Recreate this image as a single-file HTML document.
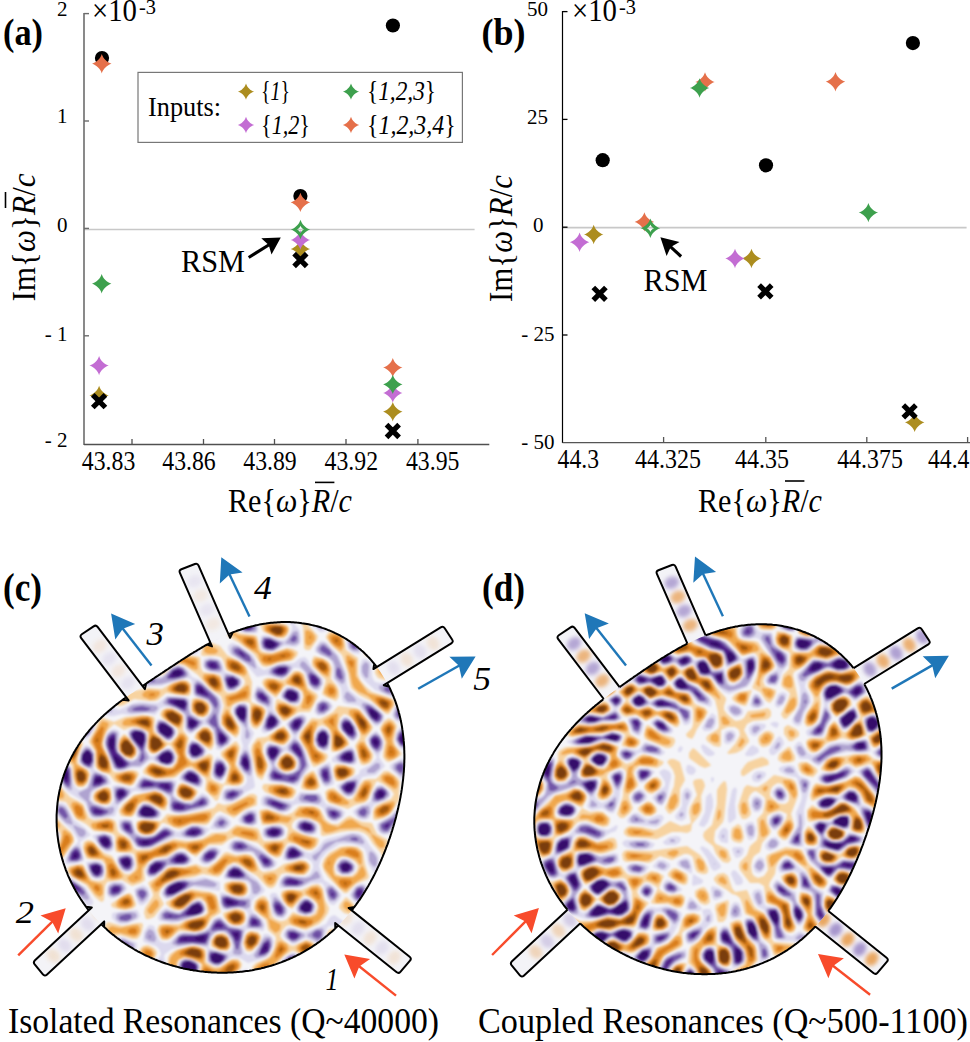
<!DOCTYPE html>
<html><head><meta charset="utf-8"><style>
html,body{margin:0;padding:0;background:#fff;overflow:hidden;width:970px;height:1042px;}
svg{display:block;}
text{font-family:"Liberation Serif",serif;fill:#000;}
</style></head><body>
<svg width="970" height="1042" viewBox="0 0 970 1042">
<rect width="970" height="1042" fill="#fff"/>
<line x1="84" y1="229.5" x2="474.6" y2="229.5" stroke="#c8c8c8" stroke-width="1.6"/>
<line x1="84" y1="13" x2="84" y2="445" stroke="#6c6c6c" stroke-width="1.6"/>
<line x1="84" y1="444.5" x2="489.3" y2="444.5" stroke="#505050" stroke-width="1.4"/>
<line x1="84" y1="13.6" x2="89" y2="13.6" stroke="#6c6c6c" stroke-width="1.4"/>
<line x1="84" y1="121.0" x2="89" y2="121.0" stroke="#6c6c6c" stroke-width="1.4"/>
<line x1="84" y1="228.4" x2="89" y2="228.4" stroke="#6c6c6c" stroke-width="1.4"/>
<line x1="84" y1="335.8" x2="89" y2="335.8" stroke="#6c6c6c" stroke-width="1.4"/>
<line x1="132" y1="444.5" x2="132" y2="439" stroke="#505050" stroke-width="1.3"/>
<line x1="203.5" y1="444.5" x2="203.5" y2="439" stroke="#505050" stroke-width="1.3"/>
<line x1="274.5" y1="444.5" x2="274.5" y2="439" stroke="#505050" stroke-width="1.3"/>
<line x1="346" y1="444.5" x2="346" y2="439" stroke="#505050" stroke-width="1.3"/>
<line x1="417.9" y1="444.5" x2="417.9" y2="439" stroke="#505050" stroke-width="1.3"/>
<text x="67.5" y="16" font-size="21" text-anchor="end"  >2</text>
<text x="67.5" y="123" font-size="21" text-anchor="end"  >1</text>
<text x="67.5" y="231.5" font-size="21" text-anchor="end"  >0</text>
<text x="67.5" y="340.5" font-size="21" text-anchor="end"  >- 1</text>
<text x="67.5" y="447" font-size="21" text-anchor="end"  >- 2</text>
<text x="92" y="20.6" font-size="31" textLength="45" lengthAdjust="spacingAndGlyphs">×10</text><text x="139" y="14" font-size="21" textLength="17" lengthAdjust="spacingAndGlyphs">-3</text>
<text x="3" y="45" font-size="38.5" text-anchor="start" textLength="40" lengthAdjust="spacingAndGlyphs" font-weight="bold" >(a)</text>
<text x="108.6" y="470" font-size="27.5" text-anchor="middle" textLength="53.5" lengthAdjust="spacingAndGlyphs"  >43.83</text>
<text x="189" y="470" font-size="27.5" text-anchor="middle" textLength="53.5" lengthAdjust="spacingAndGlyphs"  >43.86</text>
<text x="270" y="470" font-size="27.5" text-anchor="middle" textLength="53.5" lengthAdjust="spacingAndGlyphs"  >43.89</text>
<text x="351.3" y="470" font-size="27.5" text-anchor="middle" textLength="53.5" lengthAdjust="spacingAndGlyphs"  >43.92</text>
<text x="432.7" y="470" font-size="27.5" text-anchor="middle" textLength="53.5" lengthAdjust="spacingAndGlyphs"  >43.95</text>
<text x="228" y="512.4" font-size="34" textLength="124" lengthAdjust="spacingAndGlyphs">Re{<tspan font-style="italic">ω</tspan>}<tspan font-style="italic">R</tspan>/<tspan font-style="italic">c</tspan></text>
<line x1="315" y1="482.4" x2="334.4" y2="482.4" stroke="#000" stroke-width="1.6"/>
<g transform="translate(34.5,301.5) rotate(-90)"><text x="0" y="0" font-size="34" textLength="128" lengthAdjust="spacingAndGlyphs">Im{<tspan font-style="italic">ω</tspan>}<tspan font-style="italic">R</tspan>/<tspan font-style="italic">c</tspan></text></g>
<line x1="5.5" y1="192" x2="5.5" y2="208" stroke="#000" stroke-width="1.6"/>
<rect x="138" y="72.4" width="324.4" height="70" fill="#fff" stroke="#777" stroke-width="1.2"/>
<text x="148" y="116" font-size="28" text-anchor="start" textLength="73" lengthAdjust="spacingAndGlyphs"  >Inputs:</text>
<path d="M246.00,83.40C246.98,87.01 250.59,90.62 254.20,91.60C250.59,92.58 246.98,96.19 246.00,99.80C245.02,96.19 241.41,92.58 237.80,91.60C241.41,90.62 245.02,87.01 246.00,83.40Z" fill="#AC8D1F"/>
<path d="M246.00,116.80C246.98,120.41 250.59,124.02 254.20,125.00C250.59,125.98 246.98,129.59 246.00,133.20C245.02,129.59 241.41,125.98 237.80,125.00C241.41,124.02 245.02,120.41 246.00,116.80Z" fill="#C36DD3"/>
<path d="M351.00,83.40C351.98,87.01 355.59,90.62 359.20,91.60C355.59,92.58 351.98,96.19 351.00,99.80C350.02,96.19 346.41,92.58 342.80,91.60C346.41,90.62 350.02,87.01 351.00,83.40Z" fill="#3DA04D"/>
<path d="M351.00,116.80C351.98,120.41 355.59,124.02 359.20,125.00C355.59,125.98 351.98,129.59 351.00,133.20C350.02,129.59 346.41,125.98 342.80,125.00C346.41,124.02 350.02,120.41 351.00,116.80Z" fill="#E5704A"/>
<text x="261" y="100" font-size="27" textLength="29" lengthAdjust="spacingAndGlyphs">{<tspan font-style="italic">1</tspan>}</text>
<text x="261" y="134" font-size="27" textLength="49" lengthAdjust="spacingAndGlyphs">{<tspan font-style="italic">1,2</tspan>}</text>
<text x="367" y="100" font-size="27" textLength="69" lengthAdjust="spacingAndGlyphs">{<tspan font-style="italic">1,2,3</tspan>}</text>
<text x="367" y="134" font-size="27" textLength="88.6" lengthAdjust="spacingAndGlyphs">{<tspan font-style="italic">1,2,3,4</tspan>}</text>
<circle cx="102" cy="58" r="7.1" fill="#000"/>
<circle cx="300.4" cy="196" r="7.1" fill="#000"/>
<circle cx="392.9" cy="25.5" r="7.1" fill="#000"/>
<path d="M99.10,385.80C100.26,390.07 104.53,394.34 108.80,395.50C104.53,396.66 100.26,400.93 99.10,405.20C97.94,400.93 93.67,396.66 89.40,395.50C93.67,394.34 97.94,390.07 99.10,385.80Z" fill="#AC8D1F"/>
<path d="M300.40,239.30C301.56,243.57 305.83,247.84 310.10,249.00C305.83,250.16 301.56,254.43 300.40,258.70C299.24,254.43 294.97,250.16 290.70,249.00C294.97,247.84 299.24,243.57 300.40,239.30Z" fill="#AC8D1F"/>
<path d="M392.80,402.00C393.96,406.27 398.23,410.54 402.50,411.70C398.23,412.86 393.96,417.13 392.80,421.40C391.64,417.13 387.37,412.86 383.10,411.70C387.37,410.54 391.64,406.27 392.80,402.00Z" fill="#AC8D1F"/>
<path d="M99.10,355.90C100.26,360.17 104.53,364.44 108.80,365.60C104.53,366.76 100.26,371.03 99.10,375.30C97.94,371.03 93.67,366.76 89.40,365.60C93.67,364.44 97.94,360.17 99.10,355.90Z" fill="#C36DD3"/>
<path d="M300.40,230.30C301.56,234.57 305.83,238.84 310.10,240.00C305.83,241.16 301.56,245.43 300.40,249.70C299.24,245.43 294.97,241.16 290.70,240.00C294.97,238.84 299.24,234.57 300.40,230.30Z" fill="#C36DD3"/>
<path d="M392.80,383.30C393.96,387.57 398.23,391.84 402.50,393.00C398.23,394.16 393.96,398.43 392.80,402.70C391.64,398.43 387.37,394.16 383.10,393.00C387.37,391.84 391.64,387.57 392.80,383.30Z" fill="#C36DD3"/>
<path d="M101.80,54.10C102.96,58.37 107.23,62.64 111.50,63.80C107.23,64.96 102.96,69.23 101.80,73.50C100.64,69.23 96.37,64.96 92.10,63.80C96.37,62.64 100.64,58.37 101.80,54.10Z" fill="#E5704A"/>
<path d="M300.40,192.70C301.56,196.97 305.83,201.24 310.10,202.40C305.83,203.56 301.56,207.83 300.40,212.10C299.24,207.83 294.97,203.56 290.70,202.40C294.97,201.24 299.24,196.97 300.40,192.70Z" fill="#E5704A"/>
<path d="M392.80,357.90C393.96,362.17 398.23,366.44 402.50,367.60C398.23,368.76 393.96,373.03 392.80,377.30C391.64,373.03 387.37,368.76 383.10,367.60C387.37,366.44 391.64,362.17 392.80,357.90Z" fill="#E5704A"/>
<path d="M101.70,274.10C102.86,278.37 107.13,282.64 111.40,283.80C107.13,284.96 102.86,289.23 101.70,293.50C100.54,289.23 96.27,284.96 92.00,283.80C96.27,282.64 100.54,278.37 101.70,274.10Z" fill="#3DA04D"/>
<path d="M392.80,374.70C393.96,378.97 398.23,383.24 402.50,384.40C398.23,385.56 393.96,389.83 392.80,394.10C391.64,389.83 387.37,385.56 383.10,384.40C387.37,383.24 391.64,378.97 392.80,374.70Z" fill="#3DA04D"/>
<path d="M300.50,219.70C301.68,224.01 305.99,228.32 310.30,229.50C305.99,230.68 301.68,234.99 300.50,239.30C299.32,234.99 295.01,230.68 290.70,229.50C295.01,228.32 299.32,224.01 300.50,219.70ZM300.50,225.78C300.95,227.41 302.59,229.05 304.22,229.50C302.59,229.95 300.95,231.59 300.50,233.22C300.05,231.59 298.41,229.95 296.78,229.50C298.41,229.05 300.05,227.41 300.50,225.78Z" fill="#3DA04D" fill-rule="evenodd"/>
<path d="M92.80,394.90L105.40,407.50M105.40,394.90L92.80,407.50" stroke="#000" stroke-width="5.2" fill="none"/>
<path d="M294.10,253.70L306.70,266.30M306.70,253.70L294.10,266.30" stroke="#000" stroke-width="5.2" fill="none"/>
<path d="M386.50,424.70L399.10,437.30M399.10,424.70L386.50,437.30" stroke="#000" stroke-width="5.2" fill="none"/>
<text x="181" y="272.4" font-size="31" text-anchor="start" textLength="64" lengthAdjust="spacingAndGlyphs"  >RSM</text>
<line x1="248.7" y1="257.5" x2="269.5" y2="244.5" stroke="#000" stroke-width="3.1"/><polygon points="280.8,237.4 271.5,254.6 268.7,245.0 261.3,238.3" fill="#000"/>
<line x1="562.5" y1="227.6" x2="966.6" y2="227.6" stroke="#c8c8c8" stroke-width="1.6"/>
<line x1="562.5" y1="11" x2="562.5" y2="443" stroke="#000" stroke-width="1.2"/>
<line x1="562.5" y1="442.6" x2="970" y2="442.6" stroke="#555" stroke-width="1.4"/>
<line x1="562.5" y1="11.6" x2="567.5" y2="11.6" stroke="#000" stroke-width="1.3"/>
<line x1="562.5" y1="119.4" x2="567.5" y2="119.4" stroke="#000" stroke-width="1.3"/>
<line x1="562.5" y1="227.2" x2="567.5" y2="227.2" stroke="#000" stroke-width="1.3"/>
<line x1="562.5" y1="335.0" x2="567.5" y2="335.0" stroke="#000" stroke-width="1.3"/>
<line x1="663.6" y1="442.6" x2="663.6" y2="437" stroke="#555" stroke-width="1.3"/>
<line x1="765.8" y1="442.6" x2="765.8" y2="437" stroke="#555" stroke-width="1.3"/>
<line x1="866.8" y1="442.6" x2="866.8" y2="437" stroke="#555" stroke-width="1.3"/>
<line x1="967.6" y1="442.6" x2="967.6" y2="437" stroke="#555" stroke-width="1.3"/>
<text x="548" y="16" font-size="21" text-anchor="end"  >50</text>
<text x="548" y="124.2" font-size="21" text-anchor="end"  >25</text>
<text x="543.5" y="232.2" font-size="21" text-anchor="end"  >0</text>
<text x="554.5" y="340.6" font-size="21" text-anchor="end"  >- 25</text>
<text x="554.5" y="448.8" font-size="21" text-anchor="end"  >- 50</text>
<text x="572" y="20.6" font-size="31" textLength="45" lengthAdjust="spacingAndGlyphs">×10</text><text x="619" y="14" font-size="21" textLength="17" lengthAdjust="spacingAndGlyphs">-3</text>
<text x="481.5" y="45" font-size="38.5" text-anchor="start" textLength="44" lengthAdjust="spacingAndGlyphs" font-weight="bold" >(b)</text>
<text x="578.3" y="468" font-size="27.5" text-anchor="middle" textLength="41.4" lengthAdjust="spacingAndGlyphs"  >44.3</text>
<text x="668" y="468" font-size="27.5" text-anchor="middle" textLength="66" lengthAdjust="spacingAndGlyphs"  >44.325</text>
<text x="762" y="468" font-size="27.5" text-anchor="middle" textLength="54" lengthAdjust="spacingAndGlyphs"  >44.35</text>
<text x="870" y="468" font-size="27.5" text-anchor="middle" textLength="65.7" lengthAdjust="spacingAndGlyphs"  >44.375</text>
<text x="948.7" y="468" font-size="27.5" text-anchor="middle" textLength="41.4" lengthAdjust="spacingAndGlyphs"  >44.4</text>
<text x="698" y="512" font-size="34" textLength="124" lengthAdjust="spacingAndGlyphs">Re{<tspan font-style="italic">ω</tspan>}<tspan font-style="italic">R</tspan>/<tspan font-style="italic">c</tspan></text>
<line x1="785" y1="481" x2="804.4" y2="481" stroke="#000" stroke-width="1.6"/>
<g transform="translate(512.4,302) rotate(-90)"><text x="0" y="0" font-size="34" textLength="127" lengthAdjust="spacingAndGlyphs">Im{<tspan font-style="italic">ω</tspan>}<tspan font-style="italic">R</tspan>/<tspan font-style="italic">c</tspan></text></g>
<circle cx="602.7" cy="160.2" r="7.1" fill="#000"/>
<circle cx="766" cy="165.3" r="7.1" fill="#000"/>
<circle cx="912.9" cy="43.1" r="7.1" fill="#000"/>
<path d="M593.70,224.80C594.86,229.07 599.13,233.34 603.40,234.50C599.13,235.66 594.86,239.93 593.70,244.20C592.54,239.93 588.27,235.66 584.00,234.50C588.27,233.34 592.54,229.07 593.70,224.80Z" fill="#AC8D1F"/>
<path d="M751.50,248.80C752.66,253.07 756.93,257.34 761.20,258.50C756.93,259.66 752.66,263.93 751.50,268.20C750.34,263.93 746.07,259.66 741.80,258.50C746.07,257.34 750.34,253.07 751.50,248.80Z" fill="#AC8D1F"/>
<path d="M914.70,412.70C915.86,416.97 920.13,421.24 924.40,422.40C920.13,423.56 915.86,427.83 914.70,432.10C913.54,427.83 909.27,423.56 905.00,422.40C909.27,421.24 913.54,416.97 914.70,412.70Z" fill="#AC8D1F"/>
<path d="M579.60,232.50C580.76,236.77 585.03,241.04 589.30,242.20C585.03,243.36 580.76,247.63 579.60,251.90C578.44,247.63 574.17,243.36 569.90,242.20C574.17,241.04 578.44,236.77 579.60,232.50Z" fill="#C36DD3"/>
<path d="M735.00,248.80C736.16,253.07 740.43,257.34 744.70,258.50C740.43,259.66 736.16,263.93 735.00,268.20C733.84,263.93 729.57,259.66 725.30,258.50C729.57,257.34 733.84,253.07 735.00,248.80Z" fill="#C36DD3"/>
<path d="M644.40,212.20C645.56,216.47 649.83,220.74 654.10,221.90C649.83,223.06 645.56,227.33 644.40,231.60C643.24,227.33 638.97,223.06 634.70,221.90C638.97,220.74 643.24,216.47 644.40,212.20Z" fill="#E5704A"/>
<path d="M705.00,72.30C706.16,76.57 710.43,80.84 714.70,82.00C710.43,83.16 706.16,87.43 705.00,91.70C703.84,87.43 699.57,83.16 695.30,82.00C699.57,80.84 703.84,76.57 705.00,72.30Z" fill="#E5704A"/>
<path d="M835.50,72.10C836.66,76.37 840.93,80.64 845.20,81.80C840.93,82.96 836.66,87.23 835.50,91.50C834.34,87.23 830.07,82.96 825.80,81.80C830.07,80.64 834.34,76.37 835.50,72.10Z" fill="#E5704A"/>
<path d="M699.60,78.30C700.76,82.57 705.03,86.84 709.30,88.00C705.03,89.16 700.76,93.43 699.60,97.70C698.44,93.43 694.17,89.16 689.90,88.00C694.17,86.84 698.44,82.57 699.60,78.30Z" fill="#3DA04D"/>
<path d="M868.40,202.90C869.56,207.17 873.83,211.44 878.10,212.60C873.83,213.76 869.56,218.03 868.40,222.30C867.24,218.03 862.97,213.76 858.70,212.60C862.97,211.44 867.24,207.17 868.40,202.90Z" fill="#3DA04D"/>
<path d="M650.40,218.50C651.58,222.81 655.89,227.12 660.20,228.30C655.89,229.48 651.58,233.79 650.40,238.10C649.22,233.79 644.91,229.48 640.60,228.30C644.91,227.12 649.22,222.81 650.40,218.50ZM650.40,224.58C650.85,226.21 652.49,227.85 654.12,228.30C652.49,228.75 650.85,230.39 650.40,232.02C649.95,230.39 648.31,228.75 646.68,228.30C648.31,227.85 649.95,226.21 650.40,224.58Z" fill="#3DA04D" fill-rule="evenodd"/>
<path d="M593.30,287.50L605.90,300.10M605.90,287.50L593.30,300.10" stroke="#000" stroke-width="5.2" fill="none"/>
<path d="M759.10,285.10L771.70,297.70M771.70,285.10L759.10,297.70" stroke="#000" stroke-width="5.2" fill="none"/>
<path d="M903.30,405.10L915.90,417.70M915.90,405.10L903.30,417.70" stroke="#000" stroke-width="5.2" fill="none"/>
<text x="643.5" y="291.4" font-size="31" text-anchor="start" textLength="64" lengthAdjust="spacingAndGlyphs"  >RSM</text>
<line x1="681.1" y1="256.5" x2="670.1" y2="246.3" stroke="#000" stroke-width="3.1"/><polygon points="660.4,237.3 679.5,242.0 670.8,247.0 666.6,256.0" fill="#000"/>
<defs><filter id="blur" x="-5%" y="-5%" width="110%" height="110%"><feGaussianBlur stdDeviation="1.1"/></filter><filter id="blur2" x="-50%" y="-50%" width="200%" height="200%"><feGaussianBlur stdDeviation="2.2"/></filter></defs>
<clipPath id="clipc"><path d="M399.9,800.1 L399.3,803.1 L398.6,806.1 L398.0,809.1 L397.3,812.1 L396.5,815.0 L395.8,817.9 L395.0,820.8 L394.2,823.7 L393.4,826.5 L392.5,829.4 L391.6,832.2 L390.7,835.0 L389.8,837.8 L388.8,840.5 L387.9,843.3 L386.9,846.0 L385.8,848.8 L384.8,851.5 L383.7,854.2 L382.6,856.9 L381.5,859.5 L380.3,862.2 L379.1,864.8 L377.9,867.4 L376.7,870.0 L375.4,872.6 L374.1,875.2 L372.8,877.8 L371.4,880.3 L370.0,882.9 L368.6,885.4 L367.1,887.9 L365.7,890.3 L364.1,892.8 L362.6,895.2 L361.0,897.7 L359.4,900.1 L357.7,902.4 L356.0,904.8 L354.2,907.1 L352.5,909.4 L350.7,911.7 L348.8,914.0 L346.9,916.2 L345.0,918.4 L343.0,920.5 L341.0,922.7 L339.0,924.8 L336.9,926.8 L334.8,928.9 L332.6,930.9 L330.4,932.8 L328.2,934.8 L325.9,936.6 L323.6,938.5 L321.3,940.3 L318.9,942.1 L316.5,943.8 L314.1,945.4 L311.6,947.1 L309.1,948.7 L306.5,950.2 L304.0,951.7 L301.4,953.1 L298.7,954.5 L296.1,955.9 L293.4,957.2 L290.7,958.4 L288.0,959.6 L285.2,960.8 L282.4,961.8 L279.6,962.9 L276.8,963.9 L274.0,964.8 L271.1,965.7 L268.2,966.5 L265.3,967.3 L262.4,968.0 L259.5,968.7 L256.6,969.3 L253.6,969.9 L250.7,970.4 L247.7,970.9 L244.7,971.3 L241.8,971.7 L238.8,972.0 L235.8,972.2 L232.8,972.4 L229.8,972.6 L226.8,972.7 L223.7,972.7 L220.7,972.7 L217.7,972.7 L214.7,972.6 L211.7,972.4 L208.7,972.2 L205.7,971.9 L202.7,971.6 L199.7,971.3 L196.7,970.8 L193.7,970.4 L190.7,969.9 L187.7,969.3 L184.7,968.7 L181.8,968.0 L178.8,967.3 L175.9,966.5 L173.0,965.7 L170.0,964.9 L167.1,963.9 L164.2,963.0 L161.4,962.0 L158.5,960.9 L155.7,959.8 L152.9,958.6 L150.1,957.4 L147.3,956.1 L144.5,954.8 L141.8,953.4 L139.1,952.0 L136.4,950.5 L133.7,949.0 L131.1,947.4 L128.5,945.8 L125.9,944.2 L123.4,942.5 L120.8,940.7 L118.4,938.9 L115.9,937.0 L113.5,935.1 L111.1,933.2 L108.8,931.2 L106.5,929.1 L104.2,927.0 L102.0,924.9 L99.8,922.7 L97.7,920.5 L95.6,918.3 L93.5,916.0 L91.5,913.6 L89.6,911.2 L87.6,908.8 L85.8,906.4 L84.0,903.9 L82.2,901.3 L80.5,898.8 L78.9,896.2 L77.3,893.6 L75.7,890.9 L74.2,888.2 L72.8,885.5 L71.4,882.7 L70.1,880.0 L68.8,877.2 L67.6,874.3 L66.5,871.5 L65.4,868.6 L64.4,865.7 L63.4,862.8 L62.5,859.9 L61.7,857.0 L60.9,854.0 L60.2,851.1 L59.5,848.1 L59.0,845.1 L58.4,842.1 L58.0,839.1 L57.6,836.1 L57.3,833.1 L57.0,830.1 L56.8,827.1 L56.7,824.0 L56.6,821.0 L56.6,818.0 L56.6,815.0 L56.8,812.0 L57.0,809.0 L57.2,806.1 L57.5,803.1 L57.9,800.1 L58.3,797.2 L58.9,794.3 L59.4,791.4 L60.1,788.5 L60.7,785.6 L61.5,782.8 L62.3,779.9 L63.2,777.1 L64.1,774.4 L65.1,771.6 L66.2,768.9 L67.3,766.2 L68.4,763.6 L69.6,761.0 L70.9,758.4 L72.2,755.8 L73.5,753.3 L75.0,750.8 L76.4,748.4 L77.9,746.0 L79.5,743.6 L81.0,741.3 L82.7,739.0 L84.3,736.7 L86.0,734.5 L87.8,732.3 L89.5,730.2 L91.3,728.1 L93.1,726.1 L95.0,724.1 L96.9,722.1 L98.8,720.2 L100.7,718.3 L102.6,716.4 L104.6,714.6 L106.6,712.8 L108.6,711.1 L110.6,709.4 L112.6,707.7 L114.6,706.0 L116.6,704.4 L118.7,702.8 L120.7,701.3 L122.8,699.7 L124.8,698.2 L126.9,696.7 L128.9,695.2 L131.0,693.8 L133.1,692.4 L135.1,690.9 L137.2,689.5 L139.2,688.1 L141.3,686.7 L143.4,685.4 L145.4,684.0 L147.5,682.6 L149.5,681.2 L151.6,679.9 L153.7,678.5 L155.7,677.1 L157.8,675.8 L159.9,674.4 L162.0,673.0 L164.1,671.6 L166.2,670.2 L168.3,668.8 L170.4,667.4 L172.6,666.0 L174.7,664.6 L176.9,663.1 L179.1,661.7 L181.3,660.2 L183.5,658.8 L185.8,657.3 L188.1,655.9 L190.4,654.4 L192.8,653.0 L195.2,651.5 L197.6,650.0 L200.0,648.6 L202.5,647.1 L205.0,645.7 L207.6,644.3 L210.2,642.9 L212.9,641.5 L215.6,640.1 L218.3,638.8 L221.1,637.4 L223.9,636.1 L226.8,634.9 L229.7,633.7 L232.6,632.5 L235.6,631.4 L238.6,630.3 L241.7,629.2 L244.8,628.3 L248.0,627.3 L251.2,626.5 L254.4,625.7 L257.6,625.0 L260.9,624.3 L264.2,623.7 L267.6,623.2 L271.0,622.8 L274.4,622.5 L277.8,622.3 L281.2,622.1 L284.6,622.0 L288.1,622.1 L291.5,622.2 L295.0,622.4 L298.4,622.7 L301.9,623.2 L305.3,623.7 L308.7,624.3 L312.1,625.1 L315.5,625.9 L318.9,626.8 L322.2,627.9 L325.6,629.0 L328.8,630.3 L332.1,631.6 L335.2,633.1 L338.4,634.6 L341.5,636.3 L344.5,638.0 L347.5,639.9 L350.4,641.8 L353.3,643.9 L356.1,646.0 L358.8,648.2 L361.5,650.5 L364.1,652.8 L366.6,655.3 L369.1,657.8 L371.4,660.4 L373.7,663.1 L375.9,665.8 L378.0,668.6 L380.1,671.5 L382.0,674.4 L383.9,677.4 L385.7,680.4 L387.4,683.4 L389.0,686.5 L390.5,689.7 L391.9,692.9 L393.3,696.1 L394.6,699.3 L395.8,702.6 L396.9,705.8 L397.9,709.2 L398.8,712.5 L399.7,715.8 L400.5,719.1 L401.2,722.5 L401.8,725.8 L402.3,729.2 L402.8,732.5 L403.2,735.9 L403.6,739.2 L403.9,742.6 L404.1,745.9 L404.2,749.2 L404.3,752.6 L404.4,755.9 L404.4,759.1 L404.3,762.4 L404.2,765.7 L404.0,768.9 L403.8,772.1 L403.5,775.3 L403.2,778.5 L402.8,781.6 L402.4,784.8 L402.0,787.9 L401.5,791.0 L401.0,794.1 L400.5,797.1Z"/></clipPath>
<clipPath id="wgc0"><path d="M347.0,906.6 L411.8,958.6 L398.6,973.9 L333.6,921.7Z"/></clipPath>
<path d="M347.0,906.6 L411.8,958.6 L398.6,973.9 L333.6,921.7Z" fill="#F3F3F7"/>
<g clip-path="url(#wgc0)"><g filter="url(#blur2)"><ellipse cx="394.3" cy="957.5" rx="6" ry="7.5" transform="rotate(-141.3 394.3 957.5)" fill="#E89A48" opacity="0.18"/><ellipse cx="382.2" cy="947.8" rx="6" ry="7.5" transform="rotate(-141.3 382.2 947.8)" fill="#9A86C6" opacity="0.18"/><ellipse cx="370.1" cy="938.1" rx="6" ry="7.5" transform="rotate(-141.3 370.1 938.1)" fill="#E89A48" opacity="0.18"/><ellipse cx="358.0" cy="928.4" rx="6" ry="7.5" transform="rotate(-141.3 358.0 928.4)" fill="#9A86C6" opacity="0.18"/><ellipse cx="345.9" cy="918.7" rx="6" ry="7.5" transform="rotate(-141.3 345.9 918.7)" fill="#E89A48" opacity="0.18"/></g></g>
<clipPath id="wgc1"><path d="M93.2,906.2 L32.9,962.2 L44.7,976.6 L105.6,920.1Z"/></clipPath>
<path d="M93.2,906.2 L32.9,962.2 L44.7,976.6 L105.6,920.1Z" fill="#F3F3F7"/>
<g clip-path="url(#wgc1)"><g filter="url(#blur2)"><ellipse cx="53.5" cy="955.8" rx="6" ry="7.5" transform="rotate(-42.9 53.5 955.8)" fill="#E89A48" opacity="0.2"/><ellipse cx="64.8" cy="945.3" rx="6" ry="7.5" transform="rotate(-42.9 64.8 945.3)" fill="#9A86C6" opacity="0.2"/><ellipse cx="76.2" cy="934.7" rx="6" ry="7.5" transform="rotate(-42.9 76.2 934.7)" fill="#E89A48" opacity="0.2"/><ellipse cx="87.6" cy="924.2" rx="6" ry="7.5" transform="rotate(-42.9 87.6 924.2)" fill="#9A86C6" opacity="0.2"/><ellipse cx="98.9" cy="913.6" rx="6" ry="7.5" transform="rotate(-42.9 98.9 913.6)" fill="#E89A48" opacity="0.2"/></g></g>
<clipPath id="wgc2"><path d="M129.8,702.0 L79.5,635.9 L95.9,624.7 L146.1,690.7Z"/></clipPath>
<path d="M129.8,702.0 L79.5,635.9 L95.9,624.7 L146.1,690.7Z" fill="#F3F3F7"/>
<g clip-path="url(#wgc2)"><g filter="url(#blur2)"><ellipse cx="99.8" cy="646.2" rx="6" ry="7.5" transform="rotate(52.8 99.8 646.2)" fill="#E89A48" opacity="0.15"/><ellipse cx="109.2" cy="658.6" rx="6" ry="7.5" transform="rotate(52.8 109.2 658.6)" fill="#9A86C6" opacity="0.15"/><ellipse cx="118.6" cy="670.9" rx="6" ry="7.5" transform="rotate(52.8 118.6 670.9)" fill="#E89A48" opacity="0.15"/><ellipse cx="127.9" cy="683.2" rx="6" ry="7.5" transform="rotate(52.8 127.9 683.2)" fill="#9A86C6" opacity="0.15"/></g></g>
<clipPath id="wgc3"><path d="M212.8,648.2 L178.8,570.2 L197.5,563.0 L230.9,639.6Z"/></clipPath>
<path d="M212.8,648.2 L178.8,570.2 L197.5,563.0 L230.9,639.6Z" fill="#F3F3F7"/>
<g clip-path="url(#wgc3)"><g filter="url(#blur2)"><ellipse cx="194.5" cy="581.3" rx="6" ry="7.5" transform="rotate(66.4 194.5 581.3)" fill="#9A86C6" opacity="0.12"/><ellipse cx="200.7" cy="595.5" rx="6" ry="7.5" transform="rotate(66.4 200.7 595.5)" fill="#E89A48" opacity="0.12"/><ellipse cx="206.9" cy="609.7" rx="6" ry="7.5" transform="rotate(66.4 206.9 609.7)" fill="#9A86C6" opacity="0.12"/><ellipse cx="213.1" cy="623.9" rx="6" ry="7.5" transform="rotate(66.4 213.1 623.9)" fill="#E89A48" opacity="0.12"/></g></g>
<clipPath id="wgc4"><path d="M371.7,670.2 L443.1,625.9 L453.7,641.8 L382.1,686.2Z"/></clipPath>
<path d="M371.7,670.2 L443.1,625.9 L453.7,641.8 L382.1,686.2Z" fill="#F3F3F7"/>
<g clip-path="url(#wgc4)"><g filter="url(#blur2)"><ellipse cx="433.1" cy="643.3" rx="6" ry="7.5" transform="rotate(148.2 433.1 643.3)" fill="#E89A48" opacity="0.18"/><ellipse cx="419.9" cy="651.5" rx="6" ry="7.5" transform="rotate(148.2 419.9 651.5)" fill="#9A86C6" opacity="0.18"/><ellipse cx="406.8" cy="659.7" rx="6" ry="7.5" transform="rotate(148.2 406.8 659.7)" fill="#E89A48" opacity="0.18"/><ellipse cx="393.6" cy="667.8" rx="6" ry="7.5" transform="rotate(148.2 393.6 667.8)" fill="#9A86C6" opacity="0.18"/></g></g>
<g clip-path="url(#clipc)"><rect x="53.0" y="619.0" width="355.0" height="357.0" fill="#F4F4F8"/><g filter="url(#blur)"><path fill="#F7D3A0" fill-rule="evenodd" d="M96,633 92,634 88,633 69,619 83,619 88,622 92,621 96,619 110,619 101,630 96,633ZM130,627 126,627 124,626 118,619 142,619 130,627ZM161,621 156,622 147,619 163,619 161,621ZM270,666 266,667 262,666 254,654 238,642 229,637 218,624 214,622 207,620 206,619 231,619 236,629 239,633 244,634 254,635 257,636 260,649 263,652 272,653 287,648 293,649 298,652 297,656 293,660 278,663 270,666ZM284,638 278,638 264,632 262,630 260,623 251,619 262,619 263,621 264,622 281,623 287,625 289,628 289,631 287,635 284,638ZM310,650 306,650 304,648 303,626 298,619 307,619 307,622 308,625 318,636 317,640 310,650ZM332,621 329,621 326,619 336,619 332,621ZM365,637 356,634 352,631 351,625 352,619 365,619 367,626 365,637ZM392,628 389,629 384,628 380,624 378,619 396,619 397,622 392,628ZM407,626 402,622 403,619 407,619 407,626ZM236,738 226,730 221,724 221,716 224,706 221,696 210,689 198,675 185,666 180,664 174,665 172,666 164,674 160,675 144,671 131,677 125,676 119,673 117,672 117,668 119,665 122,663 130,662 143,665 154,661 164,659 170,656 175,648 167,643 161,642 156,643 149,650 143,651 138,650 132,644 130,642 131,640 136,637 154,634 164,630 180,631 191,623 198,622 203,623 203,631 202,639 188,637 184,637 180,640 177,646 176,648 177,649 188,655 200,657 201,668 203,672 216,674 220,675 222,679 225,691 228,693 234,692 239,690 244,685 245,682 244,679 240,676 226,670 223,660 221,657 216,656 203,656 201,655 203,641 212,643 220,646 227,655 239,661 246,667 252,682 251,702 262,706 266,710 265,715 262,724 258,728 256,729 252,727 250,722 250,703 246,702 240,702 233,705 231,709 231,712 240,728 239,734 236,738ZM106,690 101,688 97,682 93,667 82,660 75,648 72,647 60,647 53,644 53,629 66,635 76,644 84,645 92,650 94,655 95,664 97,666 107,670 110,673 110,676 107,688 106,690ZM389,714 386,714 371,701 359,695 351,688 350,684 348,673 342,655 332,646 326,638 326,636 329,632 332,631 336,632 341,634 344,637 346,650 358,658 358,661 358,674 360,680 366,687 372,692 388,697 394,700 395,703 394,706 389,714ZM118,654 112,654 105,650 104,648 104,644 107,640 112,638 118,638 122,639 126,642 124,646 118,654ZM407,662 386,647 383,647 374,657 371,657 366,656 364,654 364,650 366,638 366,638 383,642 389,639 394,639 405,643 407,644 407,662ZM336,701 326,697 322,694 326,680 324,678 316,670 312,666 312,660 314,656 318,657 324,659 328,661 330,664 332,668 331,679 337,686 339,691 339,697 336,701ZM56,708 53,708 53,691 65,691 68,688 69,682 68,678 65,675 60,674 53,674 53,660 54,660 64,662 73,670 80,680 83,691 83,694 82,695 71,695 68,695 61,704 56,708ZM394,679 384,680 378,678 375,673 376,665 377,664 382,664 393,670 399,678 394,679ZM287,720 284,721 282,720 275,710 275,706 276,700 278,699 292,705 298,706 300,704 302,701 303,696 302,692 297,688 287,685 284,687 276,698 266,690 263,685 262,682 264,679 268,678 284,680 294,671 299,671 304,674 308,688 317,694 318,697 310,712 299,712 287,720ZM407,702 402,700 400,697 401,685 400,679 402,678 407,678 407,702ZM124,705 119,706 113,703 109,698 108,696 108,693 130,692 148,688 162,689 172,683 182,680 188,681 191,684 191,692 190,695 188,696 166,693 158,700 155,701 149,701 134,699 124,705ZM74,732 71,732 62,727 60,724 61,721 66,716 77,713 80,711 82,708 84,698 88,698 92,699 95,701 96,704 96,712 95,714 86,716 83,717 74,732ZM204,717 198,717 192,712 191,706 192,699 196,698 202,699 206,701 209,704 210,708 209,712 208,715 204,717ZM317,766 314,767 312,765 306,750 299,738 300,733 310,720 312,718 320,719 324,717 333,712 338,706 346,707 356,708 360,710 368,720 373,727 372,730 365,739 366,744 373,754 373,757 372,760 370,763 365,765 362,765 360,763 355,746 356,744 360,738 360,733 356,724 352,718 347,715 344,714 340,718 338,726 339,730 348,740 349,744 349,745 340,751 332,752 331,750 331,736 330,732 328,728 324,726 322,725 318,727 314,734 314,744 318,750 327,754 328,757 325,762 317,766ZM216,801 209,794 205,790 206,781 205,778 192,768 186,768 176,777 173,778 156,779 144,774 143,772 144,769 150,763 154,763 166,767 172,767 176,762 177,756 173,749 170,745 168,745 156,753 154,754 150,753 147,748 148,733 145,730 138,728 132,727 124,730 114,724 112,726 107,731 105,736 103,742 104,748 109,758 112,769 114,772 119,772 132,770 137,771 139,774 134,784 130,786 118,783 114,781 110,775 98,770 95,766 95,751 89,742 90,739 95,730 99,720 101,718 104,718 114,722 125,717 143,715 150,716 154,717 155,720 154,728 155,732 167,742 170,743 177,736 178,732 177,728 162,718 160,714 162,710 167,708 172,708 178,711 183,715 184,720 183,730 189,738 186,750 186,754 187,757 191,760 194,761 209,754 212,755 213,758 211,774 211,778 215,781 222,784 224,784 226,780 229,768 228,763 221,756 221,752 226,748 236,741 239,745 240,748 236,764 244,776 244,781 242,784 238,786 224,785 218,800 216,801ZM389,762 386,761 383,757 383,754 385,742 380,728 384,721 389,718 394,721 397,726 394,740 395,745 402,754 397,758 389,762ZM407,729 404,724 407,718 407,729ZM53,743 53,725 55,728 53,743ZM210,750 194,738 196,733 203,727 206,727 209,728 213,733 214,744 212,749 210,750ZM262,780 257,777 255,772 251,750 252,745 257,738 266,737 280,728 284,726 288,731 291,736 290,739 287,743 284,745 281,745 268,741 264,744 263,748 263,752 268,766 264,776 262,780ZM132,759 130,759 125,757 119,751 118,746 119,742 120,738 124,734 126,735 130,739 137,750 136,756 132,759ZM83,787 78,787 75,784 73,778 72,766 65,758 64,756 65,751 67,746 72,739 76,737 81,740 83,744 78,757 78,763 81,766 88,770 90,774 88,782 86,785 83,787ZM407,757 406,754 407,752 407,757ZM288,772 284,772 281,770 278,768 277,764 280,757 286,753 288,753 293,756 295,758 297,763 295,769 288,772ZM102,902 100,901 95,897 86,885 72,877 67,871 68,868 70,866 76,865 82,864 84,866 89,876 92,880 98,881 104,880 106,871 105,864 101,860 89,859 86,858 83,848 83,846 84,842 88,840 92,841 104,853 112,856 119,868 125,874 130,874 135,870 136,865 135,858 134,854 131,853 116,852 115,848 115,836 113,834 107,832 94,831 86,824 76,819 66,802 53,800 53,761 56,766 59,781 61,787 70,797 78,801 83,804 89,818 94,820 108,818 114,820 116,822 118,832 130,839 134,848 137,850 150,849 164,843 174,839 188,841 202,839 212,833 227,832 236,825 257,828 259,830 262,838 264,841 282,840 286,838 287,835 288,830 288,828 284,825 280,824 262,825 260,818 259,812 260,810 266,809 286,815 292,813 299,806 311,806 317,807 320,809 326,820 332,824 338,824 347,817 350,816 362,822 372,823 375,830 377,834 388,840 388,852 389,854 396,860 396,862 393,872 394,876 397,878 407,882 407,896 404,898 401,898 396,892 390,880 382,871 382,866 382,856 381,853 373,844 368,836 364,833 358,831 348,831 341,832 329,835 323,836 321,835 320,826 317,822 310,819 300,818 295,820 292,824 292,828 295,830 302,834 318,838 319,840 318,844 316,847 312,850 306,850 296,844 288,843 286,846 281,856 280,857 276,858 268,853 258,843 236,837 230,839 222,845 214,845 209,845 198,855 196,857 184,849 179,849 167,857 155,858 149,862 144,870 145,880 141,883 132,886 122,880 107,882 105,886 104,900 102,902ZM341,781 336,781 334,776 333,769 335,765 338,764 344,765 352,767 355,769 355,772 354,775 349,778 341,781ZM316,790 306,790 302,789 301,787 302,782 304,776 308,773 312,771 314,771 317,776 320,786 319,788 316,790ZM377,820 374,820 373,818 373,812 374,808 377,805 391,799 394,794 391,790 383,784 377,781 376,782 368,800 364,803 355,805 348,809 329,803 326,799 325,792 328,789 334,788 336,790 346,798 348,799 352,799 355,794 360,784 364,780 368,779 376,779 384,771 388,771 390,772 398,778 400,782 399,794 399,800 390,814 384,818 377,820ZM191,801 188,801 184,801 177,796 176,790 179,784 182,783 186,784 193,787 197,790 198,792 197,794 194,799 191,801ZM288,799 279,798 265,792 262,788 263,785 264,784 282,784 292,787 296,790 296,793 293,798 288,799ZM106,805 100,804 95,802 93,799 93,796 94,793 97,790 102,788 107,787 110,788 111,790 112,799 110,804 106,805ZM131,817 121,816 119,812 119,810 123,804 134,795 155,791 162,793 167,798 168,802 166,810 162,810 149,803 143,802 139,805 134,815 131,817ZM149,835 143,835 138,832 136,826 137,821 144,820 161,821 167,814 178,815 188,814 210,809 214,808 218,803 224,805 233,803 250,794 254,794 257,796 257,805 245,810 234,818 232,817 222,812 220,811 216,813 209,823 206,825 192,824 180,829 178,829 164,823 162,823 155,833 149,835ZM60,862 58,862 53,860 53,850 59,844 61,836 59,831 53,829 53,814 64,826 71,832 74,838 74,842 60,862ZM398,840 391,838 393,830 398,824 402,822 407,821 407,837 402,839 398,840ZM347,893 344,893 328,877 324,871 322,865 324,859 329,853 340,847 348,846 358,847 363,852 365,864 369,876 368,879 356,884 347,893ZM149,919 146,919 144,913 145,908 153,896 153,894 148,883 149,882 158,876 166,869 170,867 185,867 196,864 203,867 208,867 216,862 224,853 227,852 236,855 246,854 251,855 255,859 260,870 263,872 275,870 284,864 300,860 306,861 310,865 310,868 309,871 306,874 304,875 298,875 286,873 281,874 275,886 272,888 269,888 266,886 257,876 250,872 239,865 234,863 228,866 221,875 218,877 203,874 194,877 176,880 167,884 161,889 159,895 164,904 154,917 149,919ZM407,864 403,862 401,859 407,852 407,864ZM352,876 357,871 358,866 357,864 353,860 347,857 342,857 338,859 336,862 334,866 335,871 336,874 342,876 352,876ZM53,889 53,873 58,875 59,880 57,888 53,889ZM242,897 234,896 226,892 224,889 224,884 227,882 233,881 240,881 246,883 248,888 248,892 246,895 242,897ZM260,976 254,976 252,967 256,963 266,959 270,956 274,949 276,938 275,936 268,930 266,920 254,910 254,906 255,901 260,897 263,896 266,897 269,902 272,916 275,919 280,921 282,921 286,920 292,913 293,912 302,916 310,916 315,913 317,908 317,904 312,899 306,896 304,896 292,909 287,906 283,901 281,896 281,894 282,891 286,890 302,890 312,885 317,884 320,885 323,889 325,900 329,908 328,913 324,919 319,924 306,930 302,929 290,925 286,926 282,931 280,936 283,940 290,945 293,946 304,941 306,940 311,941 317,946 317,949 316,952 311,956 305,957 294,951 292,951 284,956 274,967 260,976ZM377,909 374,910 370,909 367,907 365,904 368,893 370,889 372,886 377,888 379,890 381,895 381,904 380,907 377,909ZM167,940 162,940 159,936 157,930 159,925 164,924 179,924 186,920 203,916 207,913 207,910 205,902 200,899 194,900 184,909 179,910 174,910 169,907 166,904 166,902 180,894 191,889 210,892 215,894 217,896 221,912 220,913 212,918 206,928 202,931 196,932 180,931 178,932 170,939 167,940ZM80,909 72,909 61,906 59,900 59,895 60,892 64,891 70,892 77,896 81,902 81,906 80,909ZM131,909 125,910 118,909 112,907 111,904 124,895 130,893 133,896 136,904 135,907 131,909ZM352,915 344,913 339,908 340,904 346,897 350,900 356,907 356,912 354,913 352,915ZM407,922 391,920 389,918 390,912 392,908 398,905 402,906 407,911 407,922ZM242,925 236,926 230,924 224,918 223,914 223,913 234,909 239,909 244,911 245,913 246,918 245,922 242,925ZM76,939 71,939 60,933 53,933 53,911 60,923 65,927 70,926 74,924 83,916 86,916 88,918 89,922 87,926 82,934 76,939ZM137,939 132,939 120,935 106,938 104,931 105,925 106,924 108,922 122,926 137,923 142,923 143,925 142,931 140,936 137,939ZM407,976 394,976 390,974 383,974 380,972 372,962 370,961 356,965 347,964 338,971 329,975 324,975 323,974 322,973 324,964 328,958 330,957 334,957 346,962 348,959 356,946 359,944 371,956 376,956 384,952 385,949 384,943 382,938 378,936 371,935 359,940 355,936 356,931 359,926 364,925 371,924 383,926 390,934 396,938 401,940 407,939 407,953 402,950 396,949 389,952 387,955 390,964 394,969 398,969 407,967 407,976ZM334,946 329,947 326,944 326,940 327,934 329,930 332,929 340,929 345,932 346,936 342,940 334,946ZM252,951 250,952 246,951 243,944 244,938 246,934 248,932 251,931 258,932 261,936 261,940 259,944 252,951ZM227,951 218,950 214,948 211,946 211,940 215,935 222,933 226,934 228,937 231,944 230,948 227,951ZM104,976 81,976 87,966 85,955 86,949 92,943 102,940 104,940 105,942 104,949 95,961 93,966 97,972 105,976 104,976ZM152,976 138,976 145,967 145,964 139,954 140,949 143,946 148,945 152,947 155,949 157,952 156,956 149,967 153,976 152,976ZM230,976 196,976 198,974 200,970 201,964 194,960 185,958 179,960 177,966 180,972 185,976 167,976 168,958 170,954 176,950 190,946 198,946 205,949 206,952 206,962 214,967 220,967 230,960 233,959 238,959 240,961 242,964 241,968 236,973 230,976ZM65,966 60,966 56,963 53,960 53,956 55,954 59,950 68,947 72,950 73,956 70,962 65,966ZM118,974 116,974 114,970 112,961 113,955 114,953 118,951 125,952 130,955 130,960 125,968 118,974ZM316,976 282,976 285,973 288,971 302,967 308,970 316,976Z"/>
<path fill="#F0A84E" fill-rule="evenodd" d="M83,624 76,622 70,619 81,619 83,624ZM95,631 89,631 83,625 84,624 92,622 97,619 108,619 101,628 95,631ZM131,625 128,626 125,626 121,622 119,619 140,619 131,625ZM161,619 156,620 150,619 161,619ZM270,665 266,665 263,664 260,661 258,654 245,646 236,637 228,632 220,622 213,619 227,619 230,622 234,632 238,635 251,636 255,637 257,640 258,650 260,653 266,654 272,654 287,649 292,651 295,654 294,656 291,660 278,662 270,665ZM258,620 253,619 260,619 258,620ZM332,619 328,619 333,619 332,619ZM362,634 356,633 353,630 352,625 354,619 363,619 364,620 365,625 365,630 364,632 362,634ZM392,627 389,628 384,627 381,624 379,619 395,619 395,622 392,627ZM407,625 404,622 404,619 407,619 407,625ZM200,636 197,637 192,636 185,634 184,632 190,626 194,624 198,624 200,625 202,628 200,636ZM282,637 276,637 266,632 264,630 264,625 268,624 276,624 286,626 288,628 288,631 286,635 282,637ZM311,645 308,646 306,645 305,642 305,632 306,630 308,630 312,632 315,636 315,640 311,645ZM65,646 59,646 53,642 53,632 56,632 60,633 68,638 70,643 69,644 65,646ZM148,650 143,650 137,648 133,643 133,640 139,637 155,635 166,632 176,633 180,636 178,641 174,643 164,640 160,640 148,650ZM341,651 335,647 330,642 328,637 330,634 336,633 342,637 343,640 344,646 342,650 341,651ZM118,652 113,653 107,650 105,646 107,642 110,640 114,639 119,639 123,642 123,646 118,652ZM374,654 370,655 366,652 366,646 368,641 374,641 380,644 379,649 374,654ZM407,660 400,656 390,648 388,644 390,642 394,640 398,641 407,645 407,660ZM215,654 208,654 204,652 204,649 205,646 206,645 209,645 215,648 218,650 218,652 215,654ZM90,662 86,661 82,658 80,652 80,649 82,647 84,648 90,652 92,658 90,662ZM162,673 160,674 155,674 148,670 146,667 152,662 168,659 176,652 179,653 188,657 196,658 198,661 198,668 197,670 192,669 184,664 178,663 172,665 162,673ZM388,712 384,711 380,708 368,696 359,692 354,688 352,684 350,674 346,662 346,656 347,655 350,656 356,660 356,676 368,693 384,697 392,700 393,703 393,706 390,710 388,712ZM245,676 234,673 228,670 226,666 226,660 227,658 232,659 238,661 242,664 245,667 247,672 246,674 245,676ZM328,677 322,674 315,667 313,662 314,660 316,658 323,659 329,664 330,670 329,675 328,677ZM78,693 72,693 70,691 70,679 68,674 62,673 53,673 53,661 59,662 64,664 76,677 78,681 81,686 80,691 78,693ZM134,675 130,676 124,674 120,672 120,667 123,664 128,663 135,664 142,667 142,668 141,670 134,675ZM388,678 382,676 379,673 378,670 379,667 384,667 391,672 393,674 392,676 388,678ZM104,685 100,684 97,679 96,673 98,670 104,671 108,674 107,682 104,685ZM308,709 304,709 301,708 304,697 303,691 299,688 287,684 286,682 292,675 296,672 299,672 302,674 304,679 307,690 315,696 315,698 314,702 311,707 308,709ZM221,692 215,691 209,686 203,679 203,676 204,674 214,674 220,677 222,685 222,690 221,692ZM276,695 272,693 266,688 264,684 266,680 269,679 274,679 284,684 280,692 276,695ZM188,694 184,695 175,694 170,692 167,690 169,686 174,683 180,681 186,681 189,684 190,686 190,691 188,694ZM335,698 329,697 324,693 325,688 329,683 334,685 337,690 337,694 335,698ZM407,701 402,697 402,694 403,685 406,682 407,683 407,701ZM228,707 227,706 226,702 225,696 236,693 246,686 248,685 249,686 250,694 248,699 236,702 228,707ZM155,699 150,700 146,698 143,697 142,694 145,691 149,690 159,691 160,692 160,694 158,697 155,699ZM56,707 53,707 53,692 62,693 65,696 61,703 56,707ZM120,703 118,703 115,702 113,698 113,697 114,695 119,695 125,696 126,698 125,700 120,703ZM203,717 197,715 192,711 192,704 194,700 197,699 202,700 208,704 209,708 208,712 206,715 203,717ZM90,712 84,713 83,712 85,704 88,701 92,702 94,706 94,710 90,712ZM288,718 284,719 278,714 276,708 278,703 284,703 297,709 294,714 288,718ZM258,726 254,726 251,721 251,709 252,706 254,705 262,707 264,709 265,712 263,719 258,726ZM180,728 179,728 176,727 164,718 162,715 164,710 167,709 172,709 176,711 181,714 183,716 183,720 180,728ZM234,735 227,730 222,724 222,716 227,709 228,710 238,727 238,733 234,735ZM365,735 362,735 360,732 354,721 349,714 349,710 354,709 359,710 368,721 371,726 371,728 369,732 365,735ZM336,751 334,751 332,748 332,734 331,730 323,722 323,721 332,715 338,713 337,727 338,730 346,739 348,744 344,748 336,751ZM72,731 70,730 64,727 62,724 63,721 66,718 70,716 80,715 81,716 78,724 76,728 72,731ZM156,753 152,753 149,750 148,745 149,734 149,732 137,726 124,726 122,724 123,721 126,719 142,716 148,716 152,718 153,721 153,732 166,744 166,745 164,748 156,753ZM110,773 102,772 97,768 96,751 91,742 92,738 100,724 102,721 107,722 109,724 104,736 102,744 103,748 108,757 110,763 111,770 110,773ZM318,764 316,764 312,762 307,750 302,742 300,738 302,733 305,728 311,722 314,721 318,722 314,734 314,745 317,750 323,754 325,757 324,760 318,764ZM394,759 389,760 385,757 385,752 387,742 381,730 382,727 384,724 389,721 392,722 395,726 395,728 392,740 393,744 399,752 398,756 394,759ZM407,727 406,724 407,720 407,727ZM210,747 208,747 204,745 196,738 197,733 203,728 208,728 212,733 213,740 212,745 210,747ZM284,744 280,744 271,740 270,739 270,736 278,729 284,728 288,732 289,736 288,740 284,744ZM160,778 155,778 149,775 146,772 146,769 148,766 152,764 167,768 172,768 174,766 177,762 178,756 173,746 172,744 180,733 184,734 187,738 185,752 186,757 191,763 194,763 208,757 211,758 211,768 208,777 203,775 191,765 184,769 174,776 160,778ZM132,758 130,758 125,756 120,751 119,744 120,740 124,736 128,738 136,748 136,754 132,758ZM83,786 78,786 76,783 74,776 74,764 68,760 65,756 66,751 68,746 72,741 76,739 80,742 81,745 76,760 76,764 87,770 89,775 87,782 83,786ZM262,776 258,775 256,770 253,751 254,745 258,741 260,741 261,744 262,752 267,764 266,770 262,776ZM368,762 365,763 362,762 359,758 357,746 360,742 364,742 371,754 371,758 368,762ZM239,784 232,785 227,782 227,780 231,766 224,757 223,754 226,750 234,745 237,746 238,750 235,763 235,766 241,774 243,778 242,782 239,784ZM290,771 286,771 282,770 280,768 278,764 280,758 286,754 288,754 292,756 296,762 295,768 290,771ZM64,798 58,799 53,797 53,763 56,768 58,782 64,794 64,798ZM344,780 338,780 335,777 334,770 335,768 336,766 344,765 352,769 353,772 352,775 344,780ZM131,785 125,784 118,781 115,778 115,775 128,771 134,772 136,774 137,776 134,782 131,785ZM316,789 311,790 306,789 304,787 303,786 305,778 310,774 312,773 314,774 317,780 318,786 316,789ZM396,789 394,789 382,781 381,778 382,775 388,773 394,776 398,782 398,786 396,789ZM215,796 210,794 207,790 207,786 209,781 217,784 220,787 218,794 215,796ZM359,802 356,802 354,800 361,786 365,781 368,781 371,782 372,786 368,798 365,801 359,802ZM191,800 185,800 178,796 177,792 179,786 182,784 186,785 195,790 196,794 191,800ZM288,798 282,798 276,796 269,792 268,788 270,786 276,785 282,785 288,787 292,788 294,792 292,796 288,798ZM107,804 101,804 95,800 94,796 96,792 104,788 107,788 110,790 111,794 111,799 110,802 107,804ZM347,805 340,805 330,802 327,799 327,793 330,790 335,791 349,802 349,804 347,805ZM131,816 126,816 124,815 121,812 121,810 125,804 134,796 155,791 161,793 166,798 167,804 164,808 161,808 148,801 143,801 138,804 134,813 131,816ZM236,815 233,815 230,814 227,811 226,808 248,797 251,797 254,798 255,800 254,804 244,809 236,815ZM84,820 78,819 75,816 71,806 72,802 77,802 83,806 86,817 86,819 84,820ZM383,817 378,818 375,817 374,812 376,808 383,804 394,801 395,805 392,811 388,815 383,817ZM371,834 365,830 360,828 340,829 332,832 326,833 323,831 321,824 319,822 310,818 295,816 295,814 298,810 300,808 306,807 314,807 320,811 323,820 328,824 338,827 347,820 352,819 362,826 369,828 372,834 371,834ZM288,823 280,822 268,824 263,823 261,818 261,812 263,811 268,810 282,816 291,817 292,818 288,823ZM184,826 179,827 174,827 168,822 167,818 169,817 172,816 186,815 206,812 211,812 211,817 208,822 203,823 192,823 184,826ZM59,828 53,828 53,815 59,823 60,826 59,828ZM114,831 112,832 96,830 92,828 91,824 92,823 97,822 106,820 111,820 114,823 114,831ZM152,834 146,835 140,833 137,829 137,823 140,821 144,820 154,821 158,822 159,824 158,828 152,834ZM402,838 395,837 393,835 394,832 396,828 399,824 402,823 407,822 407,836 402,838ZM257,840 251,840 234,835 232,834 232,832 234,829 238,827 254,830 257,832 258,835 258,839 257,840ZM59,860 53,858 53,851 59,846 61,841 63,830 65,830 71,834 73,838 73,841 62,858 59,860ZM310,849 305,848 290,841 288,840 288,838 290,834 293,832 316,839 316,842 315,846 310,849ZM134,883 130,882 127,878 128,877 136,871 138,868 136,854 137,852 150,851 164,844 173,841 185,843 203,840 212,836 216,834 225,835 227,836 226,840 222,842 210,843 208,844 197,854 192,854 185,848 180,847 167,855 154,858 149,861 142,868 142,877 141,880 134,883ZM383,848 380,848 376,844 371,835 372,834 384,841 385,846 383,848ZM126,852 120,852 117,850 116,842 118,836 120,836 125,837 130,842 132,847 132,850 126,852ZM119,879 112,880 107,878 106,864 104,859 90,858 88,857 85,853 84,848 86,843 89,842 94,843 104,856 112,859 123,876 123,877 119,879ZM276,856 272,855 268,852 264,847 264,844 274,842 283,842 284,846 281,853 280,855 276,856ZM346,891 340,888 328,873 324,868 324,864 327,858 332,854 342,848 352,847 356,848 361,852 362,856 362,864 360,865 356,860 348,857 344,856 340,856 336,859 334,864 333,870 334,874 335,876 340,877 353,877 357,874 362,865 365,870 366,874 365,877 358,881 348,889 346,891ZM407,863 404,859 405,856 407,853 407,863ZM220,874 214,875 207,871 224,856 227,855 236,857 245,855 250,856 254,859 257,868 257,871 252,872 248,870 238,862 233,862 227,865 220,874ZM389,872 386,871 384,866 385,860 386,858 388,857 392,860 393,864 392,868 389,872ZM304,874 298,874 290,872 286,871 284,868 287,865 291,864 300,861 305,862 308,864 309,868 306,872 304,874ZM100,897 95,894 88,884 77,879 72,876 69,871 70,868 77,865 83,866 90,881 102,884 103,888 103,894 101,896 100,897ZM158,891 155,892 154,890 151,886 152,883 168,868 173,867 185,868 196,866 201,870 202,871 197,874 180,877 169,882 164,884 158,891ZM272,885 269,885 266,883 263,878 263,875 272,873 276,874 277,877 275,882 272,885ZM53,888 53,875 56,877 57,882 56,886 53,888ZM406,895 401,896 397,892 394,884 395,881 400,881 407,883 407,895 406,895ZM244,895 238,896 231,894 227,890 226,886 227,884 232,882 239,882 244,883 246,886 247,889 246,893 244,895ZM306,928 302,928 293,925 290,923 289,920 290,918 293,915 310,917 314,916 317,914 319,908 318,904 315,900 306,894 305,892 311,887 317,886 320,888 322,890 325,908 325,912 323,916 320,920 311,926 306,928ZM377,907 374,908 370,907 367,902 370,893 371,890 374,889 378,892 380,896 380,903 377,907ZM293,906 292,907 288,906 284,901 282,895 284,892 288,890 293,890 301,892 303,894 293,906ZM167,939 162,938 160,934 159,930 161,926 167,925 179,927 186,921 206,916 209,913 207,904 202,897 197,897 184,908 179,910 174,908 170,906 170,902 172,900 182,894 191,891 202,893 210,893 215,896 217,900 218,910 216,913 210,916 207,925 205,928 200,931 194,932 179,928 172,936 167,939ZM77,907 71,908 63,906 60,901 60,895 62,893 66,893 71,894 76,896 79,902 79,906 77,907ZM126,909 119,908 116,906 116,904 117,901 120,898 128,894 131,896 132,898 134,904 132,907 126,909ZM152,914 149,914 147,910 152,903 156,899 159,902 159,906 152,914ZM276,933 274,932 270,928 268,919 260,914 256,910 255,907 256,904 257,901 260,899 264,899 268,902 269,918 270,919 280,924 281,925 280,930 276,933ZM352,910 348,911 344,908 343,906 344,902 347,901 351,904 353,907 352,910ZM401,921 394,920 391,916 392,911 398,907 402,908 407,913 407,920 401,921ZM238,925 233,925 228,922 225,916 227,913 236,910 240,911 244,913 245,918 244,922 240,925 238,925ZM74,937 70,937 64,932 53,932 53,913 64,928 70,928 82,922 84,924 84,928 81,932 78,936 74,937ZM134,937 120,933 110,934 108,932 108,930 108,928 112,926 120,928 134,925 138,925 140,928 140,932 137,936 134,937ZM407,951 400,948 390,949 388,948 383,937 380,934 372,933 362,935 359,934 360,931 362,928 366,926 374,926 380,928 388,936 395,939 401,941 407,941 407,951ZM332,945 329,944 327,942 327,937 329,933 334,930 338,931 341,932 343,936 342,938 337,943 332,945ZM252,950 250,950 246,949 244,943 246,935 250,932 252,932 258,934 260,937 258,944 252,950ZM227,950 220,950 213,946 212,942 215,936 218,934 222,934 228,937 229,940 230,944 229,948 227,950ZM258,975 255,973 254,970 255,967 258,964 270,958 273,954 278,942 281,941 287,944 289,949 287,952 271,967 258,975ZM310,955 305,956 302,955 297,950 296,948 299,944 304,942 306,941 311,943 315,946 315,949 314,952 310,955ZM90,963 89,962 87,956 86,954 88,949 94,944 101,943 103,946 102,950 90,963ZM215,976 197,976 201,972 203,964 192,959 184,957 178,960 176,964 178,970 184,976 168,976 168,970 170,958 173,954 178,950 188,947 194,946 200,948 204,950 205,955 204,962 205,964 212,968 216,969 220,968 230,961 233,960 238,961 240,964 240,967 238,970 232,974 227,976 215,976ZM148,963 143,958 141,954 142,949 146,947 152,949 155,954 152,960 148,963ZM66,964 64,965 59,964 56,961 54,958 55,955 58,952 66,949 70,950 72,955 71,960 66,964ZM359,963 353,963 351,961 351,960 354,951 359,948 362,949 365,952 368,958 364,961 359,963ZM120,970 118,971 116,970 114,966 113,960 114,954 118,952 120,952 126,954 129,958 126,964 120,970ZM388,972 383,972 380,970 374,961 376,958 382,955 384,956 389,968 390,970 388,972ZM334,972 328,973 325,970 326,962 330,959 336,960 342,964 339,968 334,972ZM101,976 84,976 88,969 90,967 101,976ZM310,976 284,976 289,972 300,968 305,969 308,972 311,974 311,976 310,976ZM407,976 396,976 395,973 400,970 407,968 407,976ZM150,976 139,976 144,971 148,970 152,976 150,976Z"/>
<path fill="#D97E1C" fill-rule="evenodd" d="M78,620 76,620 72,619 79,619 78,620ZM95,628 92,628 91,626 102,619 104,619 100,625 95,628ZM131,624 128,625 125,624 123,622 121,619 137,619 131,624ZM362,632 358,632 354,628 354,624 356,619 361,619 363,622 364,628 362,632ZM390,626 388,626 384,625 380,619 393,619 393,622 390,626ZM407,623 406,619 407,619 407,623ZM282,636 276,636 269,632 266,630 267,626 270,625 275,625 281,625 284,626 286,628 286,631 282,636ZM197,634 194,635 190,633 188,631 189,630 192,626 198,626 199,628 199,631 197,634ZM62,645 58,644 55,642 53,638 54,635 59,634 66,638 67,642 66,643 62,645ZM173,640 166,638 163,637 163,636 168,634 174,636 175,637 175,638 173,640ZM311,639 310,639 309,638 310,635 311,636 311,639ZM340,647 335,645 332,642 331,638 333,636 338,636 341,639 342,644 340,647ZM146,649 142,649 137,646 135,643 136,640 138,638 144,637 153,637 156,638 152,644 146,649ZM256,648 252,649 247,646 243,642 243,638 248,637 254,638 256,643 256,648ZM116,651 112,651 108,649 107,644 110,642 116,640 119,641 121,643 120,648 116,651ZM407,657 402,656 395,650 392,646 392,643 395,642 400,643 406,646 407,647 407,657ZM374,651 371,652 369,650 368,648 370,644 374,644 376,646 376,649 374,651ZM270,663 264,662 262,660 263,656 275,655 284,652 288,652 291,654 291,656 288,658 270,663ZM88,656 86,656 84,653 87,654 88,656ZM194,666 191,665 185,662 173,660 172,660 176,656 179,656 185,659 194,661 196,664 194,666ZM162,672 160,673 155,672 151,670 150,667 152,664 156,662 170,661 167,667 162,672ZM244,672 242,673 239,673 231,670 228,667 227,662 228,661 232,660 238,662 243,667 244,672ZM326,674 322,672 317,668 315,664 317,661 323,661 327,664 329,670 326,674ZM353,667 352,668 349,664 348,661 350,660 353,661 354,662 353,667ZM62,670 53,671 53,663 58,663 63,666 64,668 62,670ZM134,673 130,674 124,673 122,670 122,667 126,665 135,666 138,668 136,672 134,673ZM104,681 101,680 100,678 99,674 101,673 104,674 105,676 104,681ZM302,687 294,685 290,682 291,678 294,674 299,674 302,677 304,684 304,686 302,687ZM218,690 214,689 209,685 205,679 207,676 214,675 218,678 220,680 221,685 220,688 218,690ZM76,690 72,688 72,684 74,682 76,682 77,685 78,688 76,690ZM275,693 270,690 267,686 267,684 269,681 274,681 280,684 281,686 280,689 275,693ZM184,694 174,692 171,691 171,688 173,685 178,683 182,682 186,683 189,686 189,691 186,693 184,694ZM334,694 330,695 328,692 328,690 329,687 330,687 334,688 335,691 334,694ZM407,698 404,696 404,692 405,688 407,687 407,698ZM234,700 230,701 228,698 230,697 236,695 244,691 247,691 247,694 246,697 234,700ZM56,705 53,705 53,693 59,694 62,697 60,702 56,705ZM154,696 150,696 149,696 149,694 154,693 155,694 154,696ZM308,705 306,704 306,702 306,697 308,695 310,695 312,697 312,700 308,705ZM389,709 386,710 382,708 377,703 375,698 380,697 389,700 391,702 391,704 389,709ZM203,715 198,715 194,710 193,704 196,701 198,701 203,702 207,706 208,709 207,712 203,715ZM288,717 284,717 280,714 278,709 278,706 279,704 286,705 293,709 293,712 288,717ZM257,725 254,724 253,722 251,718 252,709 256,706 260,708 263,712 262,720 257,725ZM179,726 174,725 167,720 164,715 165,712 167,710 172,710 179,714 182,716 182,720 181,724 179,726ZM366,732 364,733 360,730 353,715 354,712 358,712 360,713 367,721 369,727 366,732ZM234,732 228,730 224,724 223,718 225,715 227,713 232,717 236,724 237,728 234,732ZM71,729 65,726 65,722 69,718 76,717 77,718 77,722 74,727 71,729ZM149,729 130,722 131,721 137,718 148,717 151,720 152,722 151,727 149,729ZM334,727 328,722 329,720 332,718 334,718 334,720 334,727ZM389,738 386,736 383,730 385,726 389,723 392,725 394,728 392,734 389,738ZM317,762 314,761 312,759 309,748 304,742 302,738 304,732 311,725 312,725 313,727 312,740 312,746 314,750 320,754 322,757 320,760 317,762ZM107,771 102,770 98,767 97,763 97,750 93,742 93,739 95,735 102,726 104,728 102,738 101,746 109,762 109,768 108,770 107,771ZM210,744 209,745 206,744 199,739 198,734 202,730 206,729 210,732 212,738 210,744ZM284,742 280,742 275,741 273,739 272,736 278,731 281,729 284,730 287,733 288,736 287,739 284,742ZM336,750 334,748 333,745 334,732 335,730 342,736 346,742 344,746 336,750ZM156,752 152,752 149,748 149,740 152,734 160,738 164,744 162,748 156,752ZM162,777 156,777 152,775 148,772 148,769 150,766 154,765 168,770 174,769 178,763 180,756 175,746 174,744 179,737 182,736 184,737 185,740 183,754 187,762 187,764 172,774 162,777ZM131,757 125,756 120,751 120,744 124,738 128,739 135,748 135,754 131,757ZM74,760 71,760 69,758 67,756 67,752 70,745 76,742 78,743 79,746 77,755 74,760ZM366,760 364,761 360,757 359,750 360,745 362,745 365,747 369,752 370,757 366,760ZM392,757 389,757 387,754 388,749 389,746 390,745 394,748 396,752 395,756 392,757ZM232,762 227,758 225,754 228,750 233,747 236,749 236,752 234,759 232,762ZM262,773 258,772 256,766 255,752 256,749 257,747 258,748 260,750 265,764 264,769 262,773ZM292,769 286,770 282,769 280,766 280,762 284,756 287,755 290,756 294,760 295,766 292,769ZM206,774 203,773 199,770 197,768 196,764 202,760 208,759 210,762 210,766 208,772 206,774ZM59,795 56,794 53,786 53,766 56,772 57,786 60,793 59,795ZM344,778 340,779 336,776 335,770 338,767 346,767 351,770 350,775 344,778ZM83,784 78,784 76,780 75,772 77,768 83,769 87,774 87,780 83,784ZM239,783 233,783 229,781 230,775 233,770 236,770 240,775 241,780 239,783ZM131,783 126,783 122,782 119,780 118,776 125,773 132,773 134,775 135,778 131,783ZM314,787 308,788 305,786 304,782 306,780 310,776 312,776 316,780 317,784 314,787ZM394,786 389,784 385,781 384,778 385,776 389,776 393,778 395,782 395,784 394,786ZM364,799 359,799 358,794 364,785 368,784 370,786 369,792 366,797 364,799ZM188,799 182,798 179,794 178,790 180,786 184,785 188,786 192,788 195,792 194,796 188,799ZM215,792 212,792 210,790 210,787 210,785 214,785 216,787 217,790 215,792ZM288,796 282,796 277,794 273,792 273,788 275,787 280,786 287,787 291,792 291,794 288,796ZM107,803 102,803 97,800 95,796 98,792 104,789 108,791 110,793 110,798 109,800 107,803ZM161,807 156,805 146,799 145,798 146,796 154,793 158,793 161,794 164,798 165,802 164,806 161,807ZM341,802 336,803 332,801 329,798 329,794 332,792 336,794 341,799 342,800 341,802ZM130,814 126,814 124,812 123,810 124,806 131,800 136,798 138,799 138,800 134,810 132,812 130,814ZM236,811 232,811 232,810 233,808 246,802 248,802 248,804 236,811ZM83,816 80,817 76,814 74,808 75,805 78,805 82,808 83,811 83,816ZM383,816 378,816 376,812 377,809 383,805 390,804 392,806 390,811 387,814 383,816ZM317,818 303,814 301,812 301,811 306,808 315,810 317,811 319,814 318,817 317,818ZM274,822 268,822 264,822 262,818 263,814 265,812 269,812 279,817 280,818 279,820 274,822ZM182,825 179,826 175,824 173,823 172,820 174,818 190,817 202,814 206,814 208,816 208,818 204,821 191,821 182,825ZM54,826 53,827 53,817 57,823 57,824 54,826ZM112,829 101,829 97,828 96,826 98,823 108,821 113,824 113,828 112,829ZM149,834 144,834 140,832 138,828 139,823 142,821 146,821 156,823 157,826 156,829 153,832 149,834ZM402,837 396,836 395,834 396,830 398,827 401,825 407,824 407,834 402,837ZM254,837 248,836 241,834 240,832 244,831 252,832 255,835 254,837ZM59,856 56,857 54,854 61,846 65,835 68,835 70,838 70,842 59,856ZM311,846 308,847 303,846 293,840 293,836 296,836 311,840 313,842 311,846ZM126,850 120,850 118,848 117,842 119,838 124,838 129,842 130,847 129,848 126,850ZM197,852 194,853 191,851 188,848 187,846 189,844 194,843 202,843 203,844 203,846 200,850 197,852ZM98,857 92,857 88,855 86,848 88,845 92,844 96,848 100,854 98,857ZM143,864 140,864 138,861 138,856 140,854 152,852 167,844 173,843 177,844 177,846 176,847 168,853 164,855 154,856 143,864ZM278,854 275,854 270,852 267,848 268,845 274,843 281,844 282,846 281,848 278,854ZM359,858 354,857 345,853 344,852 348,849 355,850 359,853 359,858ZM407,861 406,859 407,855 407,861ZM254,868 251,869 246,867 240,862 239,859 245,857 250,858 254,862 255,866 254,868ZM216,873 213,871 213,868 224,859 228,859 228,860 221,870 216,873ZM329,866 328,864 329,861 330,861 329,866ZM116,878 112,878 109,876 108,866 110,863 113,864 119,872 119,876 116,878ZM302,873 294,872 291,871 288,868 290,866 294,864 304,863 306,865 307,868 305,871 302,873ZM84,880 78,879 73,876 71,872 72,869 78,866 83,868 87,877 86,880 84,880ZM160,886 156,887 155,886 155,883 169,870 174,868 193,871 191,872 168,881 160,886ZM53,886 53,877 55,878 55,882 53,886ZM136,879 134,877 137,876 138,877 136,879ZM272,880 269,881 268,880 267,877 272,877 273,878 272,880ZM347,888 344,888 341,886 339,883 339,880 344,879 351,880 352,883 347,888ZM244,894 239,895 233,894 229,890 228,886 230,884 233,883 242,884 245,886 246,889 244,894ZM404,894 401,894 398,890 396,886 398,883 402,883 407,885 407,892 404,894ZM98,892 94,889 94,886 95,885 98,885 100,888 100,890 98,892ZM320,900 317,899 310,894 309,892 311,889 316,888 318,889 321,894 320,900ZM293,904 288,904 285,900 284,895 287,892 293,892 298,894 299,895 298,898 293,904ZM376,906 371,906 369,904 369,901 370,895 374,892 377,893 379,898 378,903 376,906ZM182,908 178,908 174,907 172,904 172,901 178,896 185,893 191,892 195,894 195,895 193,898 182,908ZM76,906 70,907 64,904 61,901 62,896 66,894 74,896 77,901 77,904 76,906ZM214,910 212,910 210,908 207,900 206,896 208,896 212,896 214,900 216,907 214,910ZM126,907 120,906 119,902 123,898 128,897 131,899 132,902 131,906 126,907ZM266,914 262,913 257,908 257,904 260,901 263,901 266,903 267,908 266,914ZM400,919 394,918 393,914 395,910 400,909 404,912 406,916 404,918 400,919ZM239,924 234,924 231,922 227,918 228,914 230,913 234,911 239,912 242,913 244,916 244,919 242,922 239,924ZM56,930 53,930 53,916 59,926 59,928 56,930ZM194,931 186,929 184,926 184,925 187,922 191,920 202,918 206,919 207,922 204,927 200,930 194,931ZM306,927 302,926 295,924 293,922 293,919 298,918 313,920 312,924 306,927ZM76,934 71,934 69,932 69,931 74,928 78,927 80,928 79,931 76,934ZM134,934 130,934 127,931 131,928 136,928 137,931 136,934 134,934ZM168,936 166,937 162,935 161,931 162,928 167,927 173,928 174,930 173,932 168,936ZM252,948 250,949 247,948 246,944 245,942 247,936 250,934 252,933 257,934 259,938 257,944 252,948ZM335,942 330,942 329,938 330,935 334,933 336,933 340,936 339,938 335,942ZM224,949 218,948 214,945 213,940 216,936 222,935 228,938 229,943 229,946 227,948 224,949ZM395,945 390,945 389,944 389,942 390,941 393,942 395,943 395,945ZM310,954 305,954 301,952 299,949 300,946 305,943 308,943 311,944 313,949 312,952 310,954ZM276,958 275,959 275,956 277,948 280,944 282,944 286,948 286,950 282,954 276,958ZM407,947 405,946 407,944 407,947ZM92,958 90,958 89,956 88,954 89,950 94,946 96,945 100,946 100,949 99,952 92,958ZM202,960 180,955 179,954 182,950 188,948 192,947 198,948 201,949 203,952 204,956 202,960ZM150,958 148,959 144,957 144,954 145,950 149,950 152,952 152,955 150,958ZM358,961 354,960 354,956 356,952 358,950 360,951 364,954 365,956 363,960 358,961ZM65,963 62,963 59,962 57,960 56,956 60,952 66,951 70,953 70,956 68,961 65,963ZM119,969 118,968 115,966 114,958 118,954 124,954 127,956 127,961 124,966 119,969ZM384,969 382,968 378,964 378,961 380,959 383,959 385,961 386,966 384,969ZM332,970 329,970 328,968 327,966 330,961 334,961 337,962 338,966 336,968 332,970ZM232,973 226,974 220,973 219,972 228,964 234,962 238,964 238,967 236,970 232,973ZM262,970 258,970 259,967 263,964 269,963 270,964 267,967 262,970ZM182,976 170,976 170,970 172,966 173,966 182,976ZM210,976 200,976 204,968 206,967 216,972 216,973 210,976ZM306,976 286,976 293,972 300,970 305,972 307,974 306,976ZM407,976 399,976 398,974 401,972 407,971 407,976ZM96,976 88,976 88,974 90,972 94,973 96,976ZM149,976 141,976 146,973 149,974 150,976 149,976Z"/>
<path fill="#A0560E" fill-rule="evenodd" d="M131,622 126,623 123,619 135,619 131,622ZM389,624 384,623 382,619 391,619 391,622 389,624ZM359,630 356,628 355,625 356,622 359,621 362,624 362,626 360,629 359,630ZM281,635 276,635 272,633 270,631 269,628 274,626 281,626 283,628 284,631 281,635ZM62,642 58,641 56,638 57,637 62,638 63,640 62,642ZM146,648 142,648 139,646 137,643 138,640 144,638 152,639 153,640 152,643 146,648ZM252,646 248,644 246,642 246,640 250,639 253,640 254,643 252,646ZM338,642 335,642 335,640 336,639 338,640 338,642ZM114,649 111,649 110,646 111,643 114,642 118,643 119,644 118,648 114,649ZM406,655 401,654 397,650 395,648 395,644 401,644 405,648 407,652 406,655ZM284,657 279,656 282,655 286,655 284,657ZM270,660 267,660 269,658 272,658 270,660ZM239,671 234,670 231,668 230,666 230,664 233,662 238,664 241,668 239,671ZM326,670 323,671 320,669 318,666 318,663 322,662 325,664 327,667 326,670ZM158,672 153,668 153,666 160,663 166,664 166,666 164,669 161,671 158,672ZM58,669 53,669 53,665 58,666 59,667 58,669ZM132,672 126,672 124,670 124,668 128,666 132,667 135,668 132,672ZM300,685 296,684 293,682 292,679 294,676 298,675 301,678 302,682 300,685ZM218,687 215,688 210,685 208,680 209,678 214,677 217,679 219,684 218,687ZM185,693 177,692 174,691 173,688 178,684 182,683 185,684 187,685 188,688 187,691 185,693ZM276,690 274,690 270,688 269,685 270,684 274,683 278,685 278,688 276,690ZM56,703 53,703 53,695 58,695 60,697 59,701 56,703ZM388,708 384,708 381,706 379,703 379,700 383,699 388,702 389,704 388,708ZM203,714 198,714 195,710 194,706 196,703 198,702 202,702 206,706 206,710 203,714ZM288,715 286,716 281,714 279,709 281,706 286,706 291,709 291,712 288,715ZM257,723 254,721 252,715 254,709 257,708 261,710 262,714 260,720 257,723ZM178,725 172,722 167,718 165,715 167,712 173,711 179,715 181,718 181,721 179,724 178,725ZM365,730 364,730 360,727 356,718 356,715 358,714 360,716 366,722 367,727 365,730ZM234,729 233,730 230,729 226,726 225,720 227,716 230,717 233,721 235,726 234,729ZM72,726 69,726 67,722 70,720 72,719 74,720 75,721 74,724 72,726ZM148,727 138,724 136,722 136,721 142,719 148,719 150,722 150,726 148,727ZM389,734 387,733 386,730 387,727 389,726 391,727 391,730 389,734ZM308,744 305,740 303,736 306,732 310,729 311,732 311,738 310,743 308,744ZM209,743 204,742 200,739 199,734 202,731 206,730 210,733 211,739 209,743ZM282,741 277,740 274,738 276,733 281,731 284,732 286,736 285,739 282,741ZM338,748 335,747 334,744 334,736 336,734 342,738 345,742 342,746 338,748ZM158,750 154,751 150,748 150,740 152,736 154,736 160,739 163,744 162,746 158,750ZM98,742 96,742 96,740 98,737 98,742ZM131,756 126,755 122,751 121,745 124,740 128,740 133,746 134,752 131,756ZM180,749 178,748 176,745 178,742 180,739 182,740 183,742 182,747 180,749ZM74,758 72,758 70,757 68,752 71,746 76,744 77,745 78,748 77,752 74,758ZM366,757 364,758 362,756 361,751 362,749 364,749 366,752 367,756 366,757ZM233,757 230,758 228,756 228,752 232,750 233,750 234,752 233,757ZM392,753 390,752 390,751 392,751 392,753ZM106,769 101,768 98,764 99,757 100,754 101,753 106,757 108,762 108,768 106,769ZM317,758 315,757 314,756 315,754 318,756 318,757 317,758ZM262,769 260,769 258,768 257,764 257,758 258,755 262,759 263,763 263,767 262,769ZM288,769 284,769 281,764 281,760 286,756 290,757 294,762 293,766 288,769ZM206,772 202,771 198,766 199,763 204,761 208,761 209,764 208,769 206,772ZM162,775 158,776 154,774 151,772 150,769 152,768 155,767 161,769 166,772 166,774 162,775ZM346,777 341,778 338,776 336,772 338,768 344,768 348,770 349,774 346,777ZM53,781 53,768 55,775 54,778 53,781ZM83,783 79,782 77,780 76,774 78,770 83,771 86,774 86,779 83,783ZM238,781 233,782 231,780 231,776 233,773 236,773 238,775 239,778 238,781ZM130,781 124,781 121,778 122,776 126,774 131,775 132,778 130,781ZM312,786 310,786 307,784 307,781 310,778 312,778 315,781 315,784 312,786ZM190,798 185,798 181,796 179,792 180,788 185,787 192,790 193,794 190,798ZM286,795 280,794 276,792 276,790 280,788 286,788 289,792 288,793 286,795ZM364,797 361,796 361,793 364,788 366,787 367,790 367,793 364,797ZM104,802 99,800 97,796 100,792 104,790 107,792 109,796 108,800 104,802ZM162,804 160,805 153,802 149,799 149,796 155,794 161,796 164,800 162,804ZM336,799 334,798 333,796 336,797 336,799ZM130,812 126,811 125,808 128,804 133,802 134,804 134,806 132,810 130,812ZM382,814 379,812 380,809 384,806 388,806 389,808 388,811 384,813 382,814ZM312,814 308,812 308,811 312,811 314,812 314,814 312,814ZM272,820 266,820 265,818 265,816 268,814 273,816 275,818 272,820ZM53,824 53,820 54,823 53,824ZM180,822 177,822 180,820 182,822 180,822ZM150,832 146,833 142,831 139,828 140,824 142,823 144,822 154,823 155,824 155,828 153,830 150,832ZM107,828 104,828 101,826 102,824 107,824 109,824 109,826 107,828ZM402,835 398,834 398,830 401,826 406,826 407,827 407,832 402,835ZM308,844 302,842 301,841 301,840 309,841 310,842 308,844ZM125,849 122,849 120,847 119,843 120,840 124,840 127,842 127,847 125,849ZM166,853 160,853 158,852 164,846 168,845 172,846 172,848 166,853ZM196,850 192,849 191,847 194,845 198,845 199,847 199,848 196,850ZM276,852 274,852 271,850 270,847 271,846 275,844 279,846 279,848 276,852ZM96,855 92,856 89,854 87,850 89,846 92,846 95,848 98,853 96,855ZM143,861 142,861 141,859 141,856 144,855 148,855 148,858 143,861ZM250,867 246,865 243,862 243,860 244,859 248,859 251,861 252,865 250,867ZM302,871 295,871 292,868 295,865 302,864 304,865 305,868 302,871ZM83,878 80,878 75,876 73,872 74,870 78,868 82,870 85,876 83,878ZM114,876 112,876 111,874 110,871 112,868 114,869 116,872 116,874 114,876ZM162,882 161,882 161,880 163,877 166,872 170,870 176,870 181,872 178,876 162,882ZM346,885 344,884 344,882 347,883 346,885ZM239,894 234,893 231,890 230,888 230,886 236,884 240,884 243,886 244,890 242,893 239,894ZM406,891 404,891 401,891 399,889 400,886 404,886 406,888 406,891ZM317,895 314,894 314,891 316,891 317,892 318,894 317,895ZM292,903 288,902 286,898 286,895 290,893 295,894 297,896 294,901 292,903ZM180,907 178,907 174,906 174,902 176,900 185,894 190,894 192,895 191,898 189,901 185,905 180,907ZM376,903 372,904 371,901 371,897 374,894 376,895 377,898 377,901 376,903ZM74,905 70,905 65,904 63,901 64,897 68,895 72,897 75,901 74,905ZM128,904 124,905 122,902 123,901 125,899 128,899 130,902 128,904ZM263,911 261,910 259,907 260,905 262,904 263,904 265,907 264,910 263,911ZM401,916 397,916 396,914 396,912 398,911 401,912 403,914 401,916ZM239,922 234,923 232,921 229,918 230,914 236,912 240,914 242,916 242,919 239,922ZM54,927 53,927 53,920 56,925 54,927ZM197,930 190,929 187,926 187,925 190,922 194,921 200,920 204,920 205,924 203,926 197,930ZM306,924 302,924 298,922 299,920 303,920 307,922 306,924ZM168,933 167,934 165,932 165,930 169,930 170,931 168,933ZM252,947 248,946 246,942 248,937 252,935 256,936 257,938 256,943 252,947ZM226,948 220,948 215,945 214,942 216,937 220,936 222,936 226,938 228,943 227,946 226,948ZM335,937 334,938 333,937 335,937ZM308,952 305,952 302,950 301,948 302,946 306,944 310,946 311,949 308,952ZM281,952 280,953 279,950 281,947 282,947 283,949 281,952ZM95,954 92,955 91,952 92,950 95,948 97,949 97,950 95,954ZM200,959 196,958 187,955 184,954 184,952 188,949 191,948 198,949 201,950 202,954 202,956 200,959ZM65,961 60,961 58,958 60,954 65,952 68,954 68,956 67,960 65,961ZM122,966 119,967 118,966 116,962 116,958 119,955 124,955 126,958 125,962 122,966ZM359,958 357,958 357,956 359,954 361,955 361,956 359,958ZM232,972 227,972 225,972 225,970 228,966 233,964 235,966 235,967 232,972ZM206,976 203,976 204,971 208,970 211,972 211,973 210,974 206,976ZM179,976 171,976 172,972 174,971 180,976 179,976ZM302,976 289,976 293,973 299,972 303,973 304,974 302,976ZM407,976 401,976 402,974 406,973 407,973 407,976ZM148,976 143,976 146,975 148,976Z"/>
<path fill="#7A3E08" fill-rule="evenodd" d="M131,621 128,621 126,619 133,619 131,621ZM388,622 384,621 384,619 389,619 389,621 388,622ZM281,633 278,634 274,632 271,630 272,628 276,627 281,628 282,631 281,633ZM146,647 141,646 139,644 139,642 144,639 150,640 150,643 146,647ZM404,652 399,650 397,648 398,646 401,646 403,648 405,650 404,652ZM161,669 158,670 156,668 155,667 158,665 162,665 163,667 161,669ZM236,668 233,667 233,666 236,666 237,667 236,668ZM323,667 322,667 323,666 323,667ZM299,683 296,682 294,681 294,679 296,678 298,677 299,679 299,683ZM216,685 214,686 211,684 210,680 210,679 214,678 216,680 217,684 216,685ZM184,692 177,691 175,688 178,685 184,685 186,688 185,691 184,692ZM274,687 274,686 275,686 274,687ZM54,702 53,701 53,698 53,696 54,696 57,697 58,698 58,700 54,702ZM386,705 383,704 381,703 382,702 384,702 387,703 386,705ZM203,713 200,713 196,710 195,706 197,703 202,703 205,706 205,710 203,713ZM287,714 284,714 282,712 281,709 282,708 286,707 288,709 289,712 287,714ZM258,720 256,720 254,716 254,712 257,710 260,711 261,714 261,716 258,720ZM178,723 174,723 169,720 167,716 167,714 172,712 178,715 180,720 178,723ZM232,728 227,724 227,719 230,720 232,722 233,726 232,728ZM364,727 360,724 359,718 362,719 365,722 365,726 365,727 364,727ZM148,725 146,725 142,724 140,722 140,721 143,720 146,720 148,722 148,725ZM209,741 206,742 201,739 200,736 202,733 204,732 208,733 210,738 209,741ZM282,739 278,739 276,738 277,734 280,733 283,733 285,736 282,739ZM308,740 306,739 305,736 308,733 310,736 308,740ZM338,747 335,745 335,742 335,738 336,736 338,736 341,738 343,742 342,745 338,747ZM156,750 153,750 151,746 151,740 154,737 159,739 162,744 161,746 156,750ZM131,755 126,755 122,751 121,745 124,741 125,741 128,741 132,746 134,751 131,755ZM72,756 71,756 70,752 71,748 74,746 76,747 76,750 75,754 72,756ZM104,768 101,767 100,764 99,758 101,756 104,757 107,762 107,766 104,768ZM290,768 286,768 282,764 282,760 286,757 290,758 293,762 293,764 290,768ZM206,769 204,770 202,769 200,766 200,764 203,763 206,763 207,766 206,769ZM160,774 155,773 153,770 155,769 160,770 162,772 160,774ZM346,775 342,776 340,776 338,774 338,770 341,769 346,769 347,772 346,775ZM83,781 80,781 78,780 77,775 78,772 82,771 84,774 85,778 83,781ZM234,780 233,778 234,775 236,776 237,778 234,780ZM128,779 125,778 128,777 129,778 128,779ZM311,783 309,782 311,781 312,782 311,783ZM190,796 185,797 182,795 180,792 182,789 186,788 190,790 192,793 190,796ZM284,793 280,792 280,790 284,790 285,792 284,793ZM106,801 102,801 99,799 98,796 100,793 104,792 107,793 108,798 106,801ZM160,804 153,800 151,798 152,796 156,795 161,797 162,801 161,803 160,804ZM148,832 144,832 142,830 140,828 142,824 148,823 153,824 154,826 153,829 150,831 148,832ZM404,833 401,833 400,832 400,829 402,828 404,828 406,829 404,833ZM125,846 122,846 122,843 124,843 125,844 125,846ZM276,849 275,850 274,849 273,847 276,847 276,849ZM94,854 91,853 90,852 90,848 92,848 94,850 95,852 94,854ZM166,851 163,850 166,848 168,848 166,851ZM300,870 296,870 295,868 297,866 300,866 302,868 300,870ZM82,876 77,875 76,872 76,871 78,870 81,871 83,874 82,876ZM172,877 167,878 165,877 167,874 172,871 175,871 177,872 177,874 172,877ZM240,892 234,892 233,890 232,888 234,885 240,886 243,889 240,892ZM293,900 290,901 288,900 288,898 288,895 292,894 294,895 295,898 293,900ZM182,906 177,906 175,904 176,901 179,898 184,896 186,895 190,896 190,898 188,901 182,906ZM70,904 66,903 65,901 65,898 66,897 70,897 73,900 73,902 70,904ZM239,921 236,922 233,921 231,919 231,916 234,914 239,914 241,918 239,921ZM198,928 191,928 189,926 189,925 193,922 202,921 203,922 203,925 198,928ZM226,946 221,947 216,945 215,942 216,938 221,937 225,938 227,943 226,946ZM252,945 250,945 248,942 250,937 252,936 255,937 256,940 255,943 252,945ZM308,949 305,950 304,948 308,948 308,949ZM200,957 197,957 194,956 187,954 187,952 191,949 197,949 200,952 201,955 200,957ZM64,960 62,960 61,956 62,955 65,955 66,956 65,959 64,960ZM120,965 118,964 117,961 118,958 120,956 124,957 124,960 123,962 120,965ZM230,969 230,968 231,968 230,969ZM178,976 174,976 174,974 178,976ZM298,975 296,974 298,974 298,975Z"/>
<path fill="#DCD9EE" fill-rule="evenodd" d="M112,669 106,667 100,663 96,650 86,641 76,639 57,628 55,625 55,619 67,619 78,628 84,635 88,637 100,634 108,624 113,621 116,622 122,627 126,629 131,628 138,622 143,620 149,621 161,625 162,626 157,631 150,634 128,637 116,636 107,637 105,638 103,642 101,649 103,652 107,654 116,656 119,655 125,648 128,646 131,646 140,652 144,653 149,651 158,644 162,643 167,644 171,648 171,650 168,655 162,658 143,662 120,661 112,669ZM92,619 89,620 86,619 93,619 92,619ZM178,630 170,629 161,625 162,624 166,619 200,619 189,622 182,628 178,630ZM257,633 246,633 240,631 237,626 235,619 248,619 254,622 258,626 258,631 257,633ZM275,651 268,652 262,649 260,643 261,636 266,635 280,640 284,640 287,638 291,632 292,628 292,625 286,622 269,621 265,619 293,619 294,624 299,629 300,632 301,640 300,644 296,647 284,646 275,651ZM359,654 353,653 348,649 346,637 345,634 332,628 323,632 320,632 312,625 311,619 323,619 328,623 330,625 338,619 350,619 349,628 350,632 360,638 362,642 362,649 359,654ZM407,643 390,635 382,639 377,639 371,637 369,634 368,624 367,619 376,619 382,627 389,633 398,625 401,625 404,626 407,628 407,643ZM216,639 210,639 206,636 206,630 208,625 210,624 215,625 219,630 220,636 216,639ZM196,654 188,654 182,650 180,646 183,640 190,639 198,642 199,644 199,649 198,652 196,654ZM378,726 376,726 374,725 359,706 356,705 347,704 343,702 342,698 341,688 333,678 333,667 332,662 328,658 315,652 315,648 320,641 323,641 326,642 339,656 346,673 347,685 349,690 359,698 370,703 374,705 384,715 384,720 378,726ZM320,690 316,691 311,688 308,684 305,673 302,670 298,668 294,668 287,676 282,679 266,675 257,677 246,664 230,654 228,650 228,646 230,644 233,643 240,646 253,655 258,666 262,669 264,670 280,664 294,663 300,658 305,657 308,660 312,668 323,679 323,684 320,690ZM100,697 90,694 88,692 78,672 75,667 62,660 53,658 53,646 60,649 71,650 74,652 80,663 89,668 90,671 99,694 100,697ZM404,672 401,672 398,671 380,660 378,659 378,656 381,652 383,650 386,649 390,651 395,654 405,664 406,668 404,672ZM232,691 228,691 226,689 221,674 208,671 204,668 203,664 204,659 210,657 218,659 221,661 225,672 237,676 241,679 242,682 241,686 236,690 232,691ZM396,696 392,697 380,692 375,690 365,681 361,676 360,672 360,666 362,660 364,659 366,659 371,662 372,676 373,679 375,682 380,683 394,682 397,684 399,690 396,696ZM220,750 216,749 216,746 215,734 212,728 209,726 204,725 202,726 192,733 190,734 186,731 185,728 184,715 182,712 176,709 170,707 164,707 161,708 156,714 155,715 146,713 131,715 122,714 114,716 110,716 104,714 101,712 100,708 101,698 114,708 119,710 134,703 140,702 154,703 158,703 167,696 185,697 188,698 190,700 190,710 192,714 200,719 204,719 210,714 211,710 211,706 206,700 194,696 193,692 192,682 191,679 186,678 178,680 161,686 148,686 134,685 120,690 114,689 111,686 112,679 114,676 116,675 131,680 134,679 144,673 156,677 161,677 164,676 174,666 179,665 184,667 188,670 192,677 200,680 210,691 218,696 221,700 222,706 220,716 220,724 221,727 230,736 232,739 229,744 220,750ZM64,690 59,690 53,690 53,675 60,675 65,678 67,684 65,688 64,690ZM266,733 263,733 261,730 267,714 267,709 264,706 256,701 253,697 255,690 257,686 258,686 263,688 273,698 273,709 282,722 280,726 276,728 266,733ZM294,705 287,702 281,698 281,696 282,692 287,687 292,687 296,689 299,691 301,694 301,697 300,702 298,704 294,705ZM56,722 53,722 53,710 58,709 60,707 70,697 74,697 79,698 81,703 78,709 76,711 64,716 56,722ZM324,715 318,716 316,714 314,712 317,703 322,699 324,699 330,702 333,706 331,710 324,715ZM230,802 226,802 222,799 222,794 224,790 228,788 242,787 245,785 247,781 246,776 239,768 238,763 243,746 241,739 242,728 234,715 233,710 233,708 236,705 244,703 246,704 248,706 249,726 254,733 253,736 249,744 248,746 252,760 253,775 255,786 254,788 246,792 238,799 230,802ZM401,723 400,723 395,720 392,715 396,704 400,702 407,704 407,715 401,723ZM296,786 284,783 272,782 268,780 267,776 270,766 266,756 265,750 266,745 269,743 284,747 287,745 292,739 293,736 286,724 289,721 296,716 302,714 306,716 307,720 304,726 298,734 297,738 305,751 310,766 309,769 304,775 299,784 296,786ZM86,739 83,739 79,736 78,734 78,732 81,724 84,720 88,718 92,718 95,720 95,721 95,727 90,735 86,739ZM354,741 352,741 350,740 340,728 339,726 340,721 344,717 347,717 350,719 356,727 358,736 354,741ZM170,741 166,740 156,732 155,726 158,719 166,722 176,730 176,733 175,736 170,741ZM404,750 401,749 398,746 395,740 396,733 401,726 407,731 407,748 404,750ZM122,771 118,771 114,769 105,746 105,742 106,736 108,732 113,729 118,730 120,733 118,745 118,751 122,756 128,760 131,760 134,760 137,757 138,754 137,748 129,736 128,733 129,730 134,728 142,729 147,733 147,738 146,750 150,756 154,756 168,748 172,749 175,754 176,757 175,762 170,766 162,765 152,760 149,761 140,768 131,768 122,771ZM328,750 324,751 320,749 315,744 315,739 316,733 318,729 322,727 324,728 328,730 330,734 330,745 328,750ZM96,819 92,818 90,816 86,805 84,802 68,792 64,787 61,782 58,764 53,756 55,736 57,732 59,729 66,732 71,736 70,739 63,751 62,756 64,760 71,768 73,782 76,788 80,790 86,788 89,784 90,780 91,774 90,770 82,765 79,762 81,752 83,748 86,745 90,747 94,752 94,769 96,771 107,776 110,780 111,784 97,788 92,793 91,799 93,802 96,804 106,807 111,805 114,800 112,786 118,785 132,788 134,788 140,778 143,776 156,780 170,779 177,781 174,794 176,798 182,801 186,802 191,802 202,793 204,794 208,796 211,802 209,806 204,809 185,813 176,813 170,811 169,808 169,798 162,792 155,790 143,792 136,791 134,791 119,805 115,816 96,819ZM352,796 348,797 344,795 339,790 337,786 339,784 355,776 359,774 360,770 370,765 375,760 377,757 376,756 370,746 367,740 368,738 371,734 376,731 377,731 383,740 383,746 379,757 385,766 376,775 362,777 356,792 352,796ZM198,759 192,759 190,757 187,754 187,750 188,745 190,742 192,740 202,745 207,751 204,756 198,759ZM354,765 332,762 332,758 337,754 348,747 352,747 354,750 357,757 357,763 354,765ZM293,772 297,768 298,762 293,754 286,751 282,753 277,760 276,763 276,766 280,770 284,773 288,773 293,772ZM222,780 220,781 216,780 214,778 212,775 214,763 216,758 218,757 224,761 228,768 226,775 222,780ZM407,796 404,794 403,792 403,782 402,780 390,768 390,766 391,764 401,759 404,759 407,762 407,796ZM330,786 326,787 323,785 318,775 317,770 321,766 330,762 334,782 334,784 330,786ZM202,787 198,788 181,781 179,780 180,776 183,772 186,770 191,769 194,770 200,775 203,780 203,782 202,787ZM368,819 364,820 359,819 354,814 353,811 358,807 370,802 374,790 377,786 380,785 383,786 390,792 390,796 386,800 374,805 372,808 370,817 368,819ZM336,822 332,821 328,819 323,808 320,806 310,804 298,804 294,805 289,811 282,813 263,806 261,804 261,799 263,796 268,795 284,800 293,801 300,792 320,793 326,804 340,808 345,812 344,816 342,818 336,822ZM74,864 66,864 65,862 66,859 70,850 78,842 78,840 72,830 64,823 53,811 53,804 54,804 62,803 66,805 74,820 85,828 91,835 80,842 84,861 74,864ZM158,819 144,819 137,817 136,814 138,808 142,804 144,803 152,805 158,810 161,812 161,816 158,819ZM389,834 384,835 380,833 377,829 377,824 380,822 391,816 400,806 404,805 407,808 407,819 401,821 397,823 389,834ZM252,826 243,824 240,823 238,820 240,817 244,812 248,810 252,810 256,810 257,812 258,820 257,824 252,826ZM226,829 218,830 211,829 210,828 216,817 220,815 222,815 227,817 231,822 230,826 226,829ZM149,849 142,849 136,847 130,838 120,830 119,826 119,820 124,819 132,820 136,832 140,835 144,836 149,836 154,835 164,826 168,827 178,832 180,831 190,826 194,825 202,826 210,829 205,835 199,838 188,839 176,837 149,849ZM316,834 308,835 300,832 295,828 296,823 299,820 302,819 308,819 313,822 317,824 318,828 317,832 316,834ZM275,840 269,839 264,838 262,834 263,829 266,827 275,825 280,825 284,828 285,832 284,836 281,838 275,840ZM54,847 53,848 53,831 58,832 59,836 58,842 54,847ZM110,852 106,852 101,848 92,836 93,835 104,833 112,836 113,840 114,846 113,850 110,852ZM383,921 364,921 360,920 359,919 362,911 364,910 372,912 378,911 382,908 383,904 381,889 376,880 375,874 368,864 366,852 364,848 359,846 352,844 346,844 340,844 327,852 321,859 319,866 324,880 335,887 341,894 341,896 339,900 334,905 330,904 328,900 324,886 322,883 312,883 300,888 282,888 280,888 279,884 280,880 284,876 288,875 299,877 305,877 310,874 313,868 313,865 312,862 306,858 290,861 284,860 283,859 283,856 287,847 290,845 294,845 306,852 311,853 317,849 323,841 326,839 350,833 358,833 362,835 365,838 370,846 378,855 379,860 378,872 379,876 388,883 398,900 397,902 386,912 385,919 383,921ZM269,870 264,869 262,868 256,857 252,853 248,852 238,853 233,852 228,848 229,844 233,840 239,839 245,841 258,847 277,862 276,866 269,870ZM398,856 394,855 391,852 390,848 391,844 395,842 407,839 407,850 398,856ZM210,864 206,865 202,864 199,860 199,858 204,851 209,847 214,847 218,848 221,850 220,854 216,859 210,864ZM154,877 150,878 148,877 145,871 148,865 154,860 167,858 176,852 180,851 186,852 192,859 192,862 186,865 168,866 158,875 154,877ZM130,872 125,872 120,868 117,860 118,856 126,854 130,854 132,856 134,860 135,865 133,870 130,872ZM350,875 342,875 338,872 336,870 336,866 337,864 340,860 342,859 347,859 351,860 354,864 356,866 355,870 354,872 350,875ZM101,879 96,879 92,877 88,871 86,862 96,861 100,861 102,863 104,866 104,872 103,877 101,879ZM58,870 53,871 53,863 59,868 59,870 58,870ZM166,976 155,976 153,973 152,968 153,966 160,956 161,954 159,949 156,946 144,942 143,940 144,932 148,926 150,925 154,926 159,940 161,942 166,943 170,942 178,934 180,933 196,933 204,931 208,928 214,919 218,917 221,917 228,925 232,926 238,927 243,926 246,924 247,919 248,914 247,912 244,909 239,908 226,910 222,909 220,902 220,894 221,892 236,897 245,897 248,896 250,894 250,886 248,883 245,881 224,879 224,876 228,867 232,865 236,865 240,867 258,880 265,890 263,893 254,898 252,902 251,908 253,912 263,920 265,925 264,930 263,931 251,929 246,930 243,938 242,946 245,953 248,955 251,954 254,952 258,947 264,934 268,934 272,937 274,942 272,949 269,955 264,958 248,963 240,958 232,957 221,965 215,966 210,964 207,961 207,949 206,948 196,944 188,945 172,949 165,954 164,956 166,967 166,976ZM407,881 400,878 396,874 396,869 400,865 402,864 407,866 407,881ZM90,906 86,905 81,898 76,894 62,889 61,888 60,882 62,873 65,874 86,888 93,901 93,904 90,906ZM170,898 167,899 164,898 162,895 162,892 166,886 174,881 182,879 194,879 204,877 220,882 220,891 192,887 170,898ZM114,898 110,898 108,896 107,892 108,886 110,883 114,882 120,882 124,883 126,886 127,889 123,894 114,898ZM362,904 359,904 354,901 350,896 350,894 353,889 356,886 359,884 364,884 366,885 367,889 362,904ZM143,905 140,905 138,903 134,890 136,888 143,885 148,888 150,895 148,901 143,905ZM68,925 65,925 61,922 55,910 53,908 53,891 57,894 58,904 59,906 74,911 78,913 78,916 76,920 72,924 68,925ZM284,918 278,918 274,916 272,913 270,895 272,893 276,893 288,910 287,914 284,918ZM310,915 301,914 298,913 296,910 296,907 299,902 302,899 305,898 311,900 315,906 315,912 310,915ZM407,908 404,902 407,898 407,908ZM178,922 172,923 160,921 158,919 158,916 160,912 164,909 167,908 174,911 179,912 184,910 192,902 197,900 202,901 204,904 206,910 203,914 178,922ZM126,924 120,924 116,922 112,918 112,914 113,913 118,912 136,910 138,911 140,916 138,919 126,924ZM322,944 318,944 306,938 294,944 292,944 285,938 283,936 284,932 286,929 290,927 304,932 308,931 326,924 330,917 334,915 336,916 344,922 350,925 348,926 340,925 329,926 327,928 322,944ZM406,937 400,938 394,935 389,930 389,925 392,924 396,923 407,924 407,937 406,937ZM62,976 53,976 53,963 62,968 65,968 68,967 72,962 75,956 75,952 72,944 73,943 80,938 90,928 95,927 98,928 100,932 99,937 88,944 83,950 83,955 85,964 82,972 77,975 68,975 62,976ZM229,952 232,949 232,944 231,940 228,935 226,933 222,932 218,932 214,934 210,940 209,948 221,952 229,952ZM53,952 53,935 58,935 62,936 66,938 68,943 67,944 53,952ZM376,954 372,954 370,952 364,946 364,942 368,938 376,937 379,938 381,942 382,946 382,949 379,952 376,954ZM136,976 121,976 130,962 133,955 130,952 124,950 116,950 112,953 111,956 112,970 110,974 107,974 102,973 97,968 95,966 97,961 107,950 109,943 111,940 116,938 122,937 137,943 137,946 135,954 142,962 143,966 141,970 136,976ZM346,958 340,958 331,952 333,949 341,943 347,940 350,939 353,942 353,946 350,954 346,958ZM280,976 264,976 276,968 284,958 290,954 294,953 304,959 306,959 314,956 322,950 324,950 327,952 322,966 318,970 314,971 306,966 302,965 286,970 282,973 280,976ZM401,967 395,967 391,964 390,956 391,954 393,952 396,951 401,951 407,956 407,964 401,967ZM192,976 186,976 181,972 178,966 180,961 185,959 190,959 195,961 199,964 200,967 199,972 196,974 192,976ZM378,976 360,976 354,974 350,976 331,976 346,970 368,963 371,964 374,967 378,976ZM250,976 234,976 246,969 250,972 251,976 250,976Z"/>
<path fill="#AFA3D0" fill-rule="evenodd" d="M77,636 72,635 59,628 56,624 57,619 65,619 78,631 79,634 77,636ZM178,628 172,628 166,625 166,622 168,619 196,619 188,620 181,626 178,628ZM254,632 246,632 240,630 237,625 237,619 246,619 255,624 257,628 256,631 254,632ZM288,621 274,621 266,619 290,619 288,621ZM323,629 320,629 316,626 313,622 314,619 320,619 325,625 325,626 323,629ZM346,631 340,630 336,626 336,624 340,619 349,619 347,629 346,631ZM382,637 376,637 370,634 368,619 375,619 377,624 384,632 384,636 382,637ZM144,634 132,634 129,632 138,624 143,621 149,621 157,625 157,628 155,631 150,633 144,634ZM124,634 108,635 105,634 105,631 108,626 112,623 114,623 126,632 124,634ZM407,642 397,637 394,634 394,631 398,627 401,626 407,629 407,642ZM214,636 210,636 208,632 208,630 210,627 214,627 216,630 216,633 214,636ZM272,651 266,650 262,648 261,642 263,637 269,637 284,643 286,642 293,632 296,631 298,632 299,638 299,642 297,644 293,645 284,643 278,648 272,651ZM359,651 354,651 352,650 349,648 348,640 350,636 354,637 360,640 361,644 359,651ZM98,647 96,647 93,644 91,642 91,640 96,638 100,638 100,643 98,647ZM196,652 190,653 184,650 182,646 184,642 188,640 196,642 198,644 198,648 196,652ZM342,684 338,681 335,678 335,666 333,661 329,658 320,654 317,651 317,648 320,644 323,643 326,644 337,656 345,674 345,680 344,683 342,684ZM148,660 137,661 124,660 120,658 123,652 128,648 131,648 140,653 144,654 148,653 160,644 165,644 169,648 169,652 165,656 160,658 148,660ZM256,669 232,654 231,650 232,647 234,646 238,646 249,654 254,660 256,667 256,669ZM74,662 60,657 53,657 53,648 59,650 71,652 74,655 75,658 75,661 74,662ZM401,669 396,668 383,661 381,658 382,653 386,651 389,651 394,654 403,664 403,667 401,669ZM112,666 107,666 102,662 100,658 101,655 104,655 116,660 115,662 112,666ZM220,672 210,671 206,669 204,666 205,661 210,659 218,660 220,662 222,667 222,670 220,672ZM318,689 314,689 310,685 306,672 300,666 300,664 302,661 305,662 310,668 321,679 322,684 318,689ZM368,678 366,678 364,676 362,672 362,666 365,662 368,663 369,666 368,678ZM282,678 274,676 269,673 269,672 271,668 278,665 284,664 290,666 292,667 290,672 286,676 282,678ZM161,684 146,685 140,683 138,680 141,676 146,674 158,679 162,678 172,668 178,666 184,668 188,673 188,676 185,678 161,684ZM94,690 90,690 88,687 82,673 82,670 83,669 86,670 89,673 94,686 94,690ZM234,690 228,690 226,687 224,679 225,674 233,675 240,679 241,682 240,685 234,690ZM59,690 53,689 53,676 60,676 65,679 66,682 65,686 62,689 59,690ZM120,688 116,688 113,685 113,680 116,678 120,678 127,682 127,685 120,688ZM222,747 220,748 218,746 216,744 214,730 206,722 206,721 212,712 213,709 211,704 208,700 196,696 194,693 194,685 196,681 198,681 202,683 217,697 219,700 220,706 218,716 219,724 221,728 229,736 230,739 228,744 222,747ZM395,695 392,695 387,694 381,691 379,688 379,686 388,684 395,684 397,686 397,690 395,695ZM296,703 290,703 283,698 282,694 286,689 288,688 292,688 296,690 299,692 300,698 299,702 296,703ZM269,707 258,702 256,699 255,694 257,689 258,688 262,689 270,697 271,702 270,705 269,707ZM354,702 348,702 346,700 344,697 346,692 348,692 354,697 356,700 356,702 354,702ZM192,732 190,732 186,728 186,716 185,714 176,708 164,704 163,703 166,698 168,697 174,697 185,698 188,700 189,710 190,714 203,722 199,727 192,732ZM58,718 53,719 53,712 58,711 60,709 70,699 74,698 77,700 79,704 77,709 72,711 64,714 58,718ZM324,714 318,714 316,710 317,704 322,701 328,702 331,706 329,710 324,714ZM377,724 374,723 368,716 362,706 362,703 366,703 371,705 382,714 383,716 382,720 380,723 377,724ZM154,712 132,713 128,712 127,710 128,708 132,705 143,704 157,706 158,708 157,710 154,712ZM246,739 245,736 246,728 238,719 234,712 235,708 238,705 240,704 245,704 247,706 248,709 247,728 250,734 249,738 246,739ZM401,720 396,719 394,716 394,714 396,707 398,705 401,704 407,707 407,710 407,714 401,720ZM112,712 106,712 105,710 104,708 106,706 108,707 112,710 112,712ZM270,731 266,731 263,728 266,718 270,711 276,716 280,722 278,726 270,731ZM296,734 294,734 292,731 289,727 288,724 290,721 296,717 302,716 305,718 305,722 301,728 296,734ZM88,736 84,737 82,736 79,733 79,730 82,725 84,721 88,719 90,719 93,721 94,726 91,732 88,736ZM353,740 350,739 347,736 341,728 341,722 344,718 347,718 350,720 355,727 357,734 356,738 353,740ZM170,740 167,740 164,738 157,732 156,727 158,721 161,720 166,722 172,727 175,730 175,734 170,740ZM125,769 119,770 114,768 106,746 105,742 106,738 108,734 112,731 114,731 117,732 118,734 117,746 118,752 125,759 132,762 137,759 140,752 138,748 130,738 129,733 131,730 134,729 142,730 146,734 147,739 145,750 149,758 144,763 140,766 132,766 125,769ZM324,750 318,747 315,740 317,733 322,729 326,730 330,736 328,746 328,748 324,750ZM404,748 400,746 396,740 397,734 401,729 404,730 407,732 407,747 404,748ZM72,790 70,790 66,788 62,782 60,776 59,760 55,754 56,736 58,733 60,731 66,733 69,736 68,740 61,752 60,757 61,760 68,765 71,769 72,790ZM377,753 371,747 369,740 371,736 376,733 380,736 383,742 382,749 380,751 377,753ZM294,784 284,782 274,781 270,780 269,775 273,766 266,754 266,750 268,746 270,744 274,745 279,746 283,750 274,763 274,766 281,772 287,774 292,773 296,771 298,769 299,764 298,758 288,750 288,746 294,739 298,741 302,746 305,754 308,766 298,782 294,784ZM196,759 191,758 188,752 189,745 192,741 196,742 200,744 204,748 205,751 203,756 196,759ZM92,768 89,768 84,766 80,762 81,754 83,750 86,747 90,748 94,754 94,762 92,768ZM170,765 166,765 160,763 155,760 155,757 164,750 167,749 170,749 173,752 175,757 174,762 170,765ZM354,763 350,764 340,762 337,760 336,757 339,754 346,750 352,749 354,751 355,756 356,760 354,763ZM250,776 244,772 239,764 240,756 245,750 248,752 251,760 252,770 251,774 250,776ZM220,780 215,778 213,774 214,764 216,760 218,760 221,760 224,762 227,768 226,772 224,776 222,779 220,780ZM404,775 401,776 394,770 393,768 394,764 401,761 405,763 406,769 404,775ZM374,773 368,773 367,772 367,770 376,763 378,763 380,764 380,768 374,773ZM329,784 326,785 323,783 319,774 320,769 326,765 329,766 330,768 332,778 331,782 329,784ZM200,786 196,786 184,781 181,778 182,775 188,770 191,770 194,771 199,775 202,780 202,782 200,786ZM101,817 95,817 92,816 89,811 87,802 80,796 78,793 88,788 92,775 94,773 95,772 106,776 108,780 108,782 107,784 92,790 90,793 89,800 93,804 100,806 106,808 113,807 114,808 114,811 112,814 101,817ZM180,813 174,812 171,810 170,806 171,798 171,796 162,791 156,789 143,790 138,788 137,786 140,780 144,778 156,781 172,781 175,784 172,796 178,800 185,803 190,803 192,803 202,796 206,797 209,800 208,805 204,807 180,813ZM352,795 348,796 344,794 340,788 340,786 347,781 356,779 358,781 357,786 355,792 352,795ZM407,793 405,788 406,785 407,784 407,793ZM118,804 116,804 115,800 114,790 115,787 122,787 130,790 130,793 128,796 118,804ZM377,802 374,802 372,801 373,793 377,787 382,786 387,790 389,793 389,796 384,800 377,802ZM232,801 227,800 224,798 224,793 226,790 233,789 243,790 243,793 240,796 236,799 232,801ZM318,804 302,802 299,800 299,798 301,794 304,794 317,794 320,796 321,799 321,802 318,804ZM286,811 280,811 268,806 264,804 264,799 266,797 270,797 290,804 291,805 290,808 286,811ZM72,825 66,823 62,819 56,811 55,808 55,806 60,805 65,807 68,811 73,824 72,825ZM152,819 143,818 138,817 137,814 138,811 142,805 144,804 149,804 159,811 160,814 158,817 152,819ZM366,818 362,818 358,816 356,812 357,810 362,806 366,806 369,806 370,813 366,818ZM336,820 332,820 328,817 326,812 326,808 329,807 334,808 341,811 342,812 342,816 340,818 336,820ZM388,833 383,833 380,831 379,828 379,824 382,822 392,816 400,808 402,807 406,809 407,811 407,817 396,822 388,833ZM252,825 245,824 242,822 241,820 242,816 248,812 252,811 256,814 256,822 256,823 252,825ZM224,828 218,828 214,826 215,822 220,817 224,818 228,822 228,824 224,828ZM150,847 143,848 137,846 131,837 122,830 120,826 121,822 125,820 131,821 135,834 142,837 148,837 154,836 164,828 168,828 174,832 174,835 172,836 150,847ZM311,834 305,833 300,830 297,828 298,823 300,821 305,820 310,821 314,823 316,826 316,830 314,833 311,834ZM83,837 80,837 78,835 73,826 74,825 81,828 85,830 86,834 83,837ZM194,838 185,837 182,835 181,834 186,829 192,826 198,826 204,829 205,832 203,835 194,838ZM278,838 268,838 264,835 264,830 266,828 272,826 276,826 281,827 284,830 284,834 282,836 278,838ZM53,847 53,831 57,834 58,838 56,844 53,847ZM110,850 106,850 101,847 97,841 96,836 100,835 104,834 111,836 112,840 113,844 112,848 110,850ZM316,861 313,859 312,856 320,851 324,844 328,842 336,840 346,836 353,834 360,836 364,841 364,844 362,844 344,841 336,842 322,852 318,858 316,861ZM269,868 264,868 262,866 254,852 251,851 239,852 234,851 231,848 231,844 234,841 242,841 262,852 272,859 274,862 274,866 269,868ZM401,853 398,854 395,853 392,850 393,846 396,843 407,840 407,849 401,853ZM77,862 70,862 68,862 67,859 70,852 74,847 77,846 80,848 83,858 82,860 77,862ZM296,859 288,860 286,859 285,858 285,852 288,847 292,846 296,847 304,853 304,856 296,859ZM210,862 206,863 203,862 201,860 201,858 204,853 208,850 212,848 216,848 219,852 218,854 215,859 210,862ZM374,867 371,864 369,860 369,854 370,851 374,853 377,858 377,864 376,866 374,867ZM155,876 152,876 149,876 147,874 147,871 149,865 154,861 158,860 167,859 176,853 180,852 185,853 190,858 190,860 188,864 182,865 168,865 155,876ZM131,870 126,871 122,869 118,862 118,859 119,857 125,855 131,856 133,859 134,864 133,866 131,870ZM348,874 342,874 338,871 337,865 341,860 344,859 348,860 354,865 354,868 353,871 348,874ZM101,877 96,878 92,876 89,870 88,864 95,862 101,864 103,866 104,871 103,876 101,877ZM257,894 254,894 253,894 251,883 248,880 227,878 225,876 228,870 232,867 234,866 239,867 243,870 250,878 257,882 260,886 261,890 257,894ZM407,879 401,877 398,874 398,870 401,866 407,867 407,879ZM302,886 296,887 284,887 281,884 281,882 283,878 286,876 306,878 310,877 316,871 318,872 320,876 320,878 310,881 302,886ZM88,900 84,899 76,893 63,888 62,883 64,877 68,878 84,888 88,895 89,898 88,900ZM172,897 167,898 165,896 163,894 164,890 168,885 176,881 184,880 194,882 206,879 214,882 217,884 215,887 210,887 194,885 172,897ZM114,897 111,896 108,894 108,889 109,886 114,883 122,884 125,888 124,890 119,895 114,897ZM335,901 330,901 328,898 326,890 328,886 332,886 338,892 339,896 335,901ZM360,902 358,902 354,899 352,896 352,894 356,887 362,885 365,887 366,890 364,899 360,902ZM388,907 386,907 384,903 383,889 384,886 388,887 390,890 396,900 394,904 388,907ZM144,901 142,902 140,901 136,895 136,890 140,888 144,888 148,892 148,896 144,901ZM54,906 53,906 53,892 55,894 56,897 56,904 54,906ZM246,909 239,907 227,909 224,908 221,903 221,896 224,895 239,899 250,899 250,901 250,907 248,908 246,909ZM282,917 277,916 274,912 272,904 274,897 275,897 278,899 286,908 286,913 282,917ZM306,915 300,913 298,912 297,908 300,902 305,899 308,899 311,901 314,904 315,907 312,912 306,915ZM407,906 406,902 407,900 407,906ZM178,921 172,921 164,920 161,919 161,914 163,912 166,910 176,913 180,913 192,903 197,901 200,901 203,904 205,910 202,914 178,921ZM70,924 65,924 61,920 58,913 58,910 59,909 68,910 75,913 77,916 76,919 73,922 70,924ZM128,922 120,922 116,919 116,916 117,914 120,913 131,912 136,913 137,916 136,918 128,922ZM262,928 252,928 248,928 247,926 249,918 251,914 256,915 261,920 263,925 262,928ZM377,919 368,918 366,918 365,916 366,914 382,914 381,918 377,919ZM239,955 233,954 234,946 232,940 228,934 224,931 218,931 214,933 211,936 208,945 206,946 192,944 178,946 172,944 174,940 179,935 184,933 196,934 204,932 209,929 214,920 216,919 220,918 222,920 230,927 244,930 241,944 242,954 239,955ZM406,936 400,936 395,934 392,931 392,926 394,925 400,924 404,925 407,926 407,935 406,936ZM318,942 307,936 308,934 316,929 322,928 324,930 323,936 322,940 318,942ZM155,942 149,941 145,938 146,933 149,929 152,930 154,932 156,938 155,942ZM296,942 292,942 286,938 285,934 287,930 290,929 294,929 304,934 305,936 296,942ZM76,973 66,972 78,955 76,944 89,932 92,931 95,931 97,932 96,936 86,944 80,952 80,955 83,961 83,966 80,971 76,973ZM53,951 53,936 58,936 62,937 65,942 64,944 53,951ZM258,958 256,958 254,956 254,955 264,938 266,937 269,937 271,938 272,942 272,946 270,951 266,956 258,958ZM376,952 371,952 366,946 366,942 370,939 376,938 378,940 380,943 380,949 376,952ZM132,950 122,948 112,948 111,944 115,940 119,939 124,939 130,942 134,944 134,948 132,950ZM344,957 338,955 336,954 335,950 341,945 348,942 351,943 351,948 348,954 344,957ZM218,966 212,964 208,961 208,955 209,951 210,950 220,952 228,955 228,958 225,961 218,966ZM402,966 396,966 393,964 391,958 393,954 400,952 405,955 407,958 407,961 405,964 402,966ZM108,972 106,973 101,971 98,968 97,966 97,962 100,959 107,954 108,954 109,956 111,966 111,970 108,972ZM276,976 266,976 278,970 284,960 290,955 293,954 296,955 305,961 318,955 321,955 322,956 321,964 317,969 312,968 305,963 304,963 281,970 280,972 278,976 276,976ZM134,976 123,976 125,972 131,962 134,959 136,958 140,962 141,967 139,972 134,976ZM194,975 188,975 182,972 179,966 181,961 185,959 190,960 194,961 198,964 199,967 198,970 197,973 194,975ZM164,976 156,976 154,972 154,966 160,960 162,961 164,965 165,976 164,976ZM58,976 53,976 53,965 64,972 61,974 58,976ZM374,976 363,976 357,973 355,972 356,970 363,966 370,965 373,967 375,972 376,974 375,976 374,976ZM248,976 236,976 245,972 247,973 248,976ZM347,976 335,976 346,973 347,973 347,976Z"/>
<path fill="#7254A8" fill-rule="evenodd" d="M72,631 66,630 60,626 58,624 59,620 62,619 65,621 72,628 72,631ZM176,627 170,625 169,622 170,620 172,619 176,619 181,620 182,622 181,624 179,626 176,627ZM286,619 276,620 268,619 286,619ZM342,628 339,626 339,624 342,619 346,619 346,626 342,628ZM250,631 245,631 240,628 238,624 239,620 242,619 245,620 253,624 255,628 252,630 250,631ZM149,633 138,633 135,632 134,631 135,628 139,624 146,621 152,624 155,626 155,630 149,633ZM378,636 374,635 372,632 371,626 372,622 381,631 381,634 378,636ZM119,633 110,633 108,632 108,630 112,626 114,625 120,630 120,631 119,633ZM407,640 400,637 396,634 396,632 398,630 401,628 407,630 407,640ZM294,642 292,642 290,640 292,637 294,635 296,636 297,638 296,641 294,642ZM274,650 268,650 264,648 262,643 264,638 266,638 270,638 280,643 279,646 274,650ZM356,649 353,649 351,646 350,642 352,639 356,639 359,643 358,648 356,649ZM194,651 190,652 185,650 183,646 184,643 186,641 190,641 195,643 196,648 194,651ZM162,657 154,658 146,656 156,647 162,645 167,647 168,650 167,654 162,657ZM332,655 329,656 322,652 320,650 320,648 323,645 326,647 330,650 332,655ZM137,660 125,658 123,656 124,654 126,650 131,649 144,656 143,658 137,660ZM251,662 246,661 237,655 234,652 234,649 239,648 245,652 250,656 251,660 251,662ZM56,654 53,654 53,651 55,652 56,654ZM70,658 62,655 64,654 68,654 71,656 70,658ZM398,666 392,664 384,660 383,656 384,654 386,652 389,653 395,656 399,662 400,665 398,666ZM108,663 106,661 105,660 108,660 110,661 108,663ZM216,670 212,670 208,668 206,666 206,662 210,660 217,661 219,664 220,667 220,669 216,670ZM282,676 278,676 274,674 272,673 272,670 276,667 280,666 286,666 288,667 289,668 288,672 286,675 282,676ZM174,679 167,679 167,676 172,670 178,667 182,668 184,670 186,673 185,676 174,679ZM341,680 338,678 336,675 336,671 338,667 341,670 342,674 343,678 341,680ZM317,687 313,686 310,684 308,676 310,672 316,675 320,679 320,684 317,687ZM234,688 230,689 227,686 225,680 225,678 227,676 233,676 236,678 239,680 239,685 234,688ZM60,688 53,688 53,677 59,677 64,679 65,682 64,685 60,688ZM154,682 146,682 142,680 142,679 144,677 149,677 155,680 154,682ZM120,685 118,686 116,684 116,682 117,680 120,680 123,682 123,684 120,685ZM216,709 209,699 196,694 195,690 195,685 197,684 198,683 202,685 216,698 218,704 216,709ZM394,693 387,692 384,690 384,688 389,686 394,686 395,690 394,693ZM296,702 290,702 284,698 283,696 286,691 288,689 292,689 298,692 299,696 299,698 296,702ZM268,704 262,702 257,698 256,694 258,691 263,692 268,697 269,702 268,704ZM186,711 184,711 169,704 167,703 167,700 169,698 173,698 185,699 188,703 186,711ZM71,711 66,711 63,710 65,706 68,702 71,700 74,700 77,703 77,706 74,709 71,711ZM323,712 320,712 318,709 319,704 323,702 326,703 328,706 328,709 323,712ZM146,711 136,711 132,710 132,709 136,707 142,706 150,708 151,709 146,711ZM245,723 244,723 240,721 235,714 235,709 239,705 245,706 247,709 247,716 245,723ZM378,722 376,722 371,719 366,710 365,706 368,705 371,706 379,712 382,716 381,720 378,722ZM401,718 398,718 396,714 398,708 401,706 405,708 406,710 404,715 401,718ZM222,746 220,745 218,744 216,728 210,724 209,721 215,713 216,716 218,727 228,738 227,742 222,746ZM272,729 268,730 265,727 266,720 270,714 275,716 279,721 277,726 272,729ZM192,730 188,729 187,726 187,718 188,716 190,716 197,720 200,722 197,727 192,730ZM298,731 294,731 293,731 290,727 290,724 294,719 300,717 303,720 303,722 301,727 298,731ZM353,738 348,736 342,730 341,724 344,720 347,720 350,721 354,727 356,734 353,738ZM86,735 83,735 82,733 81,728 84,723 89,721 92,722 92,727 89,733 86,735ZM172,738 167,739 159,733 157,728 157,726 159,722 161,722 164,722 173,728 174,733 172,738ZM142,762 139,762 142,752 132,739 130,734 131,732 134,730 142,731 145,733 146,736 146,741 143,751 145,758 142,762ZM324,748 322,748 318,746 316,740 318,733 322,730 326,731 329,736 328,745 324,748ZM404,747 400,745 397,739 399,733 402,731 407,734 407,745 404,747ZM59,752 58,752 56,750 56,740 58,734 62,732 66,735 68,739 65,745 59,752ZM125,768 119,769 116,768 107,748 106,744 107,739 108,736 112,733 114,733 116,734 116,748 117,752 130,764 125,768ZM378,750 377,750 374,749 370,744 370,739 374,735 378,736 381,740 381,745 378,750ZM293,783 284,781 274,780 271,778 270,775 272,771 274,770 282,774 287,775 293,774 300,770 301,766 300,760 290,748 292,744 294,742 298,743 302,750 304,756 306,764 305,767 301,772 298,780 293,783ZM197,757 192,757 189,752 189,746 192,743 196,743 198,744 204,750 203,754 197,757ZM274,761 270,760 267,754 267,748 270,746 276,746 280,750 279,754 274,761ZM90,767 88,767 83,764 81,760 82,754 86,749 90,750 93,754 93,762 90,767ZM167,765 161,763 157,758 158,756 162,752 168,750 173,753 174,758 172,763 167,765ZM353,762 350,763 343,762 340,760 339,757 343,752 350,750 353,752 354,756 354,760 353,762ZM248,772 244,770 240,764 241,758 242,756 245,753 248,755 250,762 250,769 248,772ZM220,778 216,776 214,772 215,764 216,763 220,761 224,764 226,769 224,775 220,778ZM70,786 68,787 65,785 62,780 60,769 62,764 66,765 70,769 71,781 70,786ZM402,773 400,773 396,769 396,766 398,764 401,763 404,765 404,769 402,773ZM329,782 328,782 324,782 321,776 321,770 324,768 328,768 329,771 330,778 329,782ZM198,785 194,784 186,781 183,778 184,775 188,771 191,771 194,772 198,775 200,780 200,782 198,785ZM100,786 94,787 92,786 93,778 95,774 101,775 106,780 106,782 100,786ZM172,792 168,793 156,787 142,788 140,787 140,784 142,781 144,779 156,782 170,782 172,783 173,786 172,792ZM352,793 348,794 346,793 342,790 341,787 342,785 346,782 352,781 354,781 356,782 356,786 354,790 352,793ZM120,801 118,801 115,796 116,790 119,788 124,788 128,792 127,796 120,801ZM378,801 376,800 374,799 374,794 377,789 382,788 386,790 387,794 384,798 378,801ZM232,799 228,799 226,798 226,794 228,792 233,790 239,792 239,793 238,796 232,799ZM317,801 312,802 306,800 303,799 303,798 306,795 316,795 318,798 318,799 317,801ZM184,811 178,811 173,810 171,805 173,801 176,801 190,805 192,805 202,798 204,798 206,800 207,804 203,806 192,808 184,811ZM284,810 279,810 271,806 267,804 267,800 269,799 272,799 286,804 288,806 284,810ZM155,817 146,818 140,816 138,812 140,808 144,805 152,807 156,810 158,812 157,816 155,817ZM101,816 96,816 92,814 90,810 91,806 95,806 109,811 106,814 101,816ZM66,819 64,818 60,814 58,811 59,808 62,807 65,810 68,816 66,819ZM335,819 332,818 329,816 328,812 329,810 335,810 339,812 340,816 335,819ZM365,816 362,816 359,814 359,811 360,810 364,808 366,809 367,812 365,816ZM388,831 384,831 382,829 381,828 381,824 394,818 400,811 402,810 404,811 405,814 405,816 395,821 388,831ZM252,823 248,824 244,822 243,818 244,816 250,813 254,814 255,820 252,823ZM222,826 220,826 218,824 218,822 221,820 224,820 225,823 222,826ZM311,832 305,832 300,830 298,826 300,823 305,821 312,824 314,826 315,829 314,831 311,832ZM131,834 126,832 123,829 122,824 124,822 128,822 131,824 133,832 132,834 131,834ZM196,837 187,836 185,835 185,832 188,829 192,827 197,827 201,829 202,830 202,834 196,837ZM278,837 272,838 268,836 266,834 266,830 272,827 280,828 282,830 282,834 278,837ZM146,847 142,847 138,846 135,841 136,837 146,838 152,837 156,835 162,830 166,829 168,830 171,832 171,835 169,836 152,846 146,847ZM53,846 53,832 56,834 57,838 56,842 53,846ZM108,849 104,848 100,844 98,840 99,836 106,835 110,838 112,844 111,847 108,849ZM359,840 356,841 351,840 350,838 356,837 359,840ZM242,850 238,850 234,849 233,847 234,844 236,842 239,842 244,843 247,846 248,847 247,848 242,850ZM400,852 397,852 395,850 395,847 396,846 399,844 407,842 407,846 400,852ZM77,861 71,861 70,860 69,858 71,852 74,849 77,848 80,851 81,856 80,859 77,861ZM292,859 288,859 286,856 287,852 289,848 292,847 294,847 301,852 302,854 301,856 298,858 292,859ZM210,861 208,862 204,861 203,858 204,854 208,851 210,850 214,850 217,852 217,854 215,858 210,861ZM184,864 175,864 170,862 170,860 176,854 182,853 186,855 189,859 187,862 184,864ZM268,867 264,866 262,863 259,858 260,854 264,855 271,860 272,864 271,865 268,867ZM128,870 124,869 120,864 119,859 122,857 128,856 132,859 132,865 131,868 128,870ZM155,874 150,875 148,872 148,870 150,865 156,861 161,861 166,862 166,864 162,870 155,874ZM348,873 342,873 340,870 338,866 341,862 346,861 352,864 353,866 353,870 348,873ZM98,877 94,876 91,872 89,866 91,864 98,863 102,866 103,871 102,874 98,877ZM238,879 230,878 227,876 228,871 232,868 234,867 239,868 245,874 245,877 238,879ZM407,878 402,876 400,874 399,871 401,869 404,868 407,868 407,878ZM298,886 286,886 283,883 284,880 286,878 290,877 300,880 304,882 302,884 298,886ZM83,895 65,888 63,884 64,880 66,879 70,880 80,886 85,892 84,895 83,895ZM173,895 167,896 165,894 165,889 168,886 173,883 179,881 185,881 189,883 189,884 186,888 173,895ZM114,895 112,895 110,893 110,888 114,885 120,885 122,888 122,890 119,894 114,895ZM257,888 256,888 256,887 257,888ZM359,900 355,898 354,894 356,889 359,887 362,887 364,889 364,894 362,898 359,900ZM335,899 332,899 329,896 328,892 329,889 332,888 336,892 337,895 335,899ZM144,898 142,899 139,896 138,892 140,890 143,890 146,892 146,895 144,898ZM389,904 386,902 386,900 385,894 386,891 388,891 390,892 394,898 394,901 389,904ZM53,904 53,894 55,900 53,904ZM232,907 227,908 223,906 222,901 222,898 224,897 227,896 239,900 245,901 247,902 246,905 245,906 232,907ZM282,915 278,915 275,912 273,906 275,901 276,901 280,902 284,908 284,912 282,915ZM310,913 304,913 299,910 299,906 304,900 308,900 313,904 313,908 312,912 310,913ZM176,919 166,919 164,918 163,914 167,912 180,915 191,905 197,902 200,902 203,906 204,908 203,912 200,914 192,916 182,917 176,919ZM70,923 65,922 62,920 60,914 60,911 68,911 74,914 75,916 74,919 70,923ZM126,921 120,920 119,918 120,916 126,914 130,914 132,916 131,919 126,921ZM258,927 252,927 250,926 249,922 251,917 254,917 260,920 261,925 258,927ZM238,950 236,949 233,938 227,930 211,931 212,926 215,922 218,920 221,920 228,928 239,929 242,931 242,936 238,950ZM406,934 401,935 397,934 394,931 394,928 398,926 405,926 407,929 407,932 406,934ZM296,940 292,941 288,938 287,934 288,931 294,931 301,934 300,937 296,940ZM318,939 313,937 312,934 315,931 318,930 321,931 322,934 321,937 318,939ZM206,944 203,944 192,943 179,944 176,943 176,942 178,937 182,935 196,935 209,932 210,932 209,937 206,944ZM150,938 149,936 150,935 151,937 150,938ZM58,948 53,949 53,938 54,937 60,938 63,942 62,944 58,948ZM264,955 260,956 258,955 258,954 263,943 268,939 270,941 271,946 269,952 264,955ZM376,951 371,950 368,946 367,943 371,940 376,940 379,943 379,948 376,951ZM128,947 118,946 114,944 117,942 122,941 128,943 129,944 129,946 128,947ZM344,955 340,954 338,950 341,946 347,944 349,946 349,949 347,953 344,955ZM220,964 214,964 210,961 209,956 210,952 216,952 225,955 226,956 225,960 220,964ZM402,964 398,965 395,964 392,960 394,955 396,953 400,953 404,956 405,961 402,964ZM106,972 102,971 100,969 98,964 101,959 106,956 108,958 110,966 109,970 106,972ZM288,967 284,967 283,966 285,961 288,957 292,956 294,956 299,960 299,962 298,964 288,967ZM317,966 312,966 310,962 314,959 318,959 319,962 317,966ZM77,971 72,971 71,968 76,962 78,960 80,961 81,966 80,968 77,971ZM132,976 126,976 126,973 131,964 136,961 138,963 140,967 138,972 132,976ZM192,975 187,974 183,972 180,966 182,962 185,960 190,960 197,964 198,967 198,970 196,973 192,975ZM162,976 157,976 156,972 156,967 160,964 161,964 163,967 163,976 162,976ZM372,975 370,976 364,975 361,973 359,970 364,967 370,967 373,972 372,975ZM56,974 53,974 53,967 58,972 56,974ZM245,976 239,976 244,974 246,976 245,976ZM275,976 269,976 274,975 275,976ZM341,976 340,976 342,976 341,976Z"/>
<path fill="#4D1F86" fill-rule="evenodd" d="M176,624 173,624 173,622 177,622 177,624 176,624ZM250,630 245,630 242,628 240,625 241,622 245,621 250,624 252,627 250,630ZM65,627 62,625 62,623 66,625 66,626 65,627ZM144,633 140,632 136,631 136,628 139,625 144,622 149,623 152,625 153,626 153,630 149,632 144,633ZM114,631 112,631 112,630 113,628 115,628 116,630 114,631ZM377,633 374,631 374,627 377,630 378,631 377,633ZM407,639 400,636 399,634 399,631 402,630 407,632 407,639ZM270,649 266,648 264,646 264,642 266,639 272,640 277,643 278,644 276,647 270,649ZM192,650 190,650 186,649 185,646 186,643 191,643 194,644 194,648 192,650ZM356,646 353,645 353,642 354,642 356,643 356,646ZM160,657 153,656 151,655 151,654 158,647 161,646 164,647 167,649 167,652 164,655 160,657ZM324,651 324,650 326,650 324,651ZM134,658 126,656 126,655 126,652 131,651 136,654 138,656 134,658ZM246,657 245,657 242,656 238,652 239,651 242,652 246,657ZM395,663 387,660 385,656 386,655 389,654 393,656 396,661 396,662 395,663ZM216,669 210,668 209,667 208,664 210,662 215,662 218,666 216,669ZM282,675 276,674 275,673 274,670 280,667 286,667 287,668 287,672 282,675ZM178,678 172,678 170,678 169,676 173,670 179,669 182,670 184,673 182,676 178,678ZM317,685 314,685 311,682 310,678 311,675 314,675 318,679 319,682 317,685ZM60,687 58,688 53,687 53,678 58,677 62,679 63,684 60,687ZM234,687 230,688 227,685 226,680 228,678 233,677 238,680 238,685 234,687ZM208,696 202,695 197,693 196,690 197,686 200,685 203,687 208,694 209,696 208,696ZM390,690 389,690 392,690 390,690ZM293,702 288,700 285,697 285,692 288,690 294,691 298,694 298,699 296,701 293,702ZM266,701 263,701 259,698 258,696 259,694 262,693 264,695 267,698 266,701ZM185,709 182,709 172,704 169,702 170,700 176,699 184,700 186,702 187,704 185,709ZM70,709 67,708 68,704 71,702 74,703 74,706 70,709ZM324,709 323,710 321,709 322,706 323,705 325,706 324,709ZM244,721 239,719 236,714 236,709 240,706 245,707 246,710 246,718 244,721ZM378,720 376,721 371,717 368,712 368,708 372,708 378,712 380,716 378,720ZM401,716 398,715 398,714 398,710 401,708 404,709 404,710 403,714 401,716ZM272,728 268,728 266,726 268,718 270,716 272,715 276,718 277,722 275,726 272,728ZM192,729 190,728 188,726 188,721 190,718 194,719 198,722 197,726 192,729ZM298,729 294,729 293,729 292,724 294,720 299,719 301,720 302,722 300,726 298,729ZM352,736 347,734 343,728 342,724 346,721 350,722 354,728 354,734 352,736ZM88,732 84,733 83,730 84,726 88,723 89,723 90,726 90,728 88,732ZM168,738 164,736 159,732 158,727 160,723 162,723 166,724 170,727 173,730 173,734 168,738ZM143,747 142,748 140,747 133,739 131,734 133,732 136,730 140,731 145,734 145,740 143,747ZM324,747 320,746 317,740 318,734 322,731 326,732 328,736 328,744 324,747ZM222,744 220,743 218,740 218,734 220,732 224,734 227,738 226,742 222,744ZM406,744 402,745 399,742 398,738 401,733 404,733 407,736 407,743 406,744ZM59,748 57,745 58,739 60,734 64,734 66,738 66,740 62,747 59,748ZM122,768 119,768 116,766 108,746 108,739 112,735 114,735 116,738 115,748 116,752 127,763 126,766 122,768ZM377,748 374,747 371,742 372,738 376,737 378,738 380,742 379,746 377,748ZM198,756 194,757 190,754 190,748 192,744 197,744 202,750 202,752 198,756ZM302,757 300,757 292,750 292,746 293,745 296,744 299,747 302,752 302,757ZM274,759 270,759 268,752 269,748 272,747 277,748 279,751 277,756 274,759ZM90,765 88,765 85,764 81,760 82,754 86,750 89,750 92,754 93,760 90,765ZM168,764 162,763 160,762 158,758 161,754 167,751 171,752 173,757 172,762 168,764ZM350,762 343,760 341,758 341,756 347,752 352,752 353,756 353,758 353,760 350,762ZM248,770 245,769 241,764 242,758 245,756 248,758 249,762 250,766 248,770ZM220,777 216,775 215,770 216,765 220,763 223,764 225,769 223,775 220,777ZM68,783 65,783 62,777 62,769 64,766 67,768 69,772 69,780 68,783ZM401,769 400,769 400,767 401,767 401,769ZM326,780 324,778 322,775 323,772 324,770 328,772 328,775 328,778 326,780ZM197,783 192,783 188,781 185,778 185,775 190,772 195,774 198,776 199,780 198,782 197,783ZM282,778 278,779 274,778 273,776 273,774 275,772 276,773 282,776 283,778 282,778ZM100,784 95,785 93,784 94,779 96,776 101,776 104,780 103,782 100,784ZM294,780 290,780 288,778 296,776 296,778 294,780ZM148,787 143,787 142,786 143,782 148,781 154,784 153,786 148,787ZM352,792 348,793 345,792 343,788 344,786 348,783 354,782 355,784 355,787 352,792ZM170,790 166,790 158,786 160,784 162,783 168,783 171,786 170,790ZM120,799 118,798 116,793 118,790 120,789 124,790 126,793 125,796 120,799ZM380,799 377,799 376,798 375,794 378,790 382,789 385,792 386,794 384,798 380,799ZM234,796 230,797 228,794 230,793 234,792 236,794 234,796ZM203,804 200,805 198,804 202,800 204,802 203,804ZM281,808 272,805 270,802 275,801 282,804 284,805 284,806 281,808ZM182,810 178,810 174,809 173,806 174,804 178,803 185,806 185,808 182,810ZM152,817 145,817 141,816 139,812 142,807 144,806 148,806 155,810 156,814 155,816 152,817ZM101,814 95,814 93,812 93,810 95,808 101,810 104,811 104,812 101,814ZM336,816 335,816 332,816 331,812 332,811 335,812 337,814 336,816ZM251,822 248,822 245,820 245,817 248,815 251,814 253,817 253,820 251,822ZM311,831 308,831 304,830 301,828 301,824 304,822 310,823 312,824 313,828 311,831ZM388,828 384,828 384,826 386,824 389,823 390,824 388,828ZM130,831 127,830 125,829 124,826 125,824 128,824 130,826 130,831ZM197,835 190,836 187,834 187,832 191,829 197,829 200,830 200,832 197,835ZM275,837 272,836 268,835 267,834 268,830 274,828 276,828 280,830 280,832 280,834 275,837ZM148,846 143,846 140,845 138,842 138,840 152,839 156,837 164,831 168,832 169,834 166,836 148,846ZM53,845 53,833 55,835 56,838 56,841 53,845ZM108,847 106,848 102,846 99,841 100,838 104,836 109,838 111,842 110,845 108,847ZM242,848 238,848 236,846 240,844 243,846 243,847 242,848ZM294,858 290,858 288,856 288,852 292,848 296,849 300,853 299,856 294,858ZM77,859 72,860 71,858 72,853 76,850 78,852 80,854 79,858 77,859ZM210,859 206,859 205,856 209,852 213,852 215,854 213,858 210,859ZM185,862 180,863 176,863 173,860 173,859 178,855 182,854 187,858 187,860 185,862ZM128,868 124,867 121,864 120,860 123,858 128,857 131,860 131,865 128,868ZM268,864 264,864 263,862 262,859 263,858 266,858 269,860 269,863 268,864ZM156,873 154,874 150,873 149,870 150,866 153,864 156,862 162,863 163,865 163,866 156,873ZM348,872 344,872 341,870 340,866 341,864 346,862 350,864 352,868 348,872ZM98,876 95,875 92,872 90,868 92,865 96,864 101,866 101,872 98,876ZM240,877 231,877 229,876 229,872 233,868 238,869 241,871 243,874 243,876 240,877ZM407,877 402,874 402,872 402,870 407,870 407,877ZM296,885 288,884 286,883 285,882 287,880 290,879 297,880 299,882 299,883 296,885ZM80,891 69,888 66,886 65,883 68,881 73,883 79,888 81,890 80,891ZM170,895 167,894 166,892 167,889 169,886 178,882 185,883 186,884 186,886 183,889 175,894 170,895ZM118,892 114,893 112,892 112,889 112,888 116,886 120,888 120,890 118,892ZM360,897 358,897 356,895 356,892 359,889 362,890 363,892 360,897ZM334,896 332,896 331,894 332,892 334,894 334,896ZM390,901 389,901 388,898 388,896 389,895 391,898 390,901ZM233,906 228,906 226,905 224,902 224,899 226,898 228,898 239,902 238,904 233,906ZM310,912 305,913 300,910 300,906 304,902 308,901 312,904 312,908 310,912ZM197,915 188,916 185,914 185,913 192,905 198,903 202,906 203,910 201,913 197,915ZM280,913 276,910 275,907 276,904 280,905 282,908 282,912 280,913ZM70,921 66,922 63,919 61,914 62,912 66,912 73,914 72,919 70,921ZM172,917 170,917 167,916 170,915 172,916 172,917ZM257,925 252,925 251,924 252,919 255,919 257,920 258,924 257,925ZM221,928 214,928 215,924 218,922 222,924 224,926 221,928ZM404,933 401,933 398,933 396,931 396,929 400,927 403,928 405,930 404,933ZM238,941 236,941 233,937 231,932 232,931 238,931 240,932 240,937 238,941ZM296,939 293,939 290,938 289,936 290,932 294,932 298,934 298,937 296,939ZM317,936 316,934 317,934 318,934 317,936ZM203,943 192,942 180,942 179,942 179,940 180,937 184,936 194,936 206,934 208,936 207,940 206,942 203,943ZM58,946 53,947 53,940 54,939 59,939 61,942 60,944 58,946ZM374,949 371,948 369,946 370,943 372,941 376,942 377,944 377,948 374,949ZM264,954 260,954 260,950 264,943 268,942 269,943 269,948 268,952 264,954ZM344,953 341,952 340,950 342,948 346,947 347,949 344,953ZM220,963 215,964 211,961 210,956 211,954 215,952 223,955 224,956 224,960 220,963ZM402,963 398,964 395,962 394,960 394,956 398,954 402,956 404,960 402,963ZM288,966 286,964 286,961 288,959 293,957 297,960 297,961 296,963 288,966ZM106,970 101,968 99,964 102,960 106,958 108,961 109,966 108,968 106,970ZM194,973 188,974 184,972 181,967 182,962 188,961 192,962 196,964 197,968 194,973ZM131,975 128,974 128,972 132,965 136,963 138,966 138,968 136,972 131,975ZM160,974 158,970 160,968 161,972 160,974ZM370,974 364,973 362,970 365,968 369,968 371,972 370,974Z"/>
<path fill="#35086A" fill-rule="evenodd" d="M148,631 140,631 138,630 138,628 142,624 148,624 150,625 152,628 148,631ZM246,628 244,626 244,623 246,623 249,625 250,627 246,628ZM272,648 269,648 266,646 265,643 266,641 270,640 275,643 275,646 272,648ZM190,648 189,646 191,646 190,648ZM161,655 156,655 154,654 156,649 161,647 164,648 165,650 164,654 161,655ZM132,655 130,655 130,654 132,654 133,655 132,655ZM214,666 211,666 212,664 214,666 214,666ZM282,673 278,673 277,672 277,670 280,668 284,668 285,670 284,672 282,673ZM178,676 173,676 172,674 174,671 179,670 182,673 181,674 178,676ZM60,685 58,686 53,685 53,680 56,679 60,680 62,682 60,685ZM234,686 232,686 229,685 228,682 229,679 232,678 236,680 236,684 234,686ZM316,682 313,680 314,679 316,680 316,682ZM203,693 200,692 198,689 200,688 203,690 204,692 203,693ZM294,700 292,700 287,698 286,696 287,692 290,691 295,692 297,697 294,700ZM182,708 175,704 173,702 178,700 184,701 185,703 185,706 182,708ZM244,719 240,718 237,714 238,710 240,708 244,708 245,710 245,715 244,719ZM377,718 376,719 372,717 370,714 370,710 372,710 377,713 378,716 377,718ZM272,726 269,726 268,724 269,719 272,717 274,718 276,721 275,724 272,726ZM194,726 191,727 190,726 189,722 191,720 194,721 196,722 194,726ZM296,727 294,727 294,724 298,721 299,722 299,724 296,727ZM353,733 350,734 345,730 343,726 346,723 348,723 352,726 353,730 353,733ZM170,736 166,736 161,733 159,728 160,725 161,724 164,724 171,728 172,733 170,736ZM142,746 137,743 133,738 132,734 135,732 142,732 144,736 144,742 142,746ZM324,746 320,744 318,740 318,736 322,732 325,733 327,738 327,742 324,746ZM224,741 222,742 220,740 220,737 221,735 225,738 224,741ZM404,743 401,742 400,739 401,736 402,735 404,735 406,738 406,740 404,743ZM62,744 60,745 59,742 59,739 62,736 64,737 64,739 62,744ZM113,751 110,748 109,744 110,739 112,738 113,738 114,740 113,751ZM377,745 375,745 373,742 374,740 376,739 378,742 377,745ZM197,756 194,756 191,752 191,748 194,745 198,746 201,750 201,752 197,756ZM298,751 295,748 298,748 298,751 298,751ZM274,757 270,756 269,752 270,750 272,748 275,749 277,751 276,755 274,757ZM89,764 84,763 82,758 84,753 88,751 90,753 92,757 91,762 89,764ZM170,762 167,763 162,762 160,760 160,757 164,753 167,752 169,752 171,754 172,757 170,762ZM348,760 344,759 343,757 345,754 348,753 351,754 352,757 352,759 348,760ZM122,766 119,766 116,764 114,760 114,755 123,762 124,764 122,766ZM246,767 244,766 243,763 243,760 245,758 246,759 248,762 248,765 246,767ZM221,774 218,774 216,772 217,768 220,765 222,766 224,769 223,772 221,774ZM66,780 65,780 63,775 63,770 65,769 66,770 68,774 68,778 66,780ZM196,782 191,781 188,780 186,778 187,775 191,773 195,775 197,780 196,782ZM100,783 95,782 95,780 96,778 100,778 102,780 102,781 100,783ZM350,791 346,790 345,787 348,784 352,784 353,787 350,791ZM168,787 166,788 164,786 167,785 168,787ZM122,796 119,796 118,793 119,792 122,791 124,792 124,794 122,796ZM382,797 378,797 378,796 378,793 380,791 382,792 383,793 384,794 382,797ZM152,816 148,816 143,816 141,812 142,809 146,806 151,808 155,812 155,814 152,816ZM179,807 177,806 178,805 179,806 180,806 179,807ZM310,830 304,829 303,828 303,824 306,824 310,825 311,828 310,830ZM274,835 270,834 270,832 272,830 277,830 278,832 277,834 274,835ZM194,834 192,834 191,832 194,831 196,831 196,832 194,834ZM53,843 53,835 55,836 55,840 53,843ZM107,846 104,845 102,842 101,840 102,839 106,838 108,840 109,844 107,846ZM146,844 143,844 142,842 143,841 149,841 150,842 146,844ZM294,856 292,856 289,854 290,852 292,850 294,850 298,853 297,854 294,856ZM76,858 74,857 73,856 76,853 77,854 77,856 76,858ZM210,856 209,856 210,854 210,856ZM184,861 179,862 176,860 175,859 178,856 182,856 185,858 185,859 184,861ZM126,867 124,865 122,862 124,859 125,859 128,859 130,862 130,865 126,867ZM156,871 152,871 151,868 155,864 160,864 161,865 161,866 156,871ZM348,870 346,871 342,870 342,868 342,865 346,863 348,864 350,866 348,870ZM98,874 95,874 92,871 92,868 94,866 96,865 100,867 100,871 98,874ZM239,876 233,876 231,874 231,872 233,870 238,870 241,874 239,876ZM172,894 169,894 168,892 168,889 171,886 178,883 180,883 183,884 183,886 181,889 172,894ZM232,904 227,904 226,901 228,900 232,901 234,902 232,904ZM306,912 302,910 301,907 304,903 306,902 310,904 311,907 310,910 306,912ZM196,915 189,914 187,913 188,912 192,906 196,904 198,904 201,907 202,910 199,913 196,915ZM70,919 66,920 65,919 63,916 64,914 66,913 70,914 71,918 70,919ZM236,937 234,934 236,933 238,934 238,936 236,937ZM293,936 293,935 294,936 293,936ZM204,940 200,941 196,940 194,938 203,936 205,937 204,940ZM185,940 184,940 184,938 188,938 185,940ZM58,943 56,944 54,943 56,941 58,942 58,943ZM264,951 263,951 263,949 266,945 267,948 264,951ZM218,963 215,962 212,960 211,958 212,955 216,954 222,956 222,960 218,963ZM401,961 398,962 396,961 396,957 398,956 401,958 402,960 401,961ZM106,968 102,967 101,966 102,962 104,960 106,961 107,963 107,966 106,968ZM292,963 290,962 290,961 293,960 294,961 292,963ZM192,973 188,973 184,970 182,967 184,963 188,961 194,964 196,968 195,972 192,973ZM132,972 131,970 134,967 135,968 132,972Z"/></g></g>
<path d="M338.3,925.5 L337.9,925.8 L336.9,926.8 L335.8,927.9 L334.8,928.9 L333.7,929.9 L332.6,930.9 L331.5,931.9 L330.4,932.8 L329.3,933.8 L328.2,934.8 L327.1,935.7 L325.9,936.6 L324.8,937.6 L323.6,938.5 L322.5,939.4 L321.3,940.3 L320.1,941.2 L318.9,942.1 L317.7,942.9 L316.5,943.8 L315.3,944.6 L314.1,945.4 L312.8,946.3 L311.6,947.1 L310.3,947.9 L309.1,948.7 L307.8,949.4 L306.5,950.2 L305.3,950.9 L304.0,951.7 L302.7,952.4 L301.4,953.1 L300.1,953.8 L298.7,954.5 L297.4,955.2 L296.1,955.9 L294.8,956.5 L293.4,957.2 L292.1,957.8 L290.7,958.4 L289.3,959.0 L288.0,959.6 L286.6,960.2 L285.2,960.8 L283.8,961.3 L282.4,961.8 L281.0,962.4 L279.6,962.9 L278.2,963.4 L276.8,963.9 L275.4,964.4 L274.0,964.8 L272.5,965.3 L271.1,965.7 L269.7,966.1 L268.2,966.5 L266.8,966.9 L265.3,967.3 L263.9,967.7 L262.4,968.0 L261.0,968.4 L259.5,968.7 L258.1,969.0 L256.6,969.3 L255.1,969.6 L253.6,969.9 L252.2,970.2 L250.7,970.4 L249.2,970.7 L247.7,970.9 L246.2,971.1 L244.7,971.3 L243.3,971.5 L241.8,971.7 L240.3,971.8 L238.8,972.0 L237.3,972.1 L235.8,972.2 L234.3,972.3 L232.8,972.4 L231.3,972.5 L229.8,972.6 L228.3,972.6 L226.8,972.7 L225.2,972.7 L223.7,972.7 L222.2,972.7 L220.7,972.7 L219.2,972.7 L217.7,972.7 L216.2,972.6 L214.7,972.6 L213.2,972.5 L211.7,972.4 L210.2,972.3 L208.7,972.2 L207.2,972.1 L205.7,971.9 L204.2,971.8 L202.7,971.6 L201.2,971.4 L199.7,971.3 L198.2,971.1 L196.7,970.8 L195.2,970.6 L193.7,970.4 L192.2,970.1 L190.7,969.9 L189.2,969.6 L187.7,969.3 L186.2,969.0 L184.7,968.7 L183.2,968.4 L181.8,968.0 L180.3,967.7 L178.8,967.3 L177.3,966.9 L175.9,966.5 L174.4,966.1 L173.0,965.7 L171.5,965.3 L170.0,964.9 L168.6,964.4 L167.1,963.9 L165.7,963.5 L164.2,963.0 L162.8,962.5 L161.4,962.0 L159.9,961.4 L158.5,960.9 L157.1,960.3 L155.7,959.8 L154.3,959.2 L152.9,958.6 L151.5,958.0 L150.1,957.4 L148.7,956.7 L147.3,956.1 L145.9,955.5 L144.5,954.8 L143.2,954.1 L141.8,953.4 L140.4,952.7 L139.1,952.0 L137.7,951.3 L136.4,950.5 L135.1,949.8 L133.7,949.0 L132.4,948.2 L131.1,947.4 L129.8,946.6 L128.5,945.8 L127.2,945.0 L125.9,944.2 L124.6,943.3 L123.4,942.5 L122.1,941.6 L120.8,940.7 L119.6,939.8 L118.4,938.9 L117.1,938.0 L115.9,937.0 L114.7,936.1 L113.5,935.1 L112.3,934.2 L111.1,933.2 L109.9,932.2 L108.8,931.2 L107.6,930.2 L106.5,929.1 L105.3,928.1 L104.2,927.0 L103.1,926.0 L102.0,924.9 L101.2,924.2M88.8,910.3 L88.6,910.0 L87.6,908.8 L86.7,907.6 L85.8,906.4 L84.9,905.1 L84.0,903.9 L83.1,902.6 L82.2,901.3 L81.4,900.1 L80.5,898.8 L79.7,897.5 L78.9,896.2 L78.1,894.9 L77.3,893.6 L76.5,892.2 L75.7,890.9 L75.0,889.5 L74.2,888.2 L73.5,886.8 L72.8,885.5 L72.1,884.1 L71.4,882.7 L70.7,881.3 L70.1,880.0 L69.5,878.6 L68.8,877.2 L68.2,875.8 L67.6,874.3 L67.1,872.9 L66.5,871.5 L65.9,870.1 L65.4,868.6 L64.9,867.2 L64.4,865.7 L63.9,864.3 L63.4,862.8 L63.0,861.4 L62.5,859.9 L62.1,858.4 L61.7,857.0 L61.3,855.5 L60.9,854.0 L60.5,852.5 L60.2,851.1 L59.9,849.6 L59.5,848.1 L59.2,846.6 L59.0,845.1 L58.7,843.6 L58.4,842.1 L58.2,840.6 L58.0,839.1 L57.8,837.6 L57.6,836.1 L57.4,834.6 L57.3,833.1 L57.1,831.6 L57.0,830.1 L56.9,828.6 L56.8,827.1 L56.7,825.5 L56.7,824.0 L56.6,822.5 L56.6,821.0 L56.6,819.5 L56.6,818.0 L56.6,816.5 L56.6,815.0 L56.7,813.5 L56.8,812.0 L56.9,810.5 L57.0,809.0 L57.1,807.5 L57.2,806.1 L57.4,804.6 L57.5,803.1 L57.7,801.6 L57.9,800.1 L58.1,798.7 L58.3,797.2 L58.6,795.7 L58.9,794.3 L59.1,792.8 L59.4,791.4 L59.7,789.9 L60.1,788.5 L60.4,787.0 L60.7,785.6 L61.1,784.2 L61.5,782.8 L61.9,781.4 L62.3,779.9 L62.7,778.5 L63.2,777.1 L63.6,775.8 L64.1,774.4 L64.6,773.0 L65.1,771.6 L65.6,770.3 L66.2,768.9 L66.7,767.6 L67.3,766.2 L67.8,764.9 L68.4,763.6 L69.0,762.3 L69.6,761.0 L70.2,759.7 L70.9,758.4 L71.5,757.1 L72.2,755.8 L72.9,754.6 L73.5,753.3 L74.2,752.1 L75.0,750.8 L75.7,749.6 L76.4,748.4 L77.2,747.2 L77.9,746.0 L78.7,744.8 L79.5,743.6 L80.2,742.4 L81.0,741.3 L81.8,740.1 L82.7,739.0 L83.5,737.8 L84.3,736.7 L85.2,735.6 L86.0,734.5 L86.9,733.4 L87.8,732.3 L88.6,731.3 L89.5,730.2 L90.4,729.2 L91.3,728.1 L92.2,727.1 L93.1,726.1 L94.1,725.1 L95.0,724.1 L95.9,723.1 L96.9,722.1 L97.8,721.1 L98.8,720.2 L99.7,719.2 L100.7,718.3 L101.7,717.3 L102.6,716.4 L103.6,715.5 L104.6,714.6 L105.6,713.7 L106.6,712.8 L107.6,711.9 L108.6,711.1 L109.6,710.2 L110.6,709.4 L111.6,708.5 L112.6,707.7 L113.6,706.9 L114.6,706.0 L115.6,705.2 L116.6,704.4 L117.7,703.6 L118.7,702.8 L119.7,702.0 L120.7,701.3 L121.7,700.5 L122.8,699.7 L123.8,699.0 L124.8,698.2 L125.9,697.5 L126.1,697.3M142.5,686.0 L143.4,685.4 L144.4,684.7 L145.4,684.0 L146.5,683.3 L147.5,682.6 L148.5,681.9 L149.5,681.2 L150.6,680.6 L151.6,679.9 L152.6,679.2 L153.7,678.5 L154.7,677.8 L155.7,677.1 L156.8,676.4 L157.8,675.8 L158.8,675.1 L159.9,674.4 L160.9,673.7 L162.0,673.0 L163.0,672.3 L164.1,671.6 L165.1,670.9 L166.2,670.2 L167.2,669.5 L168.3,668.8 L169.3,668.1 L170.4,667.4 L171.5,666.7 L172.6,666.0 L173.6,665.3 L174.7,664.6 L175.8,663.8 L176.9,663.1 L178.0,662.4 L179.1,661.7 L180.2,661.0 L181.3,660.2 L182.4,659.5 L183.5,658.8 L184.7,658.1 L185.8,657.3 L187.0,656.6 L188.1,655.9 L189.3,655.1 L190.4,654.4 L191.6,653.7 L192.8,653.0 L194.0,652.2 L195.2,651.5 L196.4,650.8 L197.6,650.0 L198.8,649.3 L200.0,648.6 L201.3,647.9 L202.5,647.1 L203.8,646.4 L205.0,645.7 L206.3,645.0 L207.6,644.3 L208.9,643.6 L210.2,642.9 L210.4,642.7M228.5,634.1 L229.7,633.7 L231.1,633.1 L232.6,632.5 L234.1,631.9 L235.6,631.4 L237.1,630.8 L238.6,630.3 L240.2,629.8 L241.7,629.2 L243.3,628.7 L244.8,628.3 L246.4,627.8 L248.0,627.3 L249.6,626.9 L251.2,626.5 L252.8,626.1 L254.4,625.7 L256.0,625.3 L257.6,625.0 L259.3,624.6 L260.9,624.3 L262.6,624.0 L264.2,623.7 L265.9,623.5 L267.6,623.2 L269.3,623.0 L271.0,622.8 L272.7,622.7 L274.4,622.5 L276.1,622.4 L277.8,622.3 L279.5,622.2 L281.2,622.1 L282.9,622.1 L284.6,622.0 L286.3,622.0 L288.1,622.1 L289.8,622.1 L291.5,622.2 L293.2,622.3 L295.0,622.4 L296.7,622.6 L298.4,622.7 L300.2,622.9 L301.9,623.2 L303.6,623.4 L305.3,623.7 L307.0,624.0 L308.7,624.3 L310.4,624.7 L312.1,625.1 L313.8,625.5 L315.5,625.9 L317.2,626.3 L318.9,626.8 L320.6,627.3 L322.2,627.9 L323.9,628.4 L325.6,629.0 L327.2,629.6 L328.8,630.3 L330.4,630.9 L332.1,631.6 L333.7,632.3 L335.2,633.1 L336.8,633.8 L338.4,634.6 L339.9,635.4 L341.5,636.3 L343.0,637.1 L344.5,638.0 L346.0,638.9 L347.5,639.9 L349.0,640.8 L350.4,641.8 L351.9,642.8 L353.3,643.9 L354.7,644.9 L356.1,646.0 L357.5,647.1 L358.8,648.2 L360.2,649.3 L361.5,650.5 L362.8,651.6 L364.1,652.8 L365.4,654.1 L366.6,655.3 L367.9,656.6 L369.1,657.8 L370.3,659.1 L371.4,660.4 L372.6,661.8 L373.7,663.1 L374.8,664.5 L375.9,665.8 L376.8,667.0M387.2,683.1 L387.4,683.4 L388.2,685.0 L389.0,686.5 L389.8,688.1 L390.5,689.7 L391.2,691.3 L391.9,692.9 L392.6,694.5 L393.3,696.1 L393.9,697.7 L394.6,699.3 L395.2,700.9 L395.8,702.6 L396.3,704.2 L396.9,705.8 L397.4,707.5 L397.9,709.2 L398.4,710.8 L398.8,712.5 L399.3,714.1 L399.7,715.8 L400.1,717.5 L400.5,719.1 L400.8,720.8 L401.2,722.5 L401.5,724.2 L401.8,725.8 L402.1,727.5 L402.3,729.2 L402.6,730.9 L402.8,732.5 L403.0,734.2 L403.2,735.9 L403.4,737.6 L403.6,739.2 L403.7,740.9 L403.9,742.6 L404.0,744.3 L404.1,745.9 L404.2,747.6 L404.2,749.2 L404.3,750.9 L404.3,752.6 L404.4,754.2 L404.4,755.9 L404.4,757.5 L404.4,759.1 L404.3,760.8 L404.3,762.4 L404.2,764.0 L404.2,765.7 L404.1,767.3 L404.0,768.9 L403.9,770.5 L403.8,772.1 L403.6,773.7 L403.5,775.3 L403.3,776.9 L403.2,778.5 L403.0,780.1 L402.8,781.6 L402.6,783.2 L402.4,784.8 L402.2,786.3 L402.0,787.9 L401.8,789.4 L401.5,791.0 L401.3,792.5 L401.0,794.1 L400.7,795.6 L400.5,797.1 L400.2,798.6 L399.9,800.1 L399.6,801.6 L399.3,803.1 L399.0,804.6 L398.6,806.1 L398.3,807.6 L398.0,809.1 L397.6,810.6 L397.3,812.1 L396.9,813.5 L396.5,815.0 L396.2,816.4 L395.8,817.9 L395.4,819.4 L395.0,820.8 L394.6,822.2 L394.2,823.7 L393.8,825.1 L393.4,826.5 L392.9,827.9 L392.5,829.4 L392.1,830.8 L391.6,832.2 L391.2,833.6 L390.7,835.0 L390.3,836.4 L389.8,837.8 L389.3,839.2 L388.8,840.5 L388.4,841.9 L387.9,843.3 L387.4,844.7 L386.9,846.0 L386.3,847.4 L385.8,848.8 L385.3,850.1 L384.8,851.5 L384.2,852.8 L383.7,854.2 L383.1,855.5 L382.6,856.9 L382.0,858.2 L381.5,859.5 L380.9,860.9 L380.3,862.2 L379.7,863.5 L379.1,864.8 L378.5,866.1 L377.9,867.4 L377.3,868.7 L376.7,870.0 L376.0,871.3 L375.4,872.6 L374.8,873.9 L374.1,875.2 L373.4,876.5 L372.8,877.8 L372.1,879.1 L371.4,880.3 L370.7,881.6 L370.0,882.9 L369.3,884.1 L368.6,885.4 L367.9,886.6 L367.1,887.9 L366.4,889.1 L365.7,890.3 L364.9,891.6 L364.1,892.8 L363.4,894.0 L362.6,895.2 L361.8,896.5 L361.0,897.7 L360.2,898.9 L359.4,900.1 L358.5,901.2 L357.7,902.4 L356.8,903.6 L356.0,904.8 L355.1,906.0 L354.2,907.1 L353.4,908.3 L352.5,909.4 L351.7,910.4M354.7,907.0 L348.6,907.9 L409.6,956.8 Q411.8,958.6 410.0,960.7 L400.4,971.8 Q398.6,973.9 396.4,972.1 L335.2,923.0 L335.3,928.9M86.0,906.8 L91.8,907.6 L35.0,960.3 Q32.9,962.2 34.7,964.4 L42.9,974.4 Q44.7,976.6 46.8,974.7 L104.2,921.4 L104.1,927.6M122.4,699.8 L128.6,700.4 L81.2,638.1 Q79.5,635.9 81.8,634.3 L93.6,626.3 Q95.9,624.7 97.6,626.9 L144.9,689.1 L146.2,683.4M206.2,644.4 L212.0,646.4 L179.9,572.8 Q178.8,570.2 181.4,569.2 L194.9,564.0 Q197.5,563.0 198.6,565.6 L230.1,637.8 L232.7,632.5M374.3,663.3 L373.4,669.1 L440.7,627.4 Q443.1,625.9 444.7,628.2 L452.1,639.5 Q453.7,641.8 451.3,643.3 L383.8,685.2 L389.7,686.8" fill="none" stroke="#000" stroke-width="2.0" stroke-linejoin="round"/>
<clipPath id="clipd"><path d="M876.5,798.7 L875.9,801.5 L875.2,804.3 L874.6,807.0 L873.9,809.8 L873.2,812.5 L872.4,815.3 L871.7,818.0 L870.9,820.6 L870.1,823.3 L869.3,825.9 L868.4,828.6 L867.6,831.2 L866.7,833.8 L865.8,836.4 L864.9,839.0 L864.0,841.5 L863.1,844.1 L862.1,846.6 L861.1,849.2 L860.2,851.7 L859.2,854.2 L858.1,856.7 L857.1,859.2 L856.0,861.7 L854.9,864.1 L853.8,866.6 L852.7,869.1 L851.6,871.5 L850.4,874.0 L849.2,876.4 L848.0,878.9 L846.7,881.3 L845.4,883.7 L844.1,886.1 L842.8,888.5 L841.4,890.9 L840.1,893.3 L838.6,895.6 L837.2,898.0 L835.7,900.3 L834.1,902.7 L832.6,905.0 L831.0,907.3 L829.3,909.5 L827.7,911.8 L825.9,914.1 L824.2,916.3 L822.4,918.5 L820.5,920.7 L818.7,922.8 L816.8,924.9 L814.8,927.0 L812.8,929.1 L810.8,931.1 L808.7,933.1 L806.5,935.1 L804.4,937.1 L802.2,939.0 L799.9,940.8 L797.6,942.7 L795.3,944.4 L792.9,946.2 L790.5,947.9 L788.1,949.5 L785.6,951.1 L783.1,952.7 L780.5,954.2 L777.9,955.7 L775.3,957.1 L772.7,958.5 L770.0,959.8 L767.3,961.0 L764.5,962.2 L761.7,963.4 L758.9,964.5 L756.1,965.5 L753.3,966.5 L750.4,967.4 L747.5,968.3 L744.6,969.1 L741.6,969.8 L738.7,970.5 L735.7,971.2 L732.7,971.7 L729.7,972.2 L726.7,972.7 L723.6,973.1 L720.6,973.4 L717.6,973.7 L714.5,973.9 L711.4,974.1 L708.4,974.1 L705.3,974.2 L702.2,974.2 L699.2,974.1 L696.1,974.0 L693.0,973.8 L689.9,973.5 L686.9,973.2 L683.8,972.9 L680.7,972.4 L677.7,972.0 L674.6,971.5 L671.6,970.9 L668.5,970.2 L665.5,969.6 L662.5,968.8 L659.5,968.0 L656.5,967.2 L653.5,966.3 L650.5,965.4 L647.6,964.4 L644.6,963.3 L641.7,962.2 L638.8,961.1 L635.9,959.9 L633.0,958.7 L630.1,957.4 L627.3,956.0 L624.5,954.6 L621.7,953.2 L618.9,951.7 L616.1,950.2 L613.4,948.6 L610.7,947.0 L608.0,945.3 L605.3,943.6 L602.7,941.8 L600.1,940.0 L597.5,938.1 L595.0,936.2 L592.5,934.2 L590.0,932.2 L587.5,930.1 L585.1,928.0 L582.8,925.9 L580.4,923.7 L578.1,921.4 L575.9,919.2 L573.7,916.8 L571.5,914.5 L569.4,912.0 L567.3,909.6 L565.3,907.1 L563.3,904.5 L561.4,901.9 L559.5,899.3 L557.7,896.6 L556.0,893.9 L554.3,891.2 L552.6,888.4 L551.1,885.6 L549.5,882.7 L548.1,879.8 L546.7,876.9 L545.4,873.9 L544.2,871.0 L543.0,868.0 L541.9,864.9 L540.8,861.9 L539.9,858.8 L539.0,855.7 L538.2,852.6 L537.4,849.4 L536.8,846.3 L536.2,843.1 L535.7,839.9 L535.2,836.8 L534.9,833.6 L534.6,830.4 L534.4,827.2 L534.3,824.0 L534.3,820.8 L534.3,817.6 L534.5,814.4 L534.7,811.2 L535.0,808.1 L535.3,804.9 L535.8,801.8 L536.3,798.7 L536.9,795.6 L537.5,792.5 L538.3,789.4 L539.1,786.4 L539.9,783.4 L540.9,780.4 L541.9,777.5 L543.0,774.6 L544.1,771.7 L545.3,768.8 L546.6,766.0 L547.9,763.2 L549.3,760.5 L550.7,757.8 L552.2,755.2 L553.7,752.6 L555.3,750.0 L556.9,747.5 L558.6,745.0 L560.3,742.5 L562.0,740.1 L563.8,737.8 L565.6,735.5 L567.5,733.2 L569.4,731.0 L571.3,728.8 L573.2,726.7 L575.1,724.6 L577.1,722.5 L579.1,720.5 L581.1,718.5 L583.1,716.5 L585.1,714.6 L587.2,712.8 L589.2,710.9 L591.3,709.1 L593.3,707.4 L595.4,705.6 L597.5,703.9 L599.6,702.2 L601.6,700.6 L603.7,698.9 L605.8,697.3 L607.9,695.7 L610.0,694.1 L612.1,692.6 L614.1,691.0 L616.2,689.5 L618.3,688.0 L620.4,686.5 L622.5,685.0 L624.6,683.5 L626.6,682.1 L628.7,680.6 L630.8,679.1 L632.9,677.7 L635.0,676.2 L637.1,674.8 L639.2,673.3 L641.3,671.9 L643.4,670.4 L645.6,669.0 L647.7,667.6 L649.9,666.1 L652.0,664.7 L654.2,663.2 L656.4,661.8 L658.6,660.4 L660.9,658.9 L663.1,657.5 L665.4,656.1 L667.7,654.7 L670.1,653.3 L672.4,651.9 L674.8,650.5 L677.2,649.1 L679.7,647.7 L682.1,646.4 L684.6,645.1 L687.2,643.7 L689.8,642.5 L692.4,641.2 L695.0,639.9 L697.7,638.7 L700.4,637.5 L703.2,636.4 L705.9,635.3 L708.8,634.2 L711.6,633.1 L714.5,632.2 L717.4,631.2 L720.4,630.3 L723.4,629.5 L726.4,628.7 L729.4,627.9 L732.5,627.3 L735.6,626.6 L738.8,626.1 L741.9,625.6 L745.1,625.2 L748.3,624.8 L751.5,624.6 L754.7,624.4 L758.0,624.3 L761.2,624.2 L764.5,624.3 L767.8,624.4 L771.0,624.6 L774.3,624.9 L777.6,625.3 L780.9,625.8 L784.1,626.4 L787.4,627.0 L790.6,627.8 L793.8,628.6 L797.0,629.5 L800.2,630.5 L803.3,631.7 L806.4,632.9 L809.5,634.1 L812.5,635.5 L815.5,637.0 L818.5,638.5 L821.4,640.2 L824.3,641.9 L827.1,643.7 L829.8,645.6 L832.5,647.6 L835.2,649.6 L837.8,651.8 L840.3,654.0 L842.7,656.3 L845.1,658.6 L847.4,661.0 L849.7,663.5 L851.8,666.0 L853.9,668.6 L856.0,671.3 L857.9,674.0 L859.8,676.8 L861.6,679.6 L863.3,682.4 L864.9,685.3 L866.5,688.2 L867.9,691.2 L869.3,694.2 L870.6,697.3 L871.9,700.3 L873.0,703.4 L874.1,706.5 L875.1,709.6 L876.0,712.8 L876.9,715.9 L877.6,719.1 L878.3,722.3 L878.9,725.4 L879.5,728.6 L880.0,731.8 L880.4,735.0 L880.7,738.2 L881.0,741.3 L881.2,744.5 L881.4,747.6 L881.5,750.8 L881.5,753.9 L881.5,757.0 L881.4,760.1 L881.3,763.2 L881.1,766.3 L880.9,769.3 L880.6,772.3 L880.3,775.4 L880.0,778.3 L879.6,781.3 L879.1,784.3 L878.7,787.2 L878.2,790.1 L877.7,793.0 L877.1,795.8Z"/></clipPath>
<clipPath id="wgd0"><path d="M823.6,907.3 L888.8,959.6 L875.6,974.9 L810.6,922.7Z"/></clipPath>
<path d="M823.6,907.3 L888.8,959.6 L875.6,974.9 L810.6,922.7Z" fill="#F3F3F7"/>
<g clip-path="url(#wgd0)"><g filter="url(#blur2)"><ellipse cx="871.8" cy="958.9" rx="6" ry="7.5" transform="rotate(-141.3 871.8 958.9)" fill="#E89A48" opacity="0.85"/><ellipse cx="859.7" cy="949.2" rx="6" ry="7.5" transform="rotate(-141.3 859.7 949.2)" fill="#9A86C6" opacity="0.85"/><ellipse cx="847.7" cy="939.5" rx="6" ry="7.5" transform="rotate(-141.3 847.7 939.5)" fill="#E89A48" opacity="0.85"/><ellipse cx="835.6" cy="929.8" rx="6" ry="7.5" transform="rotate(-141.3 835.6 929.8)" fill="#9A86C6" opacity="0.85"/><ellipse cx="823.5" cy="920.1" rx="6" ry="7.5" transform="rotate(-141.3 823.5 920.1)" fill="#E89A48" opacity="0.85"/></g></g>
<clipPath id="wgd1"><path d="M571.9,905.7 L509.9,963.2 L521.7,977.6 L584.5,919.3Z"/></clipPath>
<path d="M571.9,905.7 L509.9,963.2 L521.7,977.6 L584.5,919.3Z" fill="#F3F3F7"/>
<g clip-path="url(#wgd1)"><g filter="url(#blur2)"><ellipse cx="535.8" cy="951.8" rx="6" ry="7.5" transform="rotate(-42.9 535.8 951.8)" fill="#E89A48" opacity="0.35"/><ellipse cx="547.2" cy="941.3" rx="6" ry="7.5" transform="rotate(-42.9 547.2 941.3)" fill="#9A86C6" opacity="0.35"/><ellipse cx="558.5" cy="930.7" rx="6" ry="7.5" transform="rotate(-42.9 558.5 930.7)" fill="#E89A48" opacity="0.35"/><ellipse cx="569.9" cy="920.2" rx="6" ry="7.5" transform="rotate(-42.9 569.9 920.2)" fill="#9A86C6" opacity="0.35"/></g></g>
<clipPath id="wgd2"><path d="M607.3,703.7 L556.5,636.9 L572.9,625.7 L623.2,691.9Z"/></clipPath>
<path d="M607.3,703.7 L556.5,636.9 L572.9,625.7 L623.2,691.9Z" fill="#F3F3F7"/>
<g clip-path="url(#wgd2)"><g filter="url(#blur2)"><ellipse cx="574.1" cy="643.7" rx="6" ry="7.5" transform="rotate(52.8 574.1 643.7)" fill="#9A86C6" opacity="0.7"/><ellipse cx="583.5" cy="656.1" rx="6" ry="7.5" transform="rotate(52.8 583.5 656.1)" fill="#E89A48" opacity="0.7"/><ellipse cx="592.9" cy="668.4" rx="6" ry="7.5" transform="rotate(52.8 592.9 668.4)" fill="#9A86C6" opacity="0.7"/><ellipse cx="602.3" cy="680.7" rx="6" ry="7.5" transform="rotate(52.8 602.3 680.7)" fill="#E89A48" opacity="0.7"/></g></g>
<clipPath id="wgd3"><path d="M689.8,649.1 L655.8,571.2 L674.5,564.0 L708.0,640.9Z"/></clipPath>
<path d="M689.8,649.1 L655.8,571.2 L674.5,564.0 L708.0,640.9Z" fill="#F3F3F7"/>
<g clip-path="url(#wgd3)"><g filter="url(#blur2)"><ellipse cx="671.7" cy="582.7" rx="6" ry="7.5" transform="rotate(66.4 671.7 582.7)" fill="#9A86C6" opacity="0.7"/><ellipse cx="677.9" cy="596.9" rx="6" ry="7.5" transform="rotate(66.4 677.9 596.9)" fill="#E89A48" opacity="0.7"/><ellipse cx="684.1" cy="611.1" rx="6" ry="7.5" transform="rotate(66.4 684.1 611.1)" fill="#9A86C6" opacity="0.7"/><ellipse cx="690.3" cy="625.3" rx="6" ry="7.5" transform="rotate(66.4 690.3 625.3)" fill="#E89A48" opacity="0.7"/></g></g>
<clipPath id="wgd4"><path d="M848.5,671.3 L920.1,626.9 L930.7,642.8 L859.1,687.2Z"/></clipPath>
<path d="M848.5,671.3 L920.1,626.9 L930.7,642.8 L859.1,687.2Z" fill="#F3F3F7"/>
<g clip-path="url(#wgd4)"><g filter="url(#blur2)"><ellipse cx="922.5" cy="636.6" rx="6" ry="7.5" transform="rotate(148.2 922.5 636.6)" fill="#9A86C6" opacity="0.75"/><ellipse cx="909.3" cy="644.8" rx="6" ry="7.5" transform="rotate(148.2 909.3 644.8)" fill="#E89A48" opacity="0.75"/><ellipse cx="896.2" cy="653.0" rx="6" ry="7.5" transform="rotate(148.2 896.2 653.0)" fill="#9A86C6" opacity="0.75"/><ellipse cx="883.0" cy="661.1" rx="6" ry="7.5" transform="rotate(148.2 883.0 661.1)" fill="#E89A48" opacity="0.75"/><ellipse cx="869.8" cy="669.3" rx="6" ry="7.5" transform="rotate(148.2 869.8 669.3)" fill="#9A86C6" opacity="0.75"/></g></g>
<g clip-path="url(#clipd)"><rect x="531.0" y="621.0" width="354.0" height="357.0" fill="#F4F4F8"/><g filter="url(#blur)"><path fill="#F7D3A0" fill-rule="evenodd" d="M531,654 531,621 542,621 538,628 533,634 531,654ZM561,623 555,621 567,621 561,623ZM626,633 622,634 620,634 616,630 616,627 622,621 636,621 637,624 636,626 626,633ZM646,634 645,634 641,627 641,624 644,621 660,621 659,624 658,626 646,634ZM770,703 766,701 760,692 752,688 757,675 758,669 758,658 756,654 753,653 742,656 727,640 711,635 702,631 692,631 684,628 670,631 668,631 664,626 665,622 666,621 672,621 692,622 709,621 723,626 737,626 737,633 739,638 744,640 754,641 758,642 763,650 771,657 774,663 775,666 774,669 765,676 763,681 765,686 776,690 776,693 774,698 770,703ZM772,630 764,630 760,629 755,621 778,621 776,628 772,630ZM814,636 807,637 801,635 798,633 798,628 801,622 802,621 809,621 820,625 825,621 885,621 885,625 878,628 874,628 867,624 862,624 857,626 849,632 822,630 814,636ZM580,639 576,640 572,639 568,634 570,632 576,627 591,628 603,622 608,623 612,627 610,630 603,635 598,636 590,635 580,639ZM554,646 549,645 545,642 542,638 544,634 548,632 554,631 558,632 561,634 562,638 560,640 554,646ZM786,719 783,718 781,714 788,700 790,694 789,692 782,687 781,684 783,675 789,669 790,654 789,652 780,648 776,644 775,638 777,631 784,632 792,635 793,638 792,650 793,651 796,652 808,652 818,645 820,644 837,647 842,646 849,641 852,641 855,643 858,646 858,651 857,657 855,660 852,660 840,655 828,660 813,658 804,666 794,672 793,675 798,699 798,704 795,710 786,719ZM880,662 878,662 876,660 867,646 868,640 870,638 873,636 876,636 879,639 883,646 884,657 883,660 880,662ZM572,662 568,663 566,662 562,658 561,656 565,651 572,648 576,648 584,651 596,646 608,646 620,641 628,646 644,636 645,636 648,644 647,648 639,655 634,654 627,650 616,655 608,653 604,653 596,659 592,660 582,655 572,662ZM718,669 716,670 712,668 708,661 705,658 696,658 690,653 686,653 678,655 669,652 658,653 655,650 654,645 659,640 664,638 668,639 672,644 675,645 687,640 690,640 694,644 708,650 718,652 722,653 724,658 724,664 722,668 718,669ZM544,669 542,670 540,669 536,663 535,658 536,657 542,655 548,653 550,654 553,656 554,658 549,665 544,669ZM736,753 729,754 727,753 735,744 740,735 739,730 735,727 728,727 721,730 721,744 720,747 714,746 707,741 706,738 708,735 718,729 719,726 718,712 715,700 711,696 704,691 698,685 688,681 681,674 678,675 670,682 662,672 651,675 640,672 632,676 621,674 609,677 598,673 585,681 578,677 573,677 565,681 561,686 562,688 565,693 565,696 561,702 556,704 552,702 549,699 550,696 555,687 553,678 557,674 567,668 578,671 592,665 598,668 602,669 615,664 624,665 634,664 640,666 654,661 657,662 663,667 674,664 681,670 690,666 693,665 700,676 708,677 711,679 717,688 726,698 726,700 724,706 724,710 727,714 734,720 736,721 741,720 744,718 748,711 750,711 759,710 768,708 771,711 771,716 768,719 764,720 753,721 747,724 744,730 749,740 749,742 742,750 736,753ZM734,683 730,682 728,680 727,675 727,670 730,667 740,663 742,664 743,668 743,675 740,680 734,683ZM812,726 808,727 806,726 804,722 806,714 812,705 814,700 813,696 808,687 808,682 810,680 814,676 826,670 842,672 855,668 858,669 861,674 861,676 857,681 850,685 846,686 837,683 832,683 828,684 824,687 820,694 821,704 819,718 816,723 812,726ZM872,690 870,690 868,687 865,676 868,673 874,671 878,673 885,681 885,690 880,689 872,690ZM534,690 531,689 531,676 540,674 543,676 543,681 538,687 534,690ZM580,702 576,699 573,694 579,687 584,683 585,683 590,687 591,690 590,693 580,702ZM606,698 602,695 598,690 602,685 608,683 613,687 616,690 616,692 606,698ZM692,739 687,737 686,734 692,728 693,724 693,711 692,707 682,705 675,700 662,696 650,699 640,692 638,692 628,700 634,708 639,709 648,706 657,711 666,710 672,711 676,712 678,716 680,723 678,727 675,727 662,718 657,716 646,721 636,715 626,717 622,715 619,710 626,700 618,692 627,684 632,683 639,687 650,685 660,689 663,689 669,684 670,685 676,691 688,693 691,696 695,704 705,708 708,712 705,718 697,729 694,736 692,739ZM746,706 741,705 735,702 732,699 732,698 735,694 740,692 752,690 748,702 746,706ZM534,711 531,711 531,697 536,695 540,698 542,702 538,708 534,711ZM836,717 830,710 830,706 830,704 833,700 840,697 844,696 848,697 851,700 852,705 843,713 836,717ZM813,753 810,752 807,748 806,742 807,740 810,738 824,738 826,735 829,726 834,721 836,722 843,732 846,732 860,718 860,716 856,705 857,702 862,698 866,696 868,696 878,707 885,707 885,741 880,745 876,748 873,747 870,744 868,736 878,730 882,726 881,722 879,717 876,714 873,713 866,716 862,718 867,735 865,736 854,740 849,740 843,738 830,742 826,744 819,751 813,753ZM580,716 574,716 569,714 569,712 580,703 586,706 591,707 604,701 608,703 611,708 610,711 604,715 600,715 590,713 580,716ZM531,800 532,782 531,763 549,730 549,728 547,722 548,718 555,711 558,710 561,710 568,714 554,728 554,730 555,735 547,744 548,753 542,764 540,770 540,776 544,784 544,790 539,796 531,800ZM532,731 531,732 531,719 532,719 536,721 537,723 536,726 532,731ZM636,748 630,748 622,746 622,744 625,735 624,734 618,731 612,731 600,734 588,734 572,737 568,736 567,735 567,734 572,728 578,724 592,725 603,723 614,723 624,721 628,726 630,734 640,740 640,744 636,748ZM670,748 666,748 645,739 644,736 644,734 646,726 648,725 650,726 662,734 674,738 675,740 675,742 673,746 670,748ZM792,741 789,741 784,734 784,728 786,726 788,725 796,729 799,732 799,736 792,741ZM765,747 762,747 759,744 758,740 759,736 764,732 766,731 770,731 774,734 774,738 770,745 765,747ZM624,818 620,818 617,814 623,796 623,789 626,776 626,772 624,769 621,768 616,769 610,772 608,774 607,777 612,786 613,792 611,795 608,799 602,800 598,799 597,795 601,782 601,778 597,777 585,778 581,777 580,772 584,762 582,759 576,756 572,754 568,755 564,759 565,764 570,772 570,776 568,778 566,781 561,782 558,782 555,780 554,777 554,772 558,760 558,753 560,750 566,747 588,746 602,742 606,742 618,746 619,747 617,753 617,756 626,764 632,762 639,756 644,754 656,758 664,762 662,765 657,768 640,766 638,767 635,770 634,774 638,783 638,786 629,795 629,798 633,808 630,813 624,818ZM792,762 783,763 778,760 778,758 779,754 788,747 790,747 795,756 795,760 792,762ZM705,768 700,766 689,758 689,753 692,749 693,748 696,750 711,765 710,766 705,768ZM604,768 608,764 610,759 610,756 608,754 603,752 597,752 592,754 589,758 588,760 591,764 600,768 604,768ZM885,786 877,776 873,766 870,764 856,768 849,764 846,764 837,770 831,772 824,771 821,770 821,768 826,760 832,757 846,756 855,754 868,754 874,759 885,761 885,786ZM744,776 742,776 741,774 741,771 745,765 748,762 762,757 765,758 768,760 769,764 768,765 754,769 744,776ZM670,814 668,813 665,808 674,786 675,776 673,770 667,762 670,759 674,759 676,760 680,762 685,780 680,789 680,801 679,806 675,810 670,814ZM813,777 807,776 802,774 799,770 798,764 801,762 807,762 816,768 818,771 816,774 813,777ZM790,933 786,932 783,928 782,915 779,909 776,906 768,904 766,902 764,886 759,883 750,883 740,870 739,866 740,862 747,855 750,846 757,840 758,834 757,819 763,813 765,802 765,798 762,795 756,791 753,792 750,795 748,800 751,813 750,816 746,819 742,819 739,813 738,806 744,788 746,786 747,785 754,787 758,787 766,782 774,775 792,779 795,781 796,783 798,790 798,796 791,814 794,824 794,828 789,837 786,840 783,840 778,836 777,832 786,819 787,814 783,812 780,811 772,813 767,816 767,822 771,831 770,834 762,843 760,852 754,856 752,860 751,866 752,873 754,876 758,878 764,876 768,870 766,858 767,855 786,847 799,849 802,850 809,864 827,879 828,882 825,888 822,889 819,888 813,884 806,870 792,858 786,856 783,857 779,861 776,867 775,874 770,882 769,886 777,896 788,901 790,904 791,915 796,927 794,932 790,933ZM652,794 648,793 644,789 644,786 646,783 651,779 657,777 661,780 662,784 660,789 652,794ZM885,830 882,831 880,830 878,824 874,810 872,807 864,803 860,794 855,789 849,788 838,795 825,795 813,801 811,800 810,795 813,786 816,783 825,785 830,785 846,781 855,776 860,777 865,782 873,792 880,804 885,807 885,830ZM657,839 628,837 624,834 624,831 626,828 630,826 642,827 654,830 658,829 670,821 681,826 690,824 691,822 689,812 690,807 697,795 693,783 694,780 698,779 702,779 704,782 705,786 701,796 702,810 699,816 692,824 691,831 687,833 680,832 672,832 657,839ZM728,863 723,862 719,858 716,854 713,846 705,840 703,836 704,832 712,825 717,804 717,790 720,785 724,781 726,782 727,789 724,818 723,822 715,831 714,840 715,843 716,844 725,848 728,850 731,860 729,862 728,863ZM785,804 788,802 789,800 789,796 788,792 784,787 782,784 778,783 776,784 773,786 771,789 770,794 770,796 778,803 782,804 785,804ZM546,857 542,858 540,856 535,844 534,843 531,841 531,819 534,817 540,809 548,802 555,795 566,792 574,788 580,789 586,794 587,798 582,808 590,812 598,811 603,812 610,818 610,822 608,826 603,827 586,821 578,822 569,832 555,838 552,852 550,855 546,857ZM572,819 576,817 582,808 573,803 567,801 562,802 557,806 555,812 555,815 556,817 562,819 572,819ZM651,816 645,816 641,813 638,810 638,808 640,806 648,801 652,803 656,807 657,810 656,813 651,816ZM864,833 858,833 851,831 850,828 851,818 849,815 840,815 828,820 819,820 810,822 808,821 807,818 807,810 812,805 819,809 825,810 831,809 840,802 846,802 855,808 862,819 865,826 865,831 864,833ZM553,837 554,828 552,821 549,820 544,820 537,822 535,825 535,830 536,834 537,837 543,838 553,837ZM742,842 740,843 735,842 732,840 731,837 731,832 732,828 738,824 741,826 743,832 744,838 742,842ZM813,846 807,845 804,841 804,832 806,829 808,826 812,828 818,837 818,844 816,845 813,846ZM840,840 832,840 827,837 826,832 830,827 832,826 836,827 845,831 846,832 845,836 843,838 840,840ZM854,908 850,908 848,907 842,903 842,902 846,895 849,893 860,893 862,892 865,888 866,885 866,882 858,874 857,872 860,867 862,865 874,863 876,858 875,852 868,844 867,842 869,837 873,835 878,835 879,837 885,852 885,860 885,865 876,864 875,866 871,879 871,882 877,890 877,894 875,897 873,899 862,900 854,908ZM567,872 562,872 560,869 557,864 557,860 561,855 571,850 574,840 577,837 580,836 585,836 597,842 602,841 610,838 614,838 616,840 617,844 617,848 614,850 606,853 600,854 586,851 576,852 575,855 574,867 572,870 567,872ZM706,874 702,874 697,872 695,868 693,858 692,856 688,854 684,854 672,860 660,856 651,862 648,863 638,861 626,862 623,860 622,854 624,851 627,850 651,851 687,846 700,855 704,860 708,868 708,872 706,874ZM834,863 826,864 820,861 819,855 820,850 826,850 840,854 849,846 856,845 861,846 862,849 861,852 859,856 856,859 850,859 842,857 834,863ZM586,960 585,961 582,959 578,952 578,948 582,938 581,933 578,928 574,927 564,928 558,920 555,918 531,912 531,889 532,886 533,880 531,874 531,861 538,863 543,872 550,882 561,879 566,884 570,890 569,894 566,899 560,903 560,906 562,910 565,914 580,921 592,921 608,916 621,918 628,914 632,908 632,892 627,881 624,878 614,879 603,876 598,878 586,885 584,883 580,876 580,872 583,868 591,865 597,865 606,868 616,866 621,866 627,874 630,875 642,876 651,871 657,872 664,876 659,888 660,890 669,895 681,894 685,897 684,904 681,908 676,908 668,904 654,904 651,903 651,902 658,888 650,883 646,882 644,883 639,888 637,892 640,897 649,903 640,914 636,926 633,928 621,927 610,931 598,929 593,932 590,934 589,939 596,951 593,956 586,960ZM684,885 678,883 668,876 668,873 672,869 675,868 678,869 687,874 688,878 688,880 687,884 684,885ZM846,886 838,885 833,880 834,876 838,871 842,870 846,871 852,874 851,880 846,886ZM844,963 842,964 830,955 826,956 819,962 818,962 810,957 798,958 789,952 784,953 776,956 774,956 770,944 765,940 762,937 754,918 745,914 742,903 740,898 736,895 732,894 727,890 717,884 714,880 714,878 718,874 724,873 728,876 732,888 735,892 747,890 754,906 757,909 764,913 770,922 772,928 772,939 774,942 800,944 812,949 824,946 831,949 850,945 859,940 866,938 868,938 871,940 872,948 870,952 868,955 866,955 855,951 852,951 849,954 844,963ZM796,889 792,889 786,885 782,880 781,876 788,873 792,872 795,873 797,876 798,880 798,886 796,889ZM885,888 884,885 885,880 885,888ZM555,904 558,903 558,902 550,884 546,885 537,891 536,894 536,897 541,903 548,905 555,904ZM705,905 700,903 695,896 695,891 700,888 704,887 706,889 709,894 710,902 708,904 705,905ZM585,911 582,910 580,909 578,900 579,894 584,889 586,889 597,899 610,889 615,889 621,894 621,897 620,900 614,906 608,906 598,900 597,900 590,908 585,911ZM830,935 825,936 819,933 808,933 803,930 803,927 807,915 806,912 799,902 799,896 800,892 807,893 812,896 813,902 813,915 818,923 822,927 831,923 840,923 852,917 860,917 870,912 878,910 882,904 885,902 885,914 880,912 879,913 875,924 873,928 868,928 860,925 856,926 848,934 836,933 830,935ZM832,914 831,914 828,914 824,908 824,900 826,895 832,897 840,903 832,914ZM723,922 718,922 715,908 716,904 719,903 728,900 729,903 728,912 726,919 723,922ZM616,978 598,978 594,977 593,978 574,978 572,977 569,978 553,978 552,975 552,970 561,962 556,952 552,940 550,938 538,941 531,939 531,927 543,928 546,930 552,936 560,935 562,936 567,944 569,950 568,954 561,962 572,973 574,972 584,968 586,968 594,974 603,967 608,966 615,968 620,968 632,961 640,965 644,965 651,958 656,948 668,943 679,932 682,920 686,914 694,913 700,915 701,920 699,923 684,931 682,933 683,945 680,948 669,953 664,956 662,961 658,969 656,973 651,975 640,971 630,977 616,978ZM664,930 657,931 654,931 652,929 653,921 655,916 657,914 660,914 663,915 669,921 669,924 669,927 664,930ZM747,978 733,978 734,970 744,964 746,958 744,950 735,940 730,928 730,926 730,923 736,920 740,920 742,922 747,936 755,945 757,950 758,960 750,969 748,978 747,978ZM712,978 698,978 694,968 688,963 689,950 691,946 699,941 708,929 716,926 717,928 717,944 726,947 729,949 731,954 732,960 731,964 729,966 726,967 722,966 718,962 716,946 708,946 703,948 701,952 700,958 702,962 711,970 712,978ZM885,945 881,940 879,936 880,933 885,930 885,945ZM610,956 604,956 599,952 599,951 603,945 609,940 614,939 626,944 630,942 638,933 644,932 649,934 650,939 649,944 633,953 630,953 622,951 610,956ZM540,968 537,968 531,965 531,952 536,950 538,951 543,956 545,960 544,963 543,966 540,968ZM885,972 880,972 872,968 871,966 876,960 885,955 885,972ZM771,978 765,978 763,966 766,962 774,959 779,970 778,974 771,978ZM681,978 668,978 670,970 675,965 680,963 686,963 687,964 681,978ZM801,978 786,978 784,975 784,972 790,967 796,966 801,972 802,976 801,978ZM866,978 851,978 846,975 844,975 843,978 809,978 816,969 819,967 826,973 831,974 843,973 848,969 860,967 866,966 870,967 871,968 866,978ZM540,978 531,978 537,977 540,978Z"/>
<path fill="#F0A84E" fill-rule="evenodd" d="M534,630 531,630 531,621 540,621 538,627 534,630ZM564,621 557,621 565,621 564,621ZM622,633 620,632 617,630 617,627 619,624 623,621 635,621 635,624 634,627 627,632 622,633ZM648,632 645,632 642,627 643,624 645,621 659,621 657,626 648,632ZM747,654 744,655 741,654 731,642 724,638 712,635 702,630 693,629 687,627 669,630 667,628 665,624 668,621 686,621 690,624 704,621 722,627 734,628 735,630 736,636 738,639 742,641 754,643 758,646 759,650 758,651 747,654ZM771,629 762,628 759,626 757,621 777,621 775,627 771,629ZM846,630 831,631 824,628 823,627 827,621 842,621 849,623 852,622 853,621 885,621 885,624 878,626 873,626 866,622 858,623 854,624 850,628 846,630ZM579,639 574,639 570,636 571,632 574,628 580,627 591,628 603,622 608,624 610,627 609,630 603,634 598,635 590,634 579,639ZM812,636 806,636 799,633 799,628 802,622 808,622 819,627 820,628 818,632 815,634 812,636ZM552,645 549,644 546,642 544,639 544,636 549,633 556,633 560,634 560,638 556,643 552,645ZM789,649 786,649 782,648 777,644 776,638 778,633 784,633 791,636 791,644 789,649ZM879,659 874,656 868,646 869,640 873,637 876,638 879,640 882,646 882,656 879,659ZM638,654 633,652 630,648 640,639 644,638 645,639 647,644 647,646 644,651 638,654ZM720,668 717,669 714,669 706,658 704,657 696,657 690,652 678,654 670,651 658,652 656,650 655,645 660,640 664,639 668,640 674,646 676,646 687,641 690,642 694,645 702,647 708,650 717,652 721,654 723,658 723,663 722,666 720,668ZM594,659 590,658 585,654 585,652 594,647 598,646 606,648 615,643 620,642 623,644 626,648 621,652 616,654 606,651 594,659ZM800,668 795,669 792,667 791,658 792,655 794,653 810,653 817,646 820,645 838,648 850,642 854,644 857,648 857,656 854,659 840,654 826,659 813,656 810,658 804,665 800,668ZM568,662 566,661 562,657 562,656 564,652 572,649 574,649 579,651 580,652 579,656 572,661 568,662ZM760,687 758,686 756,684 758,678 760,654 760,653 762,653 770,657 773,662 774,666 771,670 762,676 760,680 760,687ZM544,668 542,668 538,666 536,662 536,658 542,655 549,654 552,657 552,660 549,664 544,668ZM670,680 662,671 651,675 648,674 640,670 632,675 621,673 609,676 606,676 602,672 602,670 604,669 614,665 624,666 634,665 640,667 650,663 654,662 657,663 663,669 672,665 675,666 677,668 680,672 674,678 670,680ZM735,682 732,682 729,680 727,676 727,672 730,668 736,665 740,664 742,668 743,674 740,679 735,682ZM558,702 554,702 551,698 553,693 558,687 554,680 556,675 567,669 570,670 578,673 591,667 594,667 598,670 598,672 586,678 584,679 576,674 564,681 558,687 563,693 564,696 562,699 558,702ZM720,700 715,696 705,691 698,684 688,681 683,675 682,672 688,667 693,666 700,677 708,678 711,680 720,697 720,700ZM816,697 811,690 809,686 811,681 816,676 828,671 842,673 855,670 858,672 859,675 858,678 851,684 846,685 836,682 828,683 823,687 818,696 816,697ZM874,689 870,688 867,681 868,676 873,673 878,675 885,682 885,688 882,687 874,689ZM792,688 790,688 788,688 784,686 783,684 784,678 788,675 790,675 792,678 793,684 792,688ZM534,689 531,688 531,677 537,676 540,676 542,680 541,682 537,687 534,689ZM608,696 603,695 599,690 600,687 606,684 610,685 615,690 613,693 608,696ZM690,705 684,705 675,699 662,695 652,698 650,699 639,690 627,698 624,697 620,692 624,687 630,684 634,685 639,690 648,685 652,686 660,690 669,686 676,692 686,693 689,694 691,698 692,702 692,704 690,705ZM580,699 576,697 575,693 580,686 585,685 590,688 590,692 585,697 580,699ZM770,699 765,696 762,690 762,688 771,689 774,692 773,696 770,699ZM744,704 738,702 736,700 735,698 739,693 746,692 748,693 748,696 747,701 744,704ZM534,710 531,709 531,698 536,696 540,699 540,702 538,706 534,710ZM789,713 786,714 785,712 785,710 790,700 794,697 795,698 796,700 796,705 794,709 789,713ZM837,716 834,714 832,711 831,706 831,704 838,698 843,696 846,697 850,700 850,705 844,711 837,716ZM878,746 874,747 873,746 870,738 872,735 881,729 883,728 883,724 879,716 876,713 872,713 864,716 861,714 858,708 858,704 861,700 866,698 868,698 878,708 885,707 885,740 882,743 878,746ZM812,725 808,725 806,723 806,717 808,712 818,701 819,710 818,718 816,722 812,725ZM603,714 590,712 578,715 574,714 573,712 574,710 579,706 582,705 591,708 604,703 608,705 610,710 607,712 603,714ZM676,725 670,723 657,714 646,720 636,714 626,715 622,712 621,708 624,704 627,703 638,710 648,707 651,708 657,712 664,710 670,711 675,713 678,717 679,722 676,725ZM699,722 696,722 695,717 695,710 696,708 698,707 704,709 706,712 704,718 699,722ZM555,723 552,724 550,723 549,720 550,717 556,712 562,712 563,714 562,717 555,723ZM764,717 753,718 750,717 750,715 753,714 765,712 766,714 764,717ZM728,725 723,725 722,723 721,718 723,716 726,717 730,722 730,723 728,725ZM531,729 531,721 533,723 534,724 531,729ZM852,740 848,738 846,736 846,734 855,723 860,721 861,721 864,729 865,735 860,738 852,740ZM579,735 572,736 569,734 570,730 573,728 579,725 591,726 603,724 614,724 622,722 626,723 628,728 628,730 626,732 614,730 602,733 590,733 579,735ZM836,740 830,741 826,740 829,728 831,725 834,723 837,725 841,734 841,736 836,740ZM669,745 664,745 648,739 645,735 646,729 648,728 651,728 662,736 670,740 671,742 669,745ZM794,737 790,737 789,735 788,732 789,730 792,730 795,732 795,735 794,737ZM717,743 713,742 710,740 711,735 716,733 717,734 719,736 719,741 717,743ZM766,744 762,744 760,740 764,734 768,733 771,735 772,738 770,742 766,744ZM634,747 628,747 624,744 626,739 628,736 635,738 638,741 638,744 634,747ZM741,747 738,747 738,745 741,739 742,738 744,739 745,742 741,747ZM816,752 812,751 809,748 807,744 808,741 814,739 825,741 822,747 816,752ZM591,777 585,778 581,776 581,771 585,763 588,763 598,769 604,770 607,768 611,759 611,756 610,754 603,752 597,751 592,753 585,759 572,753 562,755 561,754 562,752 567,749 591,746 603,742 609,743 615,746 617,748 616,756 621,762 622,765 618,768 606,772 603,775 591,777ZM789,761 784,760 781,758 783,753 788,750 790,751 792,756 792,759 789,761ZM532,798 531,798 531,788 533,780 531,776 531,764 538,753 543,750 545,752 545,754 540,766 538,772 539,777 543,784 543,789 539,795 532,798ZM628,793 626,793 625,789 628,767 633,765 638,759 642,756 650,756 658,760 658,764 656,766 639,765 634,766 632,772 636,784 635,788 628,793ZM861,765 855,766 848,760 848,759 852,756 858,755 866,755 870,758 871,760 861,765ZM831,771 826,771 823,768 824,765 827,760 831,758 836,757 840,757 845,759 845,760 839,768 831,771ZM564,781 558,781 555,778 554,776 554,771 556,765 560,761 561,761 567,768 569,774 567,778 564,781ZM885,784 876,772 872,762 873,761 880,761 885,763 885,784ZM813,774 808,775 803,772 801,770 801,765 806,763 810,765 814,770 814,772 813,774ZM652,792 648,791 646,789 645,786 647,783 651,780 654,778 657,779 660,782 660,786 657,790 652,792ZM884,828 880,828 879,825 875,808 865,802 860,792 855,788 849,786 838,795 826,794 814,798 813,798 812,795 813,789 816,785 828,786 846,782 855,777 860,778 864,782 873,794 878,804 885,809 885,828 884,828ZM606,798 602,799 598,795 600,787 603,780 604,779 609,783 612,789 611,794 606,798ZM794,799 783,782 783,780 790,780 795,784 796,788 797,794 795,798 794,799ZM765,792 762,789 765,786 768,786 767,790 765,792ZM548,855 544,856 542,856 540,854 535,843 534,841 531,840 531,820 534,819 540,810 549,804 555,796 566,794 574,789 580,790 584,792 586,796 585,801 582,805 579,805 570,801 566,800 558,803 554,808 554,816 555,819 572,820 574,822 572,828 567,832 561,835 556,835 555,833 554,820 552,819 540,819 536,821 534,830 536,837 538,839 550,839 552,840 553,842 552,850 550,854 548,855ZM674,809 670,810 669,809 668,806 670,798 674,794 675,793 677,795 678,801 676,805 674,809ZM624,815 621,814 620,810 622,802 626,800 629,804 630,808 628,812 624,815ZM771,812 768,812 766,810 767,802 768,800 770,800 775,802 780,807 779,808 771,812ZM696,815 693,815 692,810 693,805 698,802 700,804 700,808 699,812 696,815ZM746,815 742,814 741,810 741,806 742,803 744,802 746,803 748,810 747,813 746,815ZM861,833 855,832 852,830 852,818 850,814 846,813 840,814 828,819 819,819 812,820 808,817 808,812 810,809 813,808 820,811 826,811 831,809 840,803 846,803 852,807 863,820 864,825 864,830 861,833ZM651,815 645,814 641,810 641,807 646,803 651,803 655,808 655,812 651,815ZM718,821 717,820 717,816 718,811 720,809 721,812 721,816 718,821ZM603,825 597,824 588,819 580,819 579,818 582,814 590,815 597,813 602,813 606,816 608,819 607,824 603,825ZM764,837 762,837 761,836 760,830 760,822 762,819 764,820 768,831 768,834 764,837ZM786,838 782,837 780,836 779,832 786,822 789,820 790,820 793,824 793,828 790,833 786,838ZM650,836 632,836 628,834 627,831 628,829 632,828 642,829 655,834 650,836ZM740,840 735,839 733,836 734,830 736,828 740,829 741,832 742,837 740,840ZM838,840 832,840 828,837 827,832 831,827 834,827 838,828 843,830 845,832 844,837 838,840ZM814,845 808,845 805,842 805,834 806,831 808,829 813,831 817,837 817,842 814,845ZM603,852 598,852 590,850 574,851 574,848 575,842 578,838 582,837 586,838 597,843 609,841 612,842 614,844 613,848 608,850 603,852ZM885,863 880,863 878,862 875,850 869,843 869,840 872,838 876,837 879,840 881,848 885,854 885,863ZM855,858 850,859 846,858 842,855 843,854 846,849 849,847 854,846 858,846 860,848 860,852 858,856 855,858ZM674,857 670,856 667,854 668,852 673,850 677,850 679,852 677,855 674,857ZM726,859 723,858 720,856 719,852 720,850 723,850 726,852 727,856 726,859ZM772,867 771,867 769,861 769,858 771,855 786,850 792,850 798,850 801,852 804,856 807,866 806,866 801,864 790,856 786,854 782,856 772,867ZM832,863 826,863 822,861 819,856 820,852 823,850 826,851 837,855 838,858 836,861 832,863ZM650,860 645,861 628,860 626,858 625,855 627,852 630,852 650,854 653,855 653,856 650,860ZM568,870 564,871 561,870 558,866 558,861 559,858 561,856 572,852 573,854 574,864 573,867 568,870ZM704,871 700,871 698,868 696,861 698,858 700,859 704,862 705,867 704,871ZM536,890 534,890 534,890 533,878 531,873 531,862 537,864 547,880 546,884 536,890ZM747,871 744,870 742,867 743,864 746,862 747,862 748,866 747,871ZM590,882 585,883 582,879 581,874 582,870 588,867 596,866 606,869 618,867 620,868 622,872 623,874 618,877 612,878 603,875 590,882ZM868,881 862,878 858,873 860,868 864,865 870,865 873,867 872,874 868,881ZM824,887 819,887 814,884 811,878 809,868 812,868 816,871 825,879 827,884 824,887ZM684,883 680,882 672,878 671,874 672,872 676,870 683,873 686,878 686,880 684,883ZM844,885 838,884 834,880 835,876 840,871 843,871 848,872 851,876 849,882 844,885ZM657,884 648,880 646,879 646,878 649,874 652,873 659,874 660,876 661,879 660,882 657,884ZM794,888 789,887 784,882 783,878 785,874 792,873 796,876 798,880 797,885 796,887 794,888ZM634,890 632,888 629,884 628,879 629,878 636,877 643,879 643,880 641,884 634,890ZM726,885 723,884 719,882 718,879 719,878 722,876 725,878 727,882 726,885ZM561,900 558,899 553,885 555,882 560,880 562,881 566,883 568,886 569,891 567,896 561,900ZM854,907 849,907 844,903 844,900 847,896 850,894 861,894 864,891 868,884 873,886 876,891 874,896 872,898 862,899 854,907ZM610,906 608,906 603,903 600,900 600,898 602,896 608,891 614,889 616,891 620,894 620,898 616,903 610,906ZM586,909 584,910 581,908 578,900 580,894 585,890 591,894 595,898 595,900 591,906 586,909ZM705,902 700,900 697,896 698,892 700,890 705,891 707,894 708,898 706,901 705,902ZM586,959 582,957 579,952 579,948 583,938 582,933 579,927 576,926 566,926 556,917 531,911 531,892 532,891 533,892 536,898 542,904 548,906 558,907 563,914 573,918 580,923 592,922 608,917 620,919 624,917 629,914 632,910 634,898 636,897 645,903 645,906 640,914 636,924 633,926 621,926 610,930 597,929 591,932 589,934 588,938 594,951 592,956 586,959ZM790,932 786,930 783,927 782,915 780,909 777,906 770,903 767,902 766,896 768,891 771,892 778,898 786,902 789,904 791,915 795,927 794,930 790,932ZM681,906 676,906 668,902 657,903 655,902 655,898 657,894 660,893 669,897 681,896 684,900 683,903 681,906ZM814,932 808,932 804,928 804,926 808,915 800,902 800,897 802,893 808,894 812,898 812,904 811,914 819,928 818,930 814,932ZM832,913 830,913 828,913 824,906 824,900 826,897 828,896 834,898 838,903 837,908 832,913ZM768,939 765,939 762,935 754,916 747,913 746,910 745,903 746,899 748,901 754,910 764,914 769,921 771,927 771,932 770,938 768,939ZM723,917 722,917 720,916 717,909 720,905 724,903 726,904 726,909 725,915 723,917ZM885,913 882,909 882,906 885,903 885,913ZM846,933 836,932 826,933 824,932 824,930 830,926 840,924 850,919 860,919 870,913 874,913 876,914 876,920 873,926 868,927 861,923 858,923 850,931 846,933ZM690,927 686,928 683,927 683,922 684,918 688,915 694,914 698,916 699,918 698,922 690,927ZM662,930 656,930 653,927 654,920 656,917 658,915 662,915 664,917 668,922 667,927 662,930ZM747,978 734,978 735,972 746,965 747,960 745,950 735,939 732,930 732,924 736,922 741,923 747,938 755,946 756,951 756,960 749,968 747,978ZM542,939 537,940 531,938 531,928 542,928 546,932 548,934 548,936 542,939ZM711,978 699,978 697,970 691,962 691,958 692,948 699,942 706,932 712,928 714,929 716,932 715,942 714,944 703,946 700,951 699,956 701,962 710,970 712,975 712,978 711,978ZM885,944 881,939 880,936 881,933 885,930 885,944ZM614,954 606,955 603,954 601,951 603,946 609,941 614,940 626,945 630,943 636,936 639,933 645,934 648,936 649,940 647,944 634,951 630,952 624,950 614,954ZM614,978 600,978 598,976 598,974 601,969 604,967 620,969 632,962 642,967 652,958 656,951 658,948 668,944 676,936 680,936 681,938 682,942 681,945 664,956 661,960 658,969 654,973 650,973 642,969 630,976 614,978ZM562,958 561,958 558,955 555,948 554,939 556,937 560,936 562,938 568,946 568,952 562,958ZM867,954 862,954 851,948 856,944 860,941 864,939 868,939 871,942 871,946 870,952 867,954ZM820,959 818,960 808,955 800,956 789,951 777,954 774,952 773,946 774,944 778,944 790,946 801,946 812,950 824,948 828,951 828,952 820,959ZM726,966 722,965 718,962 717,951 719,946 726,947 729,950 730,952 731,957 730,962 729,965 726,966ZM843,962 838,960 831,952 835,950 842,948 850,948 846,959 843,962ZM540,967 536,967 531,964 531,953 537,951 540,952 543,956 544,962 543,964 540,967ZM885,971 882,971 879,970 875,968 874,964 878,960 885,956 885,971ZM770,978 766,977 764,968 767,963 772,961 776,964 778,970 775,975 770,978ZM680,978 669,978 670,972 673,968 676,965 681,964 684,964 684,968 680,978 680,978ZM566,978 555,978 554,976 553,974 554,970 560,965 561,965 564,966 569,974 568,976 566,978ZM800,978 787,978 785,975 786,972 792,967 796,967 799,969 801,974 801,976 800,978ZM864,978 853,978 849,975 848,972 850,970 856,968 862,967 867,967 868,969 868,972 866,977 864,978ZM590,978 576,978 575,975 580,970 585,969 590,974 591,976 591,978 590,978ZM842,978 811,978 816,971 819,969 828,975 840,975 842,976 842,978Z"/>
<path fill="#D97E1C" fill-rule="evenodd" d="M534,627 532,626 532,621 538,621 537,625 534,627ZM626,632 621,632 619,630 619,627 620,624 624,621 634,621 634,626 631,628 626,632ZM648,630 645,630 644,627 644,624 646,621 658,621 655,626 648,630ZM676,629 669,629 667,626 668,622 669,621 684,621 685,624 684,626 676,629ZM770,627 764,627 761,624 760,621 775,621 773,626 770,627ZM843,629 837,630 831,630 828,628 825,626 828,621 840,621 845,626 845,627 843,629ZM880,624 874,625 870,621 885,621 884,622 880,624ZM812,635 804,634 800,632 800,627 802,623 806,622 808,623 816,627 817,628 816,632 812,635ZM580,638 576,639 573,637 571,634 572,632 574,629 579,628 591,630 598,625 603,623 606,624 609,627 608,630 603,634 598,634 590,633 580,638ZM732,638 712,634 698,626 700,624 706,623 722,628 730,630 733,633 732,638ZM554,644 549,643 546,640 545,638 547,634 554,633 558,634 559,636 559,639 556,642 554,644ZM788,647 783,647 779,644 777,639 780,634 786,634 790,637 790,644 788,647ZM639,653 634,652 633,651 632,648 638,642 644,640 646,642 646,646 644,650 639,653ZM718,668 716,668 712,666 706,657 697,656 692,651 688,650 678,653 672,650 660,652 657,650 656,645 660,641 664,640 668,641 672,647 675,647 687,643 693,647 700,648 708,652 718,653 722,656 723,662 722,666 718,668ZM879,655 878,655 874,653 870,646 870,642 873,639 878,641 880,645 881,651 879,655ZM746,653 742,653 739,650 736,645 736,642 747,644 753,646 752,650 746,653ZM620,653 614,653 608,650 614,645 620,643 623,645 624,648 620,653ZM852,657 838,652 831,657 825,658 817,656 815,654 814,652 817,648 820,646 826,646 838,651 846,645 850,644 854,645 856,650 855,655 852,657ZM596,657 592,658 588,656 587,654 588,651 592,648 597,647 602,648 604,650 602,652 596,657ZM570,660 567,660 565,658 564,657 564,654 570,650 573,650 577,651 578,652 577,656 570,660ZM544,667 542,667 539,664 537,662 538,658 543,656 549,656 551,657 551,660 548,664 544,667ZM800,666 796,666 794,664 793,660 794,656 798,654 807,656 808,657 806,662 800,666ZM765,673 762,673 760,672 760,669 761,660 762,657 764,656 766,657 769,658 772,664 771,669 765,673ZM654,674 650,674 646,672 644,670 644,668 651,663 656,663 659,666 660,669 659,670 654,674ZM610,675 605,674 605,670 614,666 624,667 633,666 636,668 637,669 635,672 632,674 621,672 610,675ZM736,680 734,681 730,680 729,678 728,674 730,669 738,665 741,667 742,672 740,676 736,680ZM672,678 670,678 668,676 665,670 668,668 672,666 676,668 678,672 676,675 672,678ZM712,692 706,691 698,683 688,680 685,675 684,672 685,670 688,668 692,668 694,669 699,678 710,680 713,687 714,690 712,692ZM586,677 583,676 581,675 581,674 588,669 591,668 594,669 595,670 595,672 586,677ZM560,683 556,682 556,680 558,675 566,671 568,671 571,672 572,674 571,675 560,683ZM818,691 816,691 813,689 811,686 812,682 815,678 824,673 830,672 840,674 852,672 855,673 856,675 855,680 849,684 846,684 837,681 831,681 824,684 818,691ZM876,687 872,686 869,682 870,678 873,676 878,677 883,684 882,686 876,687ZM534,687 531,687 531,678 538,678 540,680 539,682 537,686 534,687ZM609,695 604,695 601,692 601,688 604,685 609,685 613,688 613,692 609,695ZM628,697 625,696 622,692 626,687 632,685 635,687 636,690 634,693 628,697ZM582,698 578,697 576,693 580,687 585,686 588,688 588,692 582,698ZM652,698 650,698 645,694 643,692 643,688 646,687 651,686 659,692 660,693 658,694 652,698ZM688,704 684,703 676,698 668,696 662,693 667,688 670,688 676,693 686,694 688,696 691,700 688,704ZM558,701 555,700 553,698 554,693 558,690 561,692 562,696 561,699 558,701ZM770,695 768,694 768,692 770,693 770,695ZM744,701 741,701 738,699 739,696 741,694 744,694 746,695 746,699 744,701ZM837,714 834,712 832,710 832,706 832,704 835,700 840,698 846,698 849,702 848,706 843,712 837,714ZM536,707 531,708 531,700 534,698 537,699 539,702 536,707ZM864,714 861,712 859,705 862,700 867,699 871,702 875,710 874,711 864,714ZM604,713 598,713 593,711 592,710 599,705 604,704 608,705 609,708 608,711 604,713ZM628,714 626,714 622,711 622,708 626,705 630,706 635,711 634,712 628,714ZM582,713 578,713 576,712 576,711 578,709 580,707 584,708 587,710 586,711 582,713ZM650,717 645,718 639,712 644,709 650,709 653,712 653,714 650,717ZM812,723 809,723 808,722 807,717 812,710 814,709 816,709 818,713 817,718 814,722 812,723ZM885,724 882,720 878,711 885,708 885,724ZM699,719 698,718 697,714 697,711 699,710 702,711 703,714 702,717 699,719ZM676,722 674,723 670,722 663,717 661,714 663,712 666,711 672,712 677,717 676,722ZM555,720 554,720 553,717 555,715 558,714 559,716 559,717 555,720ZM856,738 850,738 849,736 848,734 853,726 860,722 862,725 864,734 861,736 856,738ZM582,734 574,734 572,734 572,732 575,728 580,726 591,727 603,725 614,725 621,724 624,724 626,728 626,729 624,730 614,729 602,732 591,732 582,734ZM834,738 830,738 829,735 830,729 832,726 834,725 837,728 839,734 838,736 834,738ZM660,740 654,739 650,737 648,735 648,731 651,730 654,732 660,738 661,740 660,740ZM879,744 876,745 873,744 871,741 871,738 876,734 880,731 884,731 885,734 884,738 883,741 879,744ZM633,746 629,746 627,744 626,741 628,738 632,738 636,741 636,744 633,746ZM766,740 765,740 765,738 766,737 768,738 766,740ZM816,750 813,750 810,747 809,744 812,741 816,741 821,742 821,744 820,747 816,750ZM585,758 576,753 575,752 575,750 580,748 594,746 603,743 609,744 615,747 615,750 612,753 597,750 592,752 585,758ZM788,756 786,756 788,755 788,756ZM536,796 531,796 531,790 534,778 533,776 531,773 531,767 540,756 541,758 541,759 538,768 536,776 542,783 542,788 540,792 536,796ZM652,764 642,764 639,762 639,760 643,758 648,758 654,760 654,762 652,764ZM861,764 855,764 853,762 853,759 854,758 858,756 866,758 866,760 861,764ZM616,767 612,768 610,766 610,763 614,759 616,760 618,762 618,765 616,767ZM834,770 830,770 826,769 825,766 826,764 832,759 837,758 840,759 841,760 841,764 838,767 834,770ZM885,782 876,770 875,765 878,762 882,762 885,765 885,782ZM562,780 558,780 555,776 556,768 558,765 561,764 566,768 568,774 567,777 562,780ZM594,776 586,777 582,776 581,771 585,765 586,764 590,764 599,771 599,772 598,774 594,776ZM810,772 807,772 805,771 804,770 804,767 806,766 808,767 811,770 810,772ZM630,789 627,789 626,786 627,782 630,777 633,779 634,783 634,786 630,789ZM874,804 870,804 866,801 862,792 858,788 852,784 851,783 851,782 856,779 862,782 874,796 875,801 874,804ZM656,789 651,790 648,788 649,783 654,780 657,781 658,783 658,786 656,789ZM604,797 601,796 600,792 603,784 606,782 609,786 610,790 608,795 604,797ZM794,790 792,790 790,789 789,786 789,783 792,784 794,788 794,790ZM819,795 816,796 814,794 814,790 818,787 826,787 840,784 843,784 845,786 842,790 838,793 826,793 819,795ZM580,803 576,802 568,798 567,796 568,795 574,790 578,790 580,791 583,794 585,796 584,801 580,803ZM558,800 556,800 558,799 558,800ZM771,809 769,807 770,805 771,804 774,806 774,807 771,809ZM830,818 813,818 811,816 811,813 813,811 822,812 828,811 842,803 844,803 849,806 852,810 852,812 838,814 830,818ZM626,810 624,811 623,808 624,806 626,805 627,807 626,810ZM650,813 646,813 643,810 644,807 646,805 651,806 653,808 652,812 650,813ZM548,818 539,818 539,814 543,809 550,806 552,808 552,814 550,817 548,818ZM885,825 882,826 879,822 877,812 878,808 879,808 885,810 885,825ZM603,822 597,822 594,819 594,818 598,815 602,816 605,819 603,822ZM861,831 855,831 852,828 854,818 855,815 860,817 863,824 864,828 861,831ZM560,834 556,833 556,831 555,825 556,821 562,820 570,822 571,825 569,830 565,832 560,834ZM532,839 531,839 531,822 532,822 533,825 534,837 532,839ZM784,836 782,834 782,831 784,826 789,823 791,825 791,830 788,834 784,836ZM840,839 834,840 829,837 828,834 830,829 834,827 843,831 844,832 844,836 840,839ZM640,833 636,834 632,832 633,831 638,831 640,831 642,832 640,833ZM814,843 810,844 807,842 805,836 807,832 808,831 813,833 816,837 816,840 814,843ZM604,849 600,850 592,848 578,849 575,848 575,843 579,838 584,838 588,840 597,845 608,845 608,846 608,848 604,849ZM544,855 542,854 539,850 537,843 537,841 538,840 548,840 551,842 552,846 551,850 549,854 544,855ZM878,848 873,844 872,843 873,841 874,840 877,842 878,844 878,848ZM852,858 846,856 845,855 845,852 847,849 850,847 855,846 858,847 860,850 858,855 855,857 852,858ZM884,860 880,860 879,859 879,850 884,855 884,858 884,860ZM832,862 828,862 823,861 821,858 821,854 824,851 826,851 835,855 836,858 832,862ZM802,861 798,860 794,856 793,854 796,852 800,854 803,858 802,861ZM566,870 561,868 559,866 559,861 562,856 570,854 572,855 573,858 572,866 570,868 566,870ZM634,858 630,857 629,855 634,854 644,856 634,858ZM538,887 536,885 534,876 531,872 531,863 536,866 545,879 545,882 544,884 538,887ZM591,881 586,882 584,880 582,874 584,870 588,867 594,866 598,868 604,872 603,873 591,881ZM868,878 867,879 864,878 860,873 861,868 864,866 868,866 871,868 871,873 868,878ZM615,876 612,876 608,874 606,873 607,872 614,869 618,870 620,873 618,875 615,876ZM682,880 680,880 676,878 674,876 675,873 678,873 681,874 683,878 682,880ZM824,885 819,886 815,882 812,876 812,873 813,872 818,873 824,879 825,882 824,885ZM846,884 840,884 836,880 835,878 838,873 844,872 849,874 850,879 846,884ZM794,887 789,885 785,882 784,879 786,876 790,874 795,876 797,882 796,885 794,887ZM656,881 652,879 651,878 652,876 656,876 657,878 657,880 656,881ZM636,886 633,886 632,884 631,880 633,879 636,879 639,880 638,884 636,886ZM561,899 558,897 554,886 555,884 560,882 562,882 566,885 568,891 566,896 561,899ZM872,896 867,896 865,896 865,894 867,889 870,887 873,889 874,891 874,894 872,896ZM614,905 608,905 604,903 602,900 603,896 610,890 615,891 619,896 619,900 614,905ZM586,908 582,907 579,902 580,896 582,893 585,892 588,893 591,895 594,900 591,904 586,908ZM704,897 702,897 702,894 704,896 704,897ZM790,930 788,930 784,927 783,914 780,907 777,904 771,902 769,900 768,897 770,895 772,895 778,900 788,904 793,926 792,928 790,930ZM810,909 808,910 807,909 802,903 801,898 802,895 807,895 810,897 811,903 810,909ZM855,905 850,906 846,903 846,898 849,895 854,894 860,897 859,900 855,905ZM662,900 658,899 659,897 662,897 663,898 662,900ZM558,914 546,914 531,909 531,897 544,907 556,909 558,912 558,914ZM680,904 676,904 674,903 673,902 673,900 676,898 680,899 681,902 680,904ZM832,911 830,912 828,911 825,908 825,902 828,898 832,899 837,903 836,908 832,911ZM586,933 585,933 583,930 583,927 584,926 606,918 620,920 622,919 632,912 636,900 639,900 642,903 642,908 638,914 635,922 633,925 621,925 609,929 596,928 592,929 586,933ZM885,911 884,909 885,906 885,911ZM768,937 766,937 764,935 760,929 757,918 759,915 762,915 765,917 769,924 770,932 768,937ZM872,926 867,925 862,921 866,916 870,914 873,914 875,915 875,920 873,924 872,926ZM663,929 657,929 654,927 655,921 656,918 658,917 663,917 666,921 667,926 663,929ZM688,926 686,926 685,924 685,921 687,918 692,916 696,918 697,920 695,922 688,926ZM572,924 568,925 566,924 563,921 562,917 566,917 571,920 573,922 572,924ZM813,930 808,930 806,927 807,922 810,918 813,921 816,926 815,928 813,930ZM846,932 842,931 835,928 848,921 852,920 855,921 855,922 853,927 849,931 846,932ZM752,962 749,962 747,952 745,946 737,939 734,934 733,928 733,926 735,924 738,923 741,925 747,940 754,949 755,957 754,960 752,962ZM543,938 537,939 531,937 531,929 538,929 543,930 546,934 543,938ZM706,944 703,944 703,939 708,932 712,931 715,934 714,940 712,942 706,944ZM885,943 882,939 882,936 883,933 885,931 885,943ZM634,950 630,950 627,948 638,936 642,935 646,936 647,939 645,944 634,950ZM562,956 559,954 556,948 555,940 558,938 562,940 567,946 567,950 566,952 562,956ZM586,957 582,956 580,951 581,945 585,940 586,941 590,944 592,951 591,954 586,957ZM652,972 648,971 645,969 645,968 653,958 658,951 669,945 675,940 678,940 679,942 678,945 668,950 663,954 660,958 656,969 652,972ZM867,953 862,953 857,950 855,948 856,945 862,941 868,941 870,944 871,946 869,951 867,953ZM610,954 605,954 602,951 604,946 609,941 612,941 615,941 623,946 623,948 622,950 610,954ZM780,951 777,951 776,950 777,946 782,946 784,948 780,951ZM710,978 700,978 694,960 694,952 696,948 698,948 697,956 698,960 709,970 711,975 710,978ZM728,965 723,965 719,962 718,952 720,948 726,948 730,952 730,960 728,965ZM801,954 797,952 795,950 800,948 805,951 805,952 801,954ZM843,960 840,960 837,958 835,956 835,952 839,950 844,949 847,950 848,952 846,957 843,960ZM538,966 536,966 531,963 531,954 532,953 538,952 543,957 542,963 538,966ZM820,956 818,956 815,954 816,952 820,951 822,952 820,956ZM885,970 882,970 879,969 877,968 876,964 879,960 885,958 885,970ZM612,978 602,978 599,975 600,972 603,969 606,968 620,970 632,963 635,964 638,968 637,970 631,975 627,976 620,976 612,978ZM772,975 768,976 766,970 766,966 771,963 774,964 776,969 776,972 772,975ZM680,978 670,978 670,974 673,969 676,966 680,965 682,966 683,968 680,978ZM562,978 558,978 554,975 555,970 560,967 562,967 567,972 567,975 562,978ZM746,978 736,978 736,974 740,970 746,969 746,972 746,978ZM798,978 788,978 787,975 787,972 792,968 796,969 800,974 800,976 798,978ZM864,978 854,978 851,975 850,972 852,970 856,968 862,968 866,968 867,972 864,978ZM588,978 578,978 577,975 580,972 585,971 589,975 588,978ZM838,978 813,978 816,973 819,971 826,976 837,976 840,978 838,978Z"/>
<path fill="#A0560E" fill-rule="evenodd" d="M627,630 624,631 621,630 620,628 620,626 625,621 632,621 632,626 627,630ZM650,629 646,629 645,627 646,622 648,621 656,621 654,625 650,629ZM674,629 670,628 668,627 668,624 670,621 682,621 683,624 681,626 674,629ZM768,626 764,624 763,621 772,621 772,624 768,626ZM837,629 830,628 828,627 828,624 830,621 837,621 842,626 841,627 837,629ZM880,623 876,623 873,621 883,621 880,623ZM812,634 807,634 802,632 801,628 802,625 806,623 808,624 814,627 815,630 812,634ZM602,633 596,633 594,632 594,630 599,626 604,625 606,626 607,628 605,632 602,633ZM728,634 724,634 714,633 709,630 707,627 710,626 714,627 726,632 728,633 728,634ZM578,638 574,637 572,634 573,632 575,630 580,629 585,630 587,632 585,634 578,638ZM555,642 552,643 549,642 546,639 547,636 552,634 556,635 558,638 555,642ZM788,645 784,646 780,644 779,639 781,636 784,635 789,638 789,642 788,645ZM640,651 636,652 634,651 633,648 637,644 642,641 644,642 645,645 644,648 640,651ZM666,650 662,651 658,650 657,646 659,644 663,641 667,642 669,646 669,648 666,650ZM878,651 874,651 872,646 871,644 873,642 876,642 879,645 879,650 878,651ZM620,652 616,652 614,652 611,650 611,648 615,645 620,644 621,645 623,648 620,652ZM681,651 678,651 676,650 678,648 684,645 687,645 688,646 688,648 686,650 681,651ZM747,650 742,650 740,646 741,645 746,646 748,648 747,650ZM854,654 850,655 846,654 843,651 843,650 848,646 852,646 854,650 854,654ZM597,656 594,657 591,657 588,654 588,652 592,649 599,648 601,650 601,651 597,656ZM826,657 822,656 818,654 817,652 818,650 820,647 825,647 830,648 834,651 833,654 826,657ZM572,659 567,659 565,656 568,652 574,651 576,652 576,654 572,659ZM700,654 698,653 696,651 699,650 702,651 703,652 700,654ZM718,667 716,667 712,665 708,657 709,654 716,653 720,656 722,658 722,663 718,667ZM798,665 795,663 795,662 795,657 800,655 805,657 806,658 804,662 801,664 798,665ZM546,665 543,666 540,664 539,662 540,658 544,656 549,657 549,660 546,665ZM765,671 762,670 761,666 762,661 765,658 768,660 771,664 770,668 765,671ZM654,673 651,673 648,672 646,670 646,668 651,664 656,664 657,666 658,669 654,673ZM612,674 608,674 607,672 607,670 614,667 618,667 622,669 632,668 634,669 634,670 632,672 622,670 612,674ZM672,677 669,676 666,672 668,669 672,667 675,669 676,672 675,675 672,677ZM734,680 730,678 729,675 729,672 734,668 738,667 741,669 741,674 738,678 734,680ZM696,680 692,680 688,678 685,674 686,670 690,668 693,669 697,678 697,680 696,680ZM590,674 586,675 585,674 588,671 591,670 592,672 590,674ZM562,680 560,680 558,680 559,676 564,673 567,672 569,674 567,676 562,680ZM818,688 814,687 814,686 814,681 818,678 825,674 830,673 838,675 850,674 854,675 853,680 849,682 844,683 836,680 831,680 825,682 818,688ZM534,686 531,685 531,679 536,678 537,680 538,682 534,686ZM878,685 874,685 872,684 871,681 873,679 876,679 879,681 879,683 878,685ZM711,689 708,690 705,688 701,684 701,681 705,680 708,681 711,686 711,689ZM609,693 606,694 603,693 602,690 603,687 608,686 610,688 612,690 611,692 609,693ZM630,695 626,695 624,692 626,688 630,686 633,687 634,690 630,695ZM654,696 650,697 646,695 644,692 645,688 650,687 656,690 657,693 654,696ZM582,696 579,696 577,693 580,689 585,688 587,688 587,692 582,696ZM674,695 670,695 668,695 665,693 665,692 668,690 670,690 673,693 674,695ZM560,698 556,698 555,698 555,696 556,693 560,694 560,696 560,698ZM687,702 684,702 681,700 679,698 679,696 684,695 687,696 689,699 688,701 687,702ZM838,713 836,712 833,710 833,706 833,704 836,700 840,699 846,699 848,702 848,705 844,710 838,713ZM534,705 531,705 531,704 531,702 534,700 536,702 534,705ZM866,713 862,712 860,706 862,702 866,700 870,703 873,708 871,711 866,713ZM603,713 598,712 595,710 598,706 604,705 607,706 607,710 603,713ZM628,713 624,711 624,709 626,707 628,707 631,710 632,711 628,713ZM885,722 882,718 880,712 881,711 885,709 885,722ZM648,716 644,716 642,712 645,710 650,710 651,712 651,714 648,716ZM674,721 670,720 667,718 664,716 664,714 668,712 672,714 675,718 674,721ZM813,721 810,721 809,717 812,713 814,712 816,714 816,717 813,721ZM858,737 852,737 850,734 854,727 856,724 860,724 862,727 863,732 862,735 858,737ZM603,731 597,731 593,729 603,726 607,726 609,728 603,731ZM622,728 618,728 618,726 621,726 623,726 622,728ZM584,732 576,733 574,732 574,730 578,728 580,727 589,729 588,730 584,732ZM836,735 832,736 831,735 831,730 832,728 834,728 837,730 837,734 836,735ZM879,743 874,743 873,741 872,738 878,734 882,733 884,735 883,738 879,743ZM633,743 632,744 629,742 630,741 632,741 633,743ZM818,747 814,748 813,748 812,746 812,744 814,743 818,743 819,746 818,747ZM585,756 582,756 578,753 578,752 579,750 585,748 594,748 600,745 604,744 611,746 613,748 612,751 610,752 598,749 594,749 588,755 585,756ZM861,761 858,762 856,760 857,759 860,758 862,759 861,761ZM834,768 828,768 827,765 831,761 837,760 838,761 839,764 837,766 834,768ZM615,764 613,764 615,763 615,764ZM885,779 880,774 878,770 877,766 879,764 882,764 885,767 885,779ZM564,779 560,779 556,776 556,770 560,766 562,766 567,771 567,776 564,779ZM591,776 585,776 583,774 583,770 586,765 592,766 597,771 595,774 591,776ZM536,794 532,794 532,792 534,785 537,781 540,783 541,788 539,792 536,794ZM630,785 630,782 631,783 630,785ZM654,788 651,788 650,786 651,784 654,783 656,784 654,788ZM872,802 868,801 867,800 864,790 855,783 856,782 861,784 871,795 873,800 872,802ZM604,795 602,794 601,790 603,786 606,785 609,788 609,790 607,794 604,795ZM837,793 826,791 819,793 817,792 817,790 819,789 826,790 836,786 841,786 842,788 841,789 837,793ZM580,801 578,801 573,800 570,796 570,795 574,792 578,791 580,792 583,796 582,800 580,801ZM831,816 826,817 823,816 823,814 831,811 842,804 846,805 850,808 850,810 848,811 837,814 831,816ZM648,810 646,808 648,808 649,808 648,810ZM546,816 542,816 541,814 541,813 545,810 549,810 549,814 546,816ZM884,824 880,822 879,819 879,813 880,810 884,811 885,813 885,823 884,824ZM861,830 856,830 853,828 854,822 855,818 856,817 860,819 862,824 862,828 861,830ZM561,833 557,831 556,826 557,824 561,822 566,822 568,824 569,826 567,830 561,833ZM531,838 531,824 533,834 531,838ZM788,831 786,832 784,831 786,828 788,827 788,830 788,831ZM838,839 834,839 830,837 828,832 831,829 836,828 842,831 843,832 843,836 838,839ZM813,842 810,842 807,840 807,836 808,833 812,833 814,836 815,840 813,842ZM586,848 578,848 576,844 577,842 580,839 586,840 591,844 591,846 586,848ZM546,854 543,854 540,851 538,844 540,842 548,841 551,843 550,849 549,852 546,854ZM854,857 848,856 846,854 847,850 849,849 855,847 858,849 858,852 856,855 854,857ZM831,861 826,861 823,860 821,856 822,854 826,852 834,855 835,858 831,861ZM567,869 562,868 560,866 560,862 562,858 568,856 572,858 572,862 570,867 567,869ZM542,884 538,884 537,883 535,873 531,870 531,865 535,867 543,878 544,880 542,884ZM588,881 585,880 583,876 583,873 585,870 592,867 596,868 599,870 600,872 599,874 592,879 588,881ZM867,877 864,876 861,873 862,869 866,867 868,867 870,870 869,874 867,877ZM843,884 838,882 836,879 838,874 843,873 848,874 849,878 847,882 843,884ZM820,884 818,883 815,880 814,878 814,875 818,875 822,879 823,882 820,884ZM792,885 788,884 786,880 786,878 788,876 792,876 795,879 795,883 792,885ZM561,897 558,895 556,888 556,885 560,883 564,885 567,890 566,895 561,897ZM610,905 605,903 602,898 604,896 608,892 614,891 618,894 619,898 615,903 610,905ZM870,894 868,894 868,892 870,890 871,891 872,892 870,894ZM588,906 584,907 580,903 581,897 582,895 585,893 590,895 592,898 591,903 588,906ZM852,905 848,903 847,900 849,897 854,896 857,897 858,898 855,903 852,905ZM808,907 806,906 803,903 802,898 804,897 807,897 810,900 810,904 808,907ZM831,911 827,909 826,904 826,901 830,899 834,901 836,904 834,908 831,911ZM546,911 541,910 534,909 531,906 531,903 532,901 534,902 546,911ZM638,910 636,909 637,906 638,904 639,904 639,908 638,910ZM790,928 788,928 785,924 785,915 782,906 783,904 786,905 787,908 788,915 792,924 790,928ZM614,927 606,928 596,926 596,924 600,921 608,919 621,921 633,914 636,910 636,918 633,923 628,925 621,923 614,927ZM872,924 867,924 864,921 866,918 870,916 873,916 874,918 873,921 872,924ZM663,927 658,928 656,926 656,921 658,918 662,918 665,921 666,924 663,927ZM766,935 764,933 760,927 759,920 760,917 765,919 769,926 769,932 766,935ZM692,923 688,922 689,920 692,919 693,920 693,921 692,923ZM813,927 810,928 808,927 808,924 810,922 813,924 813,927ZM848,930 842,930 841,928 841,927 848,922 852,922 852,926 848,930ZM746,944 738,939 735,935 734,928 736,926 740,926 741,928 746,940 746,944ZM538,938 531,936 531,931 538,930 542,932 543,933 543,935 538,938ZM885,941 883,939 883,936 885,932 885,941ZM711,941 706,941 706,939 708,935 711,934 712,935 713,938 711,941ZM634,948 632,948 631,946 636,939 640,936 644,938 645,940 643,944 634,948ZM564,953 561,954 558,951 556,945 558,940 561,940 565,945 566,950 564,953ZM614,953 608,954 603,951 605,946 610,942 615,942 621,946 620,950 614,953ZM867,952 862,952 858,950 857,948 857,945 862,941 866,941 868,942 870,946 869,950 867,952ZM586,956 584,955 581,951 582,946 585,943 588,944 591,950 590,954 586,956ZM752,958 750,956 747,946 748,945 752,948 753,951 753,956 752,958ZM728,963 723,964 719,960 719,952 720,950 722,949 726,949 729,953 730,958 728,963ZM843,959 840,959 837,956 837,952 839,951 843,950 845,951 846,954 843,959ZM538,965 536,965 531,962 531,955 532,954 537,953 542,957 542,962 538,965ZM652,971 650,970 648,969 648,966 654,960 657,959 656,966 655,969 652,971ZM885,968 880,968 878,964 880,962 885,959 885,968ZM609,978 605,978 602,976 601,974 603,970 608,969 620,972 628,965 632,964 634,966 636,968 635,970 630,974 626,975 620,974 609,978ZM708,978 702,978 699,970 699,966 704,967 708,970 709,975 708,978ZM771,974 768,973 767,969 768,967 771,965 773,966 774,969 774,972 771,974ZM678,978 671,978 671,976 674,970 676,967 680,967 681,968 681,970 678,978ZM562,977 560,977 556,975 556,971 560,969 562,969 565,972 565,975 562,977ZM862,978 856,978 852,975 852,972 857,969 864,969 866,970 866,974 862,978ZM796,978 789,978 788,975 789,972 794,969 796,970 799,975 796,978ZM744,978 738,978 737,975 739,972 742,971 744,971 745,975 744,978ZM585,978 581,978 580,975 582,973 585,974 586,976 585,978ZM820,978 815,978 817,975 819,974 822,975 822,976 820,978Z"/>
<path fill="#7A3E08" fill-rule="evenodd" d="M624,630 621,628 622,624 627,621 630,621 632,622 631,626 628,628 624,630ZM650,627 646,626 647,622 649,621 655,621 654,624 650,627ZM676,627 670,627 669,624 672,621 680,621 681,624 676,627ZM837,627 831,627 830,626 830,624 832,622 836,622 838,624 839,626 837,627ZM603,632 598,633 596,632 596,630 598,627 603,626 606,627 606,628 603,632ZM810,633 806,633 803,632 802,628 804,625 808,625 813,627 814,630 810,633ZM580,636 578,637 575,636 574,634 574,632 579,630 584,631 585,632 585,633 580,636ZM552,642 548,640 548,638 550,635 554,635 556,636 557,639 555,641 552,642ZM786,644 783,644 781,642 780,639 782,637 784,636 788,638 788,642 786,644ZM639,651 636,651 634,648 638,644 642,642 644,644 644,646 642,650 639,651ZM664,650 660,650 658,648 659,645 663,642 666,643 668,645 667,648 664,650ZM618,651 615,651 613,650 614,646 618,645 621,646 621,648 618,651ZM876,648 874,646 874,644 876,645 876,648ZM828,656 822,655 820,654 819,651 820,649 823,648 830,650 832,652 828,656ZM852,653 850,654 848,653 845,651 846,650 848,648 850,647 853,650 852,653ZM596,656 591,656 590,652 593,650 598,649 600,651 599,652 596,656ZM572,658 568,658 566,656 569,652 573,652 575,654 572,658ZM717,666 714,666 711,662 710,657 711,655 717,654 721,657 721,663 720,665 717,666ZM546,663 543,664 542,664 540,660 543,658 548,658 548,660 546,663ZM801,662 797,662 797,658 800,657 802,658 803,660 801,662ZM766,668 764,668 763,666 764,662 765,661 768,662 769,664 768,667 766,668ZM652,672 649,672 647,669 649,666 652,664 656,666 657,669 656,671 652,672ZM614,672 609,672 609,670 614,668 616,668 619,669 618,670 614,672ZM672,676 669,675 668,672 669,669 672,668 674,669 675,672 672,676ZM735,678 732,678 730,677 730,672 734,669 738,668 740,670 740,674 738,676 735,678ZM693,680 689,678 686,675 686,672 690,669 693,670 696,675 696,678 693,680ZM564,677 562,676 565,675 564,677ZM819,685 816,684 816,682 818,680 823,676 828,675 834,676 833,678 826,680 819,685ZM849,681 844,681 838,678 841,676 849,675 851,676 852,678 849,681ZM532,684 531,683 531,680 536,681 536,683 532,684ZM708,688 704,686 704,682 706,682 708,682 710,686 709,687 708,688ZM608,693 604,693 603,690 606,687 609,688 610,690 608,693ZM630,693 627,694 625,692 627,688 630,687 633,688 633,690 630,693ZM651,696 648,695 646,693 645,690 646,688 651,688 656,692 655,694 651,696ZM582,695 580,694 579,692 582,689 585,689 586,692 585,693 582,695ZM669,693 669,691 670,693 669,693ZM686,701 682,699 682,698 684,696 686,698 687,699 686,701ZM840,712 837,712 836,711 834,708 834,705 836,702 838,700 844,699 847,702 847,705 844,709 840,712ZM867,711 864,711 862,708 862,704 866,702 868,703 871,706 870,710 867,711ZM604,711 600,712 597,710 600,706 603,706 606,708 604,711ZM885,720 882,717 881,714 882,712 885,711 885,720ZM646,714 645,712 648,712 648,713 646,714ZM672,719 667,717 666,716 668,714 672,716 673,717 672,719ZM813,718 811,717 813,716 813,718ZM860,735 854,736 851,734 854,728 858,725 861,726 862,730 862,734 860,735ZM603,729 599,729 603,727 603,729ZM582,731 579,732 577,730 579,729 584,729 583,730 582,731ZM878,743 874,742 874,738 877,735 880,734 882,735 882,738 880,741 878,743ZM609,750 601,748 600,747 603,745 608,746 611,747 611,748 609,750ZM586,755 582,754 580,752 585,749 590,750 590,752 586,755ZM836,767 831,768 829,766 829,765 831,762 836,761 837,762 837,764 836,767ZM592,774 588,775 584,774 583,771 585,768 588,766 593,768 595,771 595,772 592,774ZM884,774 880,772 879,770 879,767 880,766 884,768 885,772 884,774ZM564,777 560,778 557,776 557,771 560,767 562,767 566,771 566,774 564,777ZM537,791 536,792 534,790 535,786 537,784 539,784 539,788 537,791ZM606,792 604,793 603,792 603,789 604,787 606,787 607,789 606,792ZM837,791 831,790 832,789 834,788 838,787 839,789 837,791ZM579,800 573,798 572,796 574,794 578,792 580,794 581,798 579,800ZM834,813 832,813 840,806 844,805 848,808 847,810 844,811 834,813ZM884,821 882,821 880,818 880,814 882,813 884,813 885,816 885,819 884,821ZM858,830 855,828 854,826 854,822 856,819 860,820 862,825 861,828 858,830ZM562,831 560,831 558,828 558,825 561,823 565,824 567,825 566,828 562,831ZM837,839 832,838 829,836 829,832 831,830 837,829 842,832 842,836 837,839ZM813,840 812,841 809,840 808,838 808,835 810,834 813,836 814,838 813,840ZM546,852 543,852 540,849 539,844 542,842 548,842 550,844 549,849 546,852ZM586,846 582,847 579,846 578,843 580,841 585,841 588,844 586,846ZM855,855 852,856 849,856 847,854 847,852 850,849 855,848 857,850 857,854 855,855ZM831,860 828,861 824,860 822,856 824,854 828,853 832,855 833,858 831,860ZM568,867 564,868 561,864 562,860 566,857 568,857 571,860 571,864 568,867ZM591,879 588,880 586,879 584,876 584,873 588,869 592,868 596,869 597,870 598,873 596,876 591,879ZM867,875 864,875 863,873 863,870 866,868 869,870 869,873 867,875ZM844,883 842,883 838,880 837,878 840,874 844,874 848,876 848,880 844,883ZM540,882 538,880 538,877 540,877 541,879 540,882ZM792,884 789,883 788,880 787,879 789,877 792,877 794,879 794,882 792,884ZM819,881 818,880 818,878 819,879 819,881ZM562,896 560,895 557,890 557,886 560,884 564,886 566,890 566,893 562,896ZM614,903 608,904 604,900 605,896 609,892 614,892 618,896 617,900 614,903ZM585,906 582,904 581,898 584,895 586,894 590,897 591,900 590,904 585,906ZM852,903 849,902 848,900 850,897 854,897 856,898 856,900 852,903ZM807,905 804,902 804,899 806,898 807,898 809,902 808,904 807,905ZM831,909 828,908 827,904 827,902 830,900 833,902 835,904 834,908 831,909ZM632,923 627,923 625,921 628,918 633,916 634,920 632,923ZM870,923 867,922 866,921 867,919 870,917 872,917 872,920 872,922 870,923ZM660,927 657,926 656,924 657,921 660,919 663,920 664,924 663,926 660,927ZM766,933 764,931 761,927 760,921 762,919 765,920 768,926 768,930 766,933ZM789,926 788,926 786,923 786,920 788,918 790,922 789,926ZM610,927 604,927 600,926 599,924 602,921 608,920 612,920 616,922 614,926 610,927ZM846,929 844,928 844,927 846,925 849,924 850,926 849,927 846,929ZM742,940 740,939 736,935 735,930 736,927 740,928 741,930 743,936 742,940ZM538,936 534,936 531,933 535,932 538,932 541,933 541,934 538,936ZM885,940 884,936 885,934 885,940ZM639,945 636,946 634,945 638,939 642,938 644,940 643,942 639,945ZM866,951 860,950 858,946 860,944 864,942 867,942 869,945 868,950 866,951ZM564,951 561,952 559,950 558,945 560,942 562,943 564,946 565,948 564,951ZM612,953 606,952 604,950 608,944 610,942 614,942 618,945 619,948 616,951 612,953ZM586,954 584,953 583,951 583,948 585,945 588,946 590,950 589,952 586,954ZM724,963 721,962 719,957 720,951 723,949 727,951 729,956 728,962 724,963ZM842,957 840,957 838,954 840,952 843,952 844,954 842,957ZM540,963 537,964 532,962 531,961 531,956 534,954 538,954 541,958 540,963ZM885,966 882,967 880,966 880,963 882,961 885,961 885,966ZM651,969 650,968 650,966 654,963 655,964 654,968 651,969ZM628,974 624,973 623,972 624,970 628,966 633,966 634,969 634,970 628,974ZM771,972 770,971 769,969 771,967 773,969 771,972ZM676,978 672,978 672,975 674,970 678,968 680,969 680,972 678,977 676,978ZM705,978 702,977 701,974 700,970 702,968 706,970 708,974 708,976 705,978ZM561,975 559,975 558,974 560,971 561,970 563,972 563,974 561,975ZM610,977 608,977 604,976 603,975 603,972 608,970 614,972 615,974 614,975 610,977ZM795,978 791,978 790,976 789,974 792,971 795,971 797,974 797,976 795,978ZM861,978 857,978 855,976 853,974 854,972 860,969 864,970 865,972 864,975 861,978ZM741,977 740,975 741,973 743,975 741,977Z"/>
<path fill="#DCD9EE" fill-rule="evenodd" d="M558,655 556,655 550,652 536,655 534,655 533,652 533,648 534,642 536,638 538,635 546,644 549,647 552,647 558,644 564,636 562,633 555,630 540,633 540,628 544,621 553,621 561,624 569,621 601,621 591,627 578,626 571,628 566,634 566,636 574,641 578,641 590,636 602,636 614,631 621,636 638,626 639,627 642,632 641,636 630,645 627,644 620,639 608,645 597,645 584,650 574,647 572,647 564,650 558,655ZM616,624 614,625 607,621 621,621 616,624ZM639,623 637,621 643,621 639,623ZM730,625 723,625 713,621 735,621 730,625ZM794,632 786,631 780,629 779,626 780,621 800,621 795,631 794,632ZM820,623 818,623 812,621 824,621 820,623ZM776,686 768,685 765,681 767,676 777,669 776,664 772,657 759,639 756,638 746,639 742,638 740,634 739,632 741,627 747,622 750,622 753,623 758,630 760,632 770,632 772,633 775,645 778,648 788,654 788,658 788,665 782,672 779,682 776,686ZM732,693 729,694 724,692 717,685 711,677 700,675 693,664 682,668 674,663 663,666 657,661 654,660 642,664 634,663 624,664 615,663 602,667 597,666 594,663 600,657 606,654 616,656 627,652 636,656 640,655 651,646 648,638 648,634 660,626 663,627 668,633 682,630 687,631 690,635 698,632 702,633 726,642 735,651 741,658 742,659 753,655 757,658 757,663 756,670 750,684 747,687 732,693ZM868,670 864,670 859,664 860,646 858,644 853,638 852,634 856,629 861,626 867,626 874,631 885,626 885,647 882,640 874,633 870,635 865,642 865,646 872,657 874,663 873,666 868,670ZM807,651 798,651 794,648 794,640 796,636 813,638 816,637 822,632 825,632 842,633 849,636 848,638 845,642 838,646 834,646 819,643 816,644 810,650 807,651ZM735,684 741,680 744,675 744,668 741,661 726,668 724,656 722,652 710,649 697,644 690,637 681,642 675,644 672,643 668,637 664,636 652,645 651,646 653,650 656,652 658,654 669,653 676,657 688,654 694,660 705,659 714,670 718,670 724,668 728,682 730,684 735,684ZM582,669 576,670 570,666 570,664 573,662 582,656 587,658 591,663 582,669ZM801,725 798,726 795,725 793,723 792,720 798,708 800,702 800,688 797,678 797,674 804,668 812,660 814,659 828,661 840,656 844,657 851,662 853,664 852,666 846,670 840,672 830,669 826,669 813,676 808,680 806,682 805,687 810,696 811,702 804,714 801,725ZM546,698 544,698 540,695 537,692 546,678 545,672 555,659 558,658 565,663 566,666 550,678 553,687 551,692 546,698ZM536,674 531,675 531,659 534,662 539,670 538,672 536,674ZM885,679 881,674 879,669 880,666 885,664 885,679ZM618,689 612,684 609,681 609,680 620,675 624,675 632,678 640,673 650,676 662,674 664,676 667,681 667,684 662,688 658,688 650,684 639,686 632,681 618,689ZM596,689 594,690 589,684 588,681 596,676 598,675 602,676 606,680 596,689ZM711,707 708,706 698,703 688,692 676,690 673,686 672,682 673,681 680,676 682,677 688,682 698,687 710,698 712,702 711,707ZM568,710 564,709 561,706 562,704 568,696 563,688 563,686 568,680 576,678 579,680 581,682 571,694 571,696 575,700 576,704 573,707 568,710ZM822,737 818,737 808,736 807,735 806,732 807,730 817,724 820,720 824,705 822,694 824,688 828,685 832,683 837,684 848,688 860,681 862,681 865,686 867,692 865,694 858,700 855,701 854,701 848,695 844,694 837,697 828,704 828,706 832,716 832,718 827,726 824,735 822,737ZM885,706 879,706 876,705 871,698 871,693 879,690 885,691 885,706ZM531,695 531,691 532,693 531,695ZM592,705 587,705 584,702 586,698 594,690 596,690 603,699 600,702 592,705ZM778,708 775,706 775,702 778,694 780,693 783,692 787,694 786,699 783,705 778,708ZM566,731 561,731 559,728 561,723 567,718 570,717 578,718 590,714 602,716 604,716 610,712 613,710 613,708 608,700 608,699 616,694 620,695 623,699 623,702 617,710 622,717 622,718 620,720 615,722 603,722 591,725 578,723 566,731ZM687,725 684,725 679,714 675,711 668,709 657,709 650,705 638,708 631,704 630,700 630,699 634,695 639,693 642,694 650,701 662,697 675,701 681,706 688,708 691,711 691,720 690,723 687,725ZM759,708 753,708 750,705 752,698 754,694 758,694 760,696 764,702 764,705 759,708ZM543,719 540,718 537,716 537,714 546,701 553,705 554,708 543,719ZM738,717 734,717 729,712 727,708 729,705 734,704 739,706 743,710 743,714 738,717ZM846,730 843,730 842,729 838,720 841,716 854,706 856,709 859,717 857,720 846,730ZM710,731 704,731 702,728 706,720 712,713 716,716 716,723 714,728 710,731ZM873,732 870,733 867,732 864,722 864,718 866,717 873,714 878,717 881,724 879,729 873,732ZM639,736 634,734 632,732 628,722 628,718 632,717 636,717 643,722 644,724 642,732 640,735 639,736ZM670,734 664,734 658,731 651,724 651,722 654,719 657,718 663,720 673,729 673,732 670,734ZM777,728 774,727 770,724 773,722 777,722 779,724 777,728ZM756,736 753,736 750,734 749,729 750,726 756,723 765,724 766,726 765,728 756,736ZM531,760 531,736 542,726 543,728 543,730 537,741 534,753 531,760ZM729,744 726,744 724,742 724,735 726,731 732,730 735,732 736,736 734,741 729,744ZM585,746 573,745 567,742 567,741 586,735 602,735 612,732 620,733 622,735 623,736 621,742 618,744 603,741 585,746ZM774,755 771,755 770,754 769,750 777,738 780,736 783,740 784,744 780,750 774,755ZM819,766 816,765 808,759 801,759 799,758 795,750 794,747 796,744 798,742 801,742 808,753 812,755 819,753 828,745 832,743 842,742 850,742 864,739 866,739 868,741 871,750 870,752 862,753 848,752 834,755 828,758 819,766ZM556,746 555,746 556,744 560,742 556,746ZM630,761 626,761 620,758 619,753 621,749 624,748 638,750 644,743 646,742 658,746 665,752 664,754 660,756 644,753 639,753 630,761ZM885,760 876,757 872,752 885,743 885,760ZM712,756 708,756 704,753 701,747 702,744 706,746 714,752 715,754 712,756ZM752,756 746,756 745,754 750,747 753,745 754,746 758,748 759,752 756,754 752,756ZM681,752 678,752 678,750 679,747 681,746 682,747 683,748 681,752ZM603,767 597,766 590,762 589,759 592,755 596,753 600,752 604,753 608,756 609,759 608,762 603,767ZM531,817 531,801 540,797 544,794 545,790 546,784 541,776 541,770 544,762 550,757 554,757 555,760 553,774 553,778 555,782 560,783 566,782 571,777 571,772 566,762 567,758 573,756 580,759 583,762 582,764 578,772 578,776 582,779 596,778 598,779 599,783 595,796 597,800 602,803 608,800 614,794 614,789 610,778 610,774 614,772 618,770 621,770 624,772 624,778 620,792 619,801 616,808 614,813 610,813 602,808 592,810 588,808 587,806 589,800 589,796 584,789 578,786 554,794 531,817ZM694,774 692,775 688,774 686,770 687,765 690,765 695,768 696,771 694,774ZM802,847 792,846 788,843 789,840 796,828 797,824 796,813 801,801 802,796 797,778 795,777 786,775 781,772 779,770 779,768 783,766 789,765 794,766 795,768 799,776 808,779 811,782 804,810 805,824 802,832 804,846 802,847ZM832,783 826,784 821,783 818,780 818,777 822,773 836,772 846,766 850,766 856,771 846,779 832,783ZM885,806 881,802 875,792 866,782 857,772 857,771 866,766 868,766 872,768 885,788 885,806ZM645,782 640,783 637,778 636,772 639,768 644,768 648,768 654,771 655,772 645,782ZM662,806 657,804 652,798 654,795 665,786 665,782 659,772 662,770 664,769 669,771 671,774 671,778 669,786 667,798 664,803 662,806ZM759,782 756,782 753,781 752,778 752,776 755,772 759,771 765,772 766,774 765,777 759,782ZM712,783 711,780 711,778 712,777 714,778 714,780 712,783ZM730,823 729,823 728,820 728,810 732,790 734,788 735,787 736,788 737,790 735,804 736,818 734,820 730,823ZM784,801 782,802 778,801 773,796 772,792 776,787 780,786 785,790 787,796 786,800 784,801ZM639,804 634,804 632,801 631,798 632,795 634,792 640,789 644,791 647,796 646,800 639,804ZM682,821 678,820 676,819 675,816 682,806 682,794 684,790 686,788 688,788 692,792 692,796 687,807 686,818 682,821ZM874,833 870,833 868,832 865,822 858,808 852,804 843,800 840,800 831,808 824,810 818,807 816,802 819,800 824,797 830,796 838,797 848,790 850,789 855,790 860,795 862,804 871,808 874,812 877,828 877,831 874,833ZM704,827 700,826 699,825 700,822 705,812 706,797 710,793 711,793 713,800 713,807 708,822 704,827ZM759,812 754,812 751,806 752,799 753,797 756,796 760,797 763,801 762,808 759,812ZM570,818 561,817 557,814 557,808 562,803 566,802 570,803 575,806 577,808 577,812 576,814 570,818ZM656,827 632,824 628,823 627,820 630,816 634,813 638,813 645,818 648,819 658,815 662,815 664,818 663,820 660,825 656,827ZM776,830 774,830 771,827 769,824 769,819 773,814 780,813 783,815 784,819 781,825 776,830ZM831,878 828,878 825,876 810,862 807,856 804,848 816,848 818,846 820,838 812,826 812,825 814,822 820,821 830,821 838,816 848,815 850,818 851,820 850,826 848,830 831,825 828,828 826,831 825,834 826,837 832,841 840,841 844,838 849,832 862,836 864,838 864,842 861,844 849,845 842,851 838,853 826,849 819,848 817,855 819,861 822,863 830,865 836,863 842,859 856,860 860,857 864,848 866,847 870,849 873,852 874,855 874,860 872,862 861,864 855,872 854,873 844,870 838,870 831,878ZM549,837 542,838 538,836 536,832 536,828 538,822 546,821 549,821 552,824 553,832 552,836 549,837ZM753,839 750,840 748,839 745,831 745,825 747,823 750,822 753,822 756,828 755,836 753,839ZM598,918 592,919 586,919 570,914 566,912 563,909 562,904 571,894 571,891 569,886 562,878 561,877 552,879 549,877 543,870 541,864 542,861 550,856 553,854 556,840 570,834 578,825 582,823 588,823 600,828 608,830 610,829 615,826 616,825 618,826 616,831 610,833 603,838 600,840 596,840 584,835 576,835 573,838 570,849 558,856 556,860 556,864 559,870 561,873 564,874 575,868 575,856 577,854 579,852 588,852 600,856 614,853 618,854 619,861 616,864 606,866 597,863 594,864 581,868 578,872 583,886 577,894 577,898 579,909 582,913 586,912 597,903 600,903 608,907 612,907 619,903 622,898 623,896 621,892 614,888 609,889 598,896 596,896 589,890 588,886 596,880 603,877 614,881 622,880 626,882 627,885 629,891 631,904 630,909 629,912 625,915 621,917 609,915 598,918ZM726,843 721,842 718,837 720,831 723,828 726,828 728,831 728,840 728,843 726,843ZM885,848 883,843 882,837 885,833 885,848ZM675,845 666,845 663,843 663,842 669,837 676,836 680,837 681,840 679,843 675,845ZM770,851 766,849 765,846 766,843 771,838 776,837 780,842 780,844 777,848 770,851ZM648,849 640,850 628,848 624,846 622,843 624,841 626,840 647,840 651,842 655,844 652,848 648,849ZM537,860 531,860 531,842 534,844 536,849 538,856 537,860ZM717,870 714,871 711,868 707,858 700,848 702,846 708,849 720,864 721,867 720,868 717,870ZM740,857 736,858 734,855 732,849 734,847 741,847 744,849 743,854 740,857ZM692,874 678,866 677,864 678,861 684,858 687,858 690,860 692,867 692,873 692,874ZM760,873 758,873 755,872 753,866 756,860 760,857 764,859 765,866 764,870 760,873ZM824,924 819,922 814,915 814,902 812,894 808,892 801,890 800,888 799,878 798,873 794,871 782,873 779,872 778,867 782,861 786,858 792,860 800,868 806,872 814,887 824,892 822,906 825,912 830,917 832,916 842,906 852,910 855,908 864,901 874,900 877,898 879,894 880,890 873,882 873,876 875,870 878,867 882,867 885,868 885,877 882,888 882,890 885,891 885,900 880,902 874,909 862,915 860,916 852,916 840,921 836,921 831,920 824,924ZM666,871 663,871 659,870 653,867 653,866 658,860 664,860 670,864 670,867 666,871ZM639,875 632,874 628,872 626,868 627,866 630,864 638,863 644,864 649,867 645,873 639,875ZM740,885 736,885 734,881 731,874 732,871 734,870 736,871 742,878 743,882 742,884 740,885ZM696,885 693,886 692,884 693,874 703,880 703,882 701,884 696,885ZM842,899 838,899 827,892 827,890 831,884 846,887 849,885 855,875 863,880 865,885 861,891 858,892 849,892 842,899ZM531,886 531,876 532,880 531,886ZM672,894 666,892 663,888 663,884 666,880 669,880 672,881 681,888 682,890 681,891 672,894ZM800,926 796,924 793,918 792,914 792,904 791,902 778,895 773,888 773,884 776,880 778,880 788,888 796,892 797,902 804,910 805,915 804,921 800,926ZM650,899 645,898 640,894 640,890 642,886 645,884 648,884 651,885 654,890 653,894 650,899ZM549,905 542,902 538,898 537,896 538,892 540,890 548,886 550,887 552,889 556,898 555,902 554,903 549,905ZM717,900 714,900 712,897 711,890 711,888 712,886 719,888 724,892 723,897 717,900ZM813,947 792,941 780,941 775,939 773,936 773,927 766,914 764,910 758,907 754,902 752,894 754,890 759,889 762,891 765,905 767,906 776,907 779,910 781,915 781,927 784,932 788,935 792,936 800,931 807,935 818,935 821,938 823,940 823,942 818,945 813,947ZM699,911 690,911 686,909 687,903 690,897 694,900 700,906 702,909 699,911ZM738,918 732,919 730,916 730,912 731,906 733,903 735,902 739,903 741,909 742,915 741,917 738,918ZM596,971 591,970 586,964 588,962 596,955 598,954 604,957 608,957 622,953 626,953 632,957 639,950 650,945 651,942 652,934 666,931 670,928 671,924 668,918 663,913 658,912 656,913 653,916 650,930 645,931 638,930 637,928 640,917 646,909 651,907 657,908 666,906 670,907 681,912 682,915 680,921 671,938 666,942 655,946 651,957 645,963 642,964 639,963 632,957 624,964 620,967 615,968 604,965 596,971ZM692,944 688,944 686,942 685,938 686,933 689,930 701,924 704,918 702,910 706,909 710,909 713,915 713,921 705,929 699,939 692,944ZM560,932 554,933 543,927 531,926 531,913 555,920 558,923 561,928 561,930 560,932ZM858,966 850,967 847,966 847,963 849,957 850,954 854,952 866,956 870,956 872,951 873,944 873,940 872,938 868,937 866,937 850,943 834,947 831,947 828,945 825,942 825,940 834,935 848,935 856,927 860,926 870,930 873,930 876,927 879,916 882,914 885,915 885,929 879,932 878,936 879,939 885,946 885,954 873,960 868,963 858,966ZM764,978 749,978 750,974 751,969 760,963 760,962 758,946 756,944 749,938 746,932 744,921 746,918 752,918 754,920 758,926 761,939 768,946 770,951 770,957 762,963 761,964 764,978ZM735,968 732,968 732,956 730,949 728,946 721,944 719,940 719,930 723,926 726,926 728,927 734,940 742,948 744,952 745,958 744,963 741,965 735,968ZM598,948 597,948 594,946 590,939 591,934 596,931 600,930 610,932 622,928 635,930 633,938 627,943 622,943 614,938 610,938 598,948ZM576,970 573,970 570,969 566,964 565,962 570,952 571,950 563,932 572,929 578,931 580,936 580,940 576,951 583,963 583,964 576,970ZM550,978 543,978 538,975 531,977 531,966 537,970 540,970 544,966 546,962 544,956 540,950 536,949 531,951 531,940 538,942 548,940 550,942 552,944 558,960 557,963 550,972 550,978ZM730,978 715,978 712,969 705,963 702,958 701,954 704,950 708,947 714,947 715,950 716,960 718,964 723,968 732,969 730,978ZM666,978 630,978 640,973 644,973 650,976 654,975 658,971 662,962 666,957 678,951 686,949 687,954 686,958 674,965 669,970 666,978ZM807,977 806,977 804,975 800,966 796,963 784,969 782,970 778,963 778,958 782,956 788,954 792,956 798,961 807,959 812,960 814,963 815,966 812,972 807,977ZM837,972 831,973 826,971 822,966 823,962 828,957 831,958 834,959 841,968 840,970 837,972ZM696,978 682,978 686,970 687,968 690,966 693,968 696,972 697,978 696,978ZM882,978 867,978 870,972 873,970 885,975 885,977 882,978ZM783,978 774,978 780,974 782,974 784,978 783,978Z"/>
<path fill="#AFA3D0" fill-rule="evenodd" d="M566,632 555,630 543,631 542,627 546,621 551,621 556,624 561,624 567,623 570,621 600,621 590,626 579,625 574,626 566,632ZM615,624 612,624 609,621 620,621 615,624ZM729,624 722,624 715,621 734,621 729,624ZM794,631 789,631 782,628 780,626 781,621 798,621 796,627 794,631ZM819,623 813,621 822,621 819,623ZM750,638 744,637 742,636 741,633 742,628 748,624 753,625 756,633 754,636 750,638ZM654,642 651,643 650,641 648,638 649,634 657,628 662,627 665,632 665,634 654,642ZM630,644 626,642 623,638 634,629 638,628 639,629 641,633 640,636 636,640 630,644ZM862,643 861,643 858,640 856,638 855,634 858,630 864,627 868,628 870,632 862,643ZM885,644 878,633 879,630 885,627 885,644ZM680,642 675,643 672,642 669,638 669,634 678,631 682,630 685,632 687,636 685,639 680,642ZM558,653 555,652 553,650 566,638 574,643 590,637 602,637 612,632 615,633 618,636 617,639 608,644 597,644 584,649 573,645 558,653ZM808,650 801,651 795,648 794,644 796,638 800,637 814,639 822,634 826,633 842,634 844,635 846,638 843,642 837,645 818,641 808,650ZM730,665 728,666 726,664 724,654 722,651 711,649 698,642 694,639 694,636 698,634 702,634 725,642 735,652 739,657 739,660 730,665ZM783,668 780,668 778,666 765,645 761,638 763,634 768,634 771,634 773,644 775,646 786,654 787,657 787,662 786,665 783,668ZM543,653 537,654 534,652 534,645 537,639 540,640 550,650 543,653ZM686,666 681,667 675,662 666,665 663,665 656,659 642,663 634,662 624,663 615,662 603,667 599,666 596,663 599,658 604,655 608,654 616,657 627,653 634,657 638,657 651,649 657,655 669,654 676,658 686,655 689,656 692,658 693,662 686,666ZM867,668 864,667 861,663 860,657 862,649 864,649 867,652 871,660 871,664 867,668ZM734,690 729,691 720,687 711,676 704,676 700,675 696,668 695,663 696,662 699,660 704,659 706,661 712,671 714,671 723,670 727,684 730,686 734,686 740,683 745,676 744,660 750,657 754,657 756,662 756,668 754,673 750,681 746,686 734,690ZM579,669 573,668 572,664 579,658 582,657 585,658 588,660 589,663 585,667 579,669ZM804,681 801,681 799,678 799,675 813,660 818,660 828,662 836,658 840,657 846,659 851,663 851,664 850,668 846,670 838,671 830,668 826,668 809,676 804,681ZM554,674 549,675 547,674 548,670 555,661 558,659 560,660 563,663 564,666 562,669 554,674ZM532,674 531,674 531,661 534,663 537,669 537,672 532,674ZM885,677 882,674 881,670 882,668 885,666 885,677ZM776,684 769,684 767,682 767,680 770,675 777,672 778,674 779,678 777,682 776,684ZM662,687 658,687 650,683 639,685 635,682 633,680 636,676 640,674 650,677 662,675 665,678 667,682 665,686 662,687ZM596,687 591,685 590,681 596,676 598,676 602,677 604,680 604,681 596,687ZM620,688 616,687 614,685 611,682 611,680 618,675 622,675 626,676 629,680 628,681 620,688ZM708,704 704,703 698,701 692,693 688,691 680,690 676,689 673,684 674,681 678,677 681,677 682,677 688,683 698,688 708,698 709,700 708,704ZM572,692 568,693 567,692 564,688 564,686 566,682 570,680 574,679 578,679 579,681 579,684 572,692ZM544,696 540,693 539,690 543,685 548,681 551,684 552,688 548,695 544,696ZM830,701 826,702 825,701 823,694 824,688 830,685 836,684 848,689 858,683 861,683 863,684 865,687 866,690 865,693 856,699 854,699 848,694 844,693 830,701ZM884,705 879,706 876,704 872,698 872,694 873,693 879,691 885,692 885,705 884,705ZM596,704 590,705 585,702 587,698 594,692 598,694 602,699 599,702 596,704ZM800,722 798,723 795,722 794,718 800,708 802,695 804,692 806,693 808,696 809,702 803,712 800,722ZM642,707 636,707 631,702 633,698 638,694 642,695 649,702 649,704 642,707ZM616,707 614,706 609,700 611,698 616,695 620,696 622,700 621,704 616,707ZM758,707 754,706 752,704 753,698 756,695 760,698 762,702 761,705 758,707ZM782,704 778,705 777,702 780,696 783,695 784,696 785,699 782,704ZM568,708 565,708 563,705 566,700 570,698 574,700 574,704 572,706 568,708ZM687,722 684,721 680,713 676,710 669,708 657,708 650,704 654,700 660,698 675,702 681,707 688,710 690,711 690,718 687,722ZM546,714 542,715 540,712 543,706 548,704 550,705 552,708 550,711 546,714ZM740,714 736,715 733,714 730,711 730,707 734,706 739,708 741,711 740,714ZM844,729 842,728 840,724 839,722 839,718 848,711 854,708 856,711 858,717 849,727 844,729ZM822,735 819,736 814,736 810,734 810,732 820,723 824,710 825,708 826,708 830,714 831,718 827,724 822,735ZM596,723 588,724 581,722 579,720 583,717 588,715 592,715 603,717 615,711 618,713 620,717 620,719 615,721 603,721 596,723ZM872,732 868,732 867,730 864,722 865,718 867,717 873,715 878,718 880,724 878,729 872,732ZM638,734 633,731 630,723 629,720 632,718 638,718 642,723 640,731 638,734ZM711,728 706,728 705,726 708,720 711,718 712,718 714,719 714,723 711,728ZM564,729 561,728 561,726 564,721 568,719 575,720 575,722 572,724 564,729ZM669,732 664,733 658,730 653,724 653,722 657,719 663,721 670,728 671,730 669,732ZM756,733 753,733 752,729 754,726 759,726 760,728 760,729 756,733ZM730,741 727,741 726,736 727,734 730,732 733,734 734,735 733,738 730,741ZM591,744 578,745 574,744 572,742 572,741 577,738 586,735 602,736 612,732 619,734 622,736 621,740 618,742 602,740 591,744ZM819,764 814,762 812,759 813,758 822,752 830,746 838,744 848,745 862,740 866,740 868,742 869,748 867,751 860,752 846,750 830,756 819,764ZM777,749 776,749 774,748 775,747 777,743 780,742 780,746 777,749ZM660,754 656,754 644,752 642,750 642,748 645,744 652,745 660,748 661,752 660,754ZM804,756 801,756 798,753 797,748 798,746 801,746 804,750 806,754 804,756ZM885,759 878,756 875,753 877,750 885,744 885,759ZM630,759 626,760 622,758 620,754 621,751 626,749 634,752 635,753 635,754 630,759ZM531,758 531,750 533,753 531,758ZM602,767 596,765 590,760 591,758 596,753 602,753 606,754 608,757 608,759 607,762 604,765 602,767ZM532,815 531,816 531,802 542,798 545,795 546,792 547,783 542,776 541,771 543,765 549,759 552,759 554,760 554,764 552,778 553,782 556,784 561,785 566,784 570,780 572,777 572,774 566,762 567,759 572,757 578,758 582,762 581,765 577,774 577,776 578,778 582,780 596,779 598,782 597,788 592,796 591,796 582,787 578,785 554,793 548,796 532,815ZM794,773 788,773 784,771 784,770 786,768 790,767 794,770 794,773ZM831,783 826,784 822,782 820,780 820,777 824,774 836,773 846,767 849,768 851,770 852,772 847,777 831,783ZM885,804 882,802 876,792 861,774 860,771 862,769 867,767 870,768 885,790 885,804ZM645,780 640,781 638,777 637,772 640,769 648,769 652,772 651,776 645,780ZM618,790 615,787 611,777 614,773 620,771 622,773 623,778 621,785 618,790ZM759,779 757,778 756,777 758,775 760,774 762,776 761,777 759,779ZM806,792 804,793 802,791 801,786 800,782 801,780 802,779 807,780 809,783 808,788 806,792ZM783,800 778,800 775,796 774,792 777,788 782,788 785,792 786,796 783,800ZM860,806 844,800 842,798 842,796 846,792 849,790 855,791 859,796 860,802 860,806ZM639,803 634,802 632,798 634,793 638,791 640,791 644,794 645,796 643,800 639,803ZM662,804 660,804 657,802 655,798 658,794 664,791 666,794 666,796 664,801 662,804ZM687,800 686,799 685,796 685,794 687,792 688,792 690,795 689,798 687,800ZM828,809 824,809 819,807 817,804 818,801 822,798 826,797 831,797 837,798 838,800 836,802 832,806 828,809ZM612,811 608,810 605,807 604,806 614,798 616,797 616,804 615,808 612,811ZM759,809 756,810 753,806 753,801 756,798 759,799 761,801 761,806 759,809ZM594,807 591,807 590,806 591,801 592,800 597,804 597,806 594,807ZM572,816 566,817 560,816 558,814 557,812 559,807 566,803 570,803 574,806 576,810 574,814 572,816ZM873,831 870,831 868,830 861,813 861,807 868,808 873,812 874,816 876,826 875,830 873,831ZM682,817 681,817 679,816 680,813 682,812 684,814 682,817ZM801,845 798,846 794,845 790,843 790,842 792,837 799,826 799,816 800,813 801,815 802,822 801,845ZM777,827 774,828 772,827 770,824 770,820 773,816 778,814 782,816 783,819 781,824 777,827ZM645,822 634,823 631,822 630,819 633,815 636,815 646,822 645,822ZM840,851 836,851 822,848 820,846 821,837 814,828 814,825 815,824 820,821 830,823 836,818 842,815 846,815 849,817 850,822 848,828 844,829 830,824 824,834 824,837 826,838 831,841 836,842 843,840 849,834 854,834 861,837 862,838 861,842 848,845 840,851ZM657,824 652,824 647,822 658,819 660,820 657,824ZM546,837 540,836 537,832 537,826 538,823 542,822 549,822 552,826 552,834 549,836 546,837ZM598,839 594,838 585,834 576,833 575,831 578,827 580,825 585,824 590,825 600,830 605,832 604,836 598,839ZM753,836 750,836 748,834 747,828 749,825 752,825 753,826 754,831 753,836ZM724,838 723,838 722,837 723,834 724,835 724,838ZM560,854 555,855 555,848 557,842 561,838 572,836 572,840 570,848 567,850 560,854ZM885,846 884,840 885,836 885,846ZM674,842 670,842 670,840 672,839 675,840 675,842 674,842ZM774,848 770,848 768,846 769,842 772,839 776,840 778,843 777,846 774,848ZM646,848 640,848 635,848 631,846 629,844 629,843 636,841 645,841 649,843 650,844 649,846 646,848ZM532,860 531,860 531,843 535,848 537,855 537,858 532,860ZM831,877 828,877 825,875 816,865 810,860 807,854 807,850 810,849 815,849 816,850 817,860 818,862 822,864 828,865 836,864 843,860 854,861 858,861 866,849 868,849 872,852 873,856 871,861 860,863 854,871 843,869 838,869 831,877ZM740,852 738,853 736,852 738,850 740,851 740,852ZM582,867 578,868 576,862 577,855 580,853 590,852 600,857 614,855 616,856 617,858 616,861 610,864 604,865 597,862 582,867ZM555,878 550,877 548,875 544,870 542,864 544,860 554,857 559,874 558,876 555,878ZM792,870 782,871 780,868 781,864 784,860 788,859 790,860 794,864 796,868 792,870ZM688,869 685,868 681,866 680,862 681,861 686,860 688,861 690,866 690,868 688,869ZM760,871 758,870 755,867 756,863 759,860 762,861 764,865 763,868 760,871ZM664,869 662,869 658,867 657,866 658,864 660,862 664,863 667,866 664,869ZM640,873 632,872 629,870 628,867 630,865 634,864 643,866 645,867 645,870 640,873ZM714,865 714,863 715,864 714,865ZM880,886 879,886 876,884 874,882 873,879 876,870 878,868 880,868 884,869 885,873 884,880 880,886ZM578,914 573,914 568,912 566,910 563,906 564,903 571,896 572,892 571,888 565,879 565,876 569,873 576,871 582,885 581,888 575,896 578,910 578,914ZM822,923 819,921 815,915 815,902 813,893 811,891 802,888 801,886 800,874 801,872 804,873 807,876 813,888 822,894 822,906 827,918 826,921 822,923ZM842,898 837,898 830,892 829,890 831,885 834,885 846,889 848,888 854,879 856,877 863,882 864,886 861,890 856,892 848,890 842,898ZM596,918 588,918 585,916 585,915 597,904 600,904 609,908 614,907 621,902 623,898 624,896 620,890 614,887 610,887 600,895 597,895 594,894 590,890 589,886 590,885 596,881 602,878 606,879 612,882 621,881 624,882 627,888 627,896 630,904 630,909 628,912 621,916 609,915 596,918ZM674,893 669,892 665,890 664,886 666,883 670,882 677,886 678,890 674,893ZM801,923 798,924 794,917 793,902 790,899 782,896 777,892 774,886 776,883 777,882 780,883 794,894 796,902 802,909 804,914 804,918 801,923ZM648,897 644,896 641,892 642,888 646,885 650,886 653,890 652,894 648,897ZM552,903 546,903 540,900 539,897 538,894 542,890 548,887 551,890 555,898 554,902 552,903ZM718,897 716,897 714,896 714,891 715,890 718,890 721,892 721,896 718,897ZM760,905 758,904 755,898 755,894 758,892 759,892 761,896 762,903 760,905ZM884,897 882,897 882,895 884,894 885,896 885,897 884,897ZM694,909 690,909 688,908 689,903 692,901 694,902 697,906 697,908 694,909ZM843,920 837,921 833,918 836,912 842,907 844,907 852,912 854,911 861,903 864,902 870,902 875,903 875,904 874,908 866,913 860,915 854,913 843,920ZM736,917 733,916 731,914 732,909 735,905 738,906 740,910 739,915 736,917ZM675,924 674,924 662,910 662,909 666,908 669,908 676,910 679,914 679,920 675,924ZM783,939 778,939 775,938 774,927 767,914 766,910 766,909 770,908 774,908 777,909 779,912 780,916 781,927 786,938 783,939ZM646,930 639,928 639,924 641,918 644,913 648,910 651,910 653,910 654,912 650,927 646,930ZM556,931 552,931 543,926 531,926 531,914 537,915 554,921 556,923 558,927 558,929 556,931ZM710,921 708,922 706,921 706,918 708,915 710,915 710,916 710,921ZM879,930 878,930 877,928 879,919 882,916 885,916 885,928 879,930ZM759,943 752,939 748,934 745,924 745,921 747,919 752,919 756,924 759,936 760,942 759,943ZM692,942 688,942 687,940 686,936 687,933 694,929 702,927 702,932 699,937 696,940 692,942ZM838,945 834,946 831,945 829,944 829,940 832,938 836,936 848,936 858,927 862,927 874,934 838,945ZM598,947 597,947 594,945 591,939 592,934 596,932 602,931 610,933 620,929 624,928 630,929 633,932 632,938 627,942 622,942 612,937 609,938 598,947ZM736,966 733,964 732,952 730,948 722,943 720,940 720,933 723,928 726,928 728,929 734,942 741,948 744,952 745,957 744,962 741,964 736,966ZM574,969 572,969 569,968 567,964 566,962 567,958 573,951 566,938 566,933 567,932 572,930 574,930 578,932 580,938 579,942 574,951 581,963 579,966 574,969ZM660,944 656,944 654,944 653,939 654,935 657,934 666,932 669,932 670,933 670,936 668,939 664,942 660,944ZM813,945 796,939 795,938 800,934 806,936 818,937 819,939 819,942 813,945ZM878,957 873,958 872,956 874,941 876,939 885,947 885,953 878,957ZM546,977 542,974 541,972 545,968 546,964 546,960 545,956 542,951 538,949 536,948 531,950 531,941 537,943 548,941 551,945 556,960 555,963 550,969 546,977ZM766,959 762,959 761,957 759,944 760,942 766,946 768,950 769,956 766,959ZM642,963 636,960 634,957 635,956 642,949 648,947 651,947 652,951 650,957 646,961 642,963ZM728,978 716,978 713,969 705,962 702,958 702,954 705,949 710,947 712,948 714,949 717,965 720,967 729,970 730,976 729,978 728,978ZM664,978 632,978 640,974 644,974 651,978 654,977 659,972 663,962 667,957 678,952 684,952 685,954 685,957 675,962 672,965 668,970 666,978 664,978ZM596,969 591,968 589,964 591,960 597,956 606,958 622,953 626,954 628,957 627,962 620,967 615,967 604,965 596,969ZM855,966 850,966 848,963 849,958 852,954 856,953 868,958 869,960 866,963 855,966ZM784,968 782,968 780,966 779,960 783,956 789,955 793,958 794,962 791,964 784,968ZM832,972 827,970 823,966 824,962 828,959 832,959 839,966 839,969 838,970 832,972ZM808,974 806,974 801,968 800,963 802,961 808,960 812,962 813,964 813,969 808,974ZM532,975 531,976 531,966 537,972 536,974 532,975ZM762,978 750,978 751,972 753,969 758,966 760,968 763,975 762,978ZM696,978 682,978 686,971 690,968 694,971 697,976 697,978 696,978ZM880,978 867,978 872,972 874,971 881,975 882,976 881,978 880,978ZM783,978 775,978 780,976 783,978Z"/>
<path fill="#7254A8" fill-rule="evenodd" d="M566,630 562,630 556,629 546,629 544,628 544,627 545,624 548,622 550,622 560,626 567,624 572,621 598,621 590,626 579,625 573,625 566,630ZM615,623 611,621 619,621 615,623ZM729,623 723,624 717,621 732,621 729,623ZM790,630 786,629 782,627 782,624 782,621 797,621 795,627 794,629 790,630ZM748,636 744,635 743,632 746,627 750,626 753,628 753,632 752,634 748,636ZM654,641 651,641 650,639 650,634 657,629 662,629 663,632 663,634 654,641ZM632,643 627,642 625,640 624,638 632,631 638,629 640,632 639,636 632,643ZM861,639 858,636 858,633 861,630 866,630 867,632 867,633 864,637 861,639ZM885,641 880,633 882,630 885,629 885,641ZM678,642 673,642 671,639 670,636 671,634 675,632 680,631 683,632 685,633 686,636 684,639 678,642ZM588,647 582,648 578,645 578,644 585,639 590,637 600,639 612,633 615,634 616,636 615,639 609,643 606,644 597,643 588,647ZM838,644 834,645 825,642 820,640 820,638 825,634 840,634 843,636 844,639 842,642 838,644ZM732,663 728,664 725,654 723,651 711,648 699,642 696,639 697,636 702,635 710,638 720,640 724,643 734,652 737,657 737,660 732,663ZM770,646 765,640 765,638 766,636 768,636 770,638 771,645 770,646ZM806,650 800,649 796,646 795,642 798,638 807,639 812,640 813,642 811,646 806,650ZM561,650 558,650 557,650 557,648 564,640 567,640 571,642 572,644 571,645 561,650ZM540,653 536,652 534,650 536,644 538,641 543,644 547,648 547,650 545,651 540,653ZM783,665 780,664 777,661 772,652 770,646 771,646 773,648 782,652 785,656 786,660 783,665ZM645,662 640,662 638,660 638,658 648,651 651,650 654,654 655,657 645,662ZM630,662 622,662 617,660 617,658 624,654 628,654 634,658 634,660 630,662ZM868,663 866,664 863,662 862,656 864,653 866,653 868,657 869,660 868,663ZM606,665 600,665 598,663 598,662 602,657 606,655 609,656 615,658 615,660 606,665ZM669,663 663,664 659,660 658,657 666,654 670,655 673,658 673,660 669,663ZM682,666 679,664 677,660 684,656 688,656 691,658 691,662 687,665 682,666ZM582,668 576,668 574,666 573,664 577,660 582,658 586,660 588,663 582,668ZM747,680 746,662 748,659 753,658 755,662 755,669 752,675 747,680ZM804,677 802,675 803,674 810,664 814,661 819,661 828,664 836,659 840,658 846,660 849,663 849,666 848,668 844,670 837,670 828,666 818,672 804,677ZM554,672 550,672 549,670 552,666 556,661 561,662 563,664 562,668 554,672ZM724,684 723,685 718,684 712,675 711,674 705,675 700,674 697,666 698,662 702,660 705,661 708,664 712,673 720,672 723,672 724,684ZM531,674 531,662 534,665 536,669 535,672 531,674ZM885,676 883,672 885,668 885,676ZM774,683 770,682 769,680 771,676 776,675 777,676 777,680 774,683ZM621,686 618,687 615,685 612,682 612,680 615,677 620,676 626,677 627,680 627,681 621,686ZM663,686 658,687 650,682 642,684 639,684 637,682 635,680 637,676 640,675 650,678 660,675 663,676 666,681 665,684 663,686ZM596,686 592,685 591,683 592,680 597,677 601,678 602,681 596,686ZM705,701 700,701 698,699 690,690 681,690 677,688 674,684 675,681 680,678 682,678 688,684 696,688 702,694 706,699 705,701ZM572,691 568,691 567,690 565,688 565,686 570,681 576,680 578,681 578,684 572,691ZM546,694 542,693 541,690 544,685 548,684 550,686 550,688 546,694ZM831,699 826,700 824,696 824,692 827,687 831,685 836,685 841,687 844,690 844,692 842,693 831,699ZM856,698 852,696 848,692 856,685 861,685 863,687 864,692 862,694 856,698ZM880,705 876,703 873,698 874,693 879,691 882,692 885,693 885,704 880,705ZM594,704 588,704 586,700 590,696 594,693 598,696 600,699 598,702 594,704ZM616,706 614,705 610,700 612,698 616,696 620,698 621,700 619,704 616,706ZM639,707 634,705 632,700 634,697 639,695 644,697 647,702 644,705 639,707ZM678,709 669,707 658,707 656,706 653,704 656,700 662,699 675,704 679,708 678,709ZM759,704 756,704 754,703 754,700 756,698 759,699 760,702 759,704ZM570,706 567,706 565,705 566,702 568,700 571,700 572,702 572,704 570,706ZM806,704 804,702 806,699 806,700 806,704ZM546,711 544,712 544,710 546,707 548,707 549,708 548,710 546,711ZM687,719 684,718 679,710 680,708 686,710 688,712 689,716 687,719ZM736,711 734,711 735,710 736,711ZM846,728 843,727 841,724 840,722 840,718 848,712 850,710 854,709 856,712 857,717 852,723 846,728ZM820,734 816,735 813,734 813,732 814,729 821,723 824,714 825,711 826,711 829,714 829,717 825,724 823,732 820,734ZM594,723 588,723 582,720 585,717 590,715 594,716 603,718 614,713 616,713 618,716 618,718 615,720 610,720 603,719 594,723ZM874,731 872,732 868,731 866,726 866,720 870,716 874,716 877,718 879,722 879,726 874,731ZM638,731 634,730 632,724 631,722 633,719 638,719 641,723 640,728 638,731ZM566,726 564,726 564,724 566,722 568,721 571,722 569,724 566,726ZM668,731 663,731 658,729 654,724 655,722 658,720 663,722 668,728 668,731ZM588,744 578,744 575,742 575,741 580,738 585,736 591,736 602,737 612,733 617,734 621,736 620,740 616,742 602,738 588,744ZM866,750 856,751 852,748 851,747 852,746 856,742 864,741 866,742 867,746 867,748 866,750ZM657,752 650,752 646,750 645,748 646,747 648,746 652,746 657,748 658,750 657,752ZM820,761 818,761 816,759 830,748 836,746 841,747 841,748 840,750 826,756 820,761ZM885,757 880,756 877,753 879,750 885,746 885,757ZM630,758 627,759 624,758 622,754 622,752 627,751 632,753 632,756 630,758ZM603,765 598,766 592,762 591,759 593,756 598,753 603,754 606,756 607,758 607,760 603,765ZM574,773 572,771 568,764 568,759 572,758 578,759 581,762 579,768 574,773ZM554,791 550,791 549,790 548,782 544,777 542,772 544,765 549,761 552,762 553,764 550,778 551,782 559,788 554,791ZM832,782 828,783 824,782 822,780 822,777 825,775 837,773 844,770 848,770 849,771 848,774 845,777 832,782ZM885,803 882,800 877,790 863,776 862,772 864,770 867,768 870,770 885,792 885,803ZM645,779 642,780 639,777 639,772 640,770 645,770 649,771 650,772 649,776 645,779ZM618,786 616,786 614,782 612,777 614,774 618,773 621,774 622,777 621,782 618,786ZM574,783 572,784 570,783 574,780 577,782 574,783ZM592,793 591,793 588,792 581,783 589,780 596,780 597,782 597,784 596,789 592,793ZM806,788 804,787 803,786 804,782 806,783 807,784 806,788ZM570,785 569,784 570,783 571,784 570,785ZM782,799 778,798 776,795 776,792 777,790 780,790 783,792 784,796 782,799ZM858,803 854,803 846,800 844,798 844,795 849,791 852,791 855,792 858,796 858,803ZM638,801 635,800 634,796 638,793 640,793 643,795 642,798 638,801ZM660,801 658,800 658,796 660,795 663,795 663,798 660,801ZM830,807 825,808 822,808 819,806 819,802 821,800 825,798 830,797 834,798 836,800 836,801 834,804 830,807ZM531,815 531,803 538,802 538,804 538,806 531,815ZM612,807 609,807 608,806 610,802 614,802 614,804 612,807ZM758,805 756,805 756,802 758,802 758,805ZM570,816 564,816 560,815 558,812 560,807 564,804 567,804 573,806 575,808 575,812 573,814 570,816ZM873,829 870,829 868,827 863,813 863,810 864,809 870,810 873,814 875,824 873,829ZM777,825 773,825 772,820 773,818 777,816 780,817 781,819 780,822 777,825ZM844,828 833,824 833,820 840,816 844,816 848,816 849,819 849,824 848,827 844,828ZM638,821 635,820 634,819 636,818 638,819 638,821ZM548,836 542,836 538,834 537,828 540,823 546,822 550,825 552,828 551,832 548,836ZM822,835 819,833 815,828 815,825 819,822 824,823 827,825 825,830 822,835ZM597,837 579,831 579,830 580,827 584,826 588,826 593,828 601,832 601,836 597,837ZM800,843 795,844 792,842 794,837 798,833 800,834 800,837 800,843ZM838,851 834,850 823,846 822,843 823,840 825,839 832,842 840,842 843,841 850,835 856,836 860,838 860,840 858,842 848,844 838,851ZM561,852 558,853 556,852 556,848 557,843 561,839 568,837 570,840 569,848 566,850 561,852ZM644,846 638,846 635,844 637,843 642,843 645,844 644,846ZM534,858 531,859 531,844 534,846 536,852 536,856 534,858ZM814,860 812,859 810,856 808,854 809,850 813,850 814,851 815,855 814,860ZM867,861 862,861 861,860 864,852 867,850 871,852 872,856 871,860 867,861ZM584,866 579,866 578,865 577,858 579,854 584,853 588,853 593,855 596,858 597,860 595,861 584,866ZM610,863 604,862 602,861 603,860 609,857 614,857 614,860 614,861 610,863ZM554,876 550,876 548,873 544,867 544,862 549,859 552,859 554,861 557,872 557,874 554,876ZM792,869 786,870 783,869 782,867 782,866 784,862 789,861 794,866 794,867 792,869ZM831,875 828,876 825,874 821,870 820,866 836,866 842,862 844,861 855,862 857,864 855,868 852,870 838,868 831,875ZM639,872 633,871 631,868 632,867 636,865 642,867 642,870 639,872ZM879,884 875,882 874,878 876,872 878,870 880,869 884,871 884,874 882,881 879,884ZM576,891 574,891 573,890 566,878 569,874 573,873 576,873 580,884 579,888 576,891ZM810,888 806,888 802,886 802,880 802,876 804,876 807,878 810,885 810,888ZM598,895 594,893 591,890 590,886 592,884 597,880 602,879 606,880 611,884 611,885 610,886 598,895ZM860,890 854,890 850,888 852,882 855,879 860,879 863,884 862,887 860,890ZM624,891 617,886 615,885 616,884 620,882 623,884 626,888 626,890 624,891ZM674,891 670,891 667,890 666,886 668,884 670,883 675,886 676,890 674,891ZM790,896 784,896 780,893 777,890 777,885 780,885 783,887 791,894 791,896 790,896ZM840,897 836,896 831,892 830,890 832,886 837,886 844,890 844,892 840,897ZM648,896 645,896 642,892 644,888 646,887 650,888 651,890 651,892 648,896ZM552,902 546,903 541,900 539,896 541,891 546,888 550,890 554,897 554,900 552,902ZM824,920 822,921 819,919 816,914 816,893 819,894 820,896 820,904 825,916 825,919 824,920ZM574,912 572,912 567,910 565,906 567,902 573,897 574,899 577,908 576,910 574,912ZM598,917 591,917 588,915 590,910 597,905 600,905 608,908 610,909 615,907 626,899 628,902 629,909 627,912 623,915 618,916 609,914 598,917ZM864,912 860,913 857,912 857,910 860,906 864,903 868,903 872,904 872,906 871,908 864,912ZM801,921 798,922 794,916 793,910 795,905 798,906 803,912 803,916 801,921ZM782,938 778,938 776,934 775,927 768,914 768,910 770,909 776,909 779,914 780,918 779,927 783,936 782,938ZM840,920 836,918 836,915 840,909 844,908 848,910 849,914 845,918 840,920ZM676,920 675,921 672,919 667,914 666,910 670,910 676,913 678,916 676,920ZM736,913 735,913 734,912 735,909 736,910 736,913ZM646,929 644,929 640,927 640,922 644,915 646,913 650,912 651,914 651,916 649,926 646,929ZM554,929 544,924 531,925 531,915 537,916 546,920 553,922 555,924 556,927 554,929ZM885,927 880,928 879,927 879,921 882,917 885,917 885,927ZM758,940 754,940 752,938 748,933 746,924 748,920 753,921 756,926 758,934 758,940ZM840,944 834,944 832,944 832,940 834,938 837,937 848,939 856,930 860,928 864,929 868,933 867,934 861,938 854,940 848,940 840,944ZM600,945 596,945 592,940 592,936 596,932 602,931 612,934 618,930 624,929 628,930 632,932 632,936 627,941 624,942 621,941 612,935 600,945ZM694,939 690,940 688,938 688,934 693,931 699,930 700,932 699,934 694,939ZM738,965 736,964 734,963 732,948 729,945 723,943 721,940 720,934 723,930 726,930 728,931 734,943 741,949 743,952 743,960 741,963 738,965ZM573,947 569,942 567,936 568,933 572,931 576,932 579,938 577,944 574,946 573,947ZM660,942 656,942 655,939 656,936 663,934 668,934 668,936 666,939 660,942ZM814,942 809,942 807,940 807,939 814,939 816,940 814,942ZM550,965 549,966 548,964 545,954 538,947 536,947 531,949 531,942 537,945 546,943 549,944 551,946 555,958 554,963 550,965ZM879,956 874,956 873,954 875,945 876,942 878,942 882,945 885,949 884,952 879,956ZM765,957 763,957 762,954 762,950 764,948 766,950 767,952 767,956 765,957ZM644,962 640,962 638,960 636,958 636,956 642,950 646,949 650,949 651,951 650,956 647,960 644,962ZM724,978 719,978 717,976 714,968 704,960 703,954 706,949 711,948 714,951 716,965 717,967 728,972 728,976 724,978ZM596,968 593,968 591,966 591,963 593,960 597,957 606,959 621,954 624,954 627,957 626,962 620,966 615,966 604,963 596,968ZM663,978 655,978 660,972 665,960 672,956 681,954 682,956 681,957 675,961 670,966 667,970 664,978 663,978ZM860,965 854,966 850,964 849,960 852,955 856,954 865,958 866,962 860,965ZM574,968 570,966 568,963 569,958 573,954 576,956 579,962 579,964 574,968ZM786,966 782,966 780,962 781,958 783,957 788,956 791,958 792,962 786,966ZM834,971 830,971 825,968 824,964 826,961 831,960 837,964 838,968 837,969 834,971ZM808,972 806,972 802,968 802,964 804,962 808,962 812,964 812,969 808,972ZM531,975 531,967 534,972 531,975ZM696,978 683,978 686,972 690,969 694,972 696,978ZM760,978 751,978 752,973 754,969 758,968 760,970 762,975 761,978 760,978ZM879,978 868,978 872,974 874,973 879,975 880,976 880,978 879,978ZM646,978 634,978 642,975 648,978 646,978ZM782,978 777,978 780,977 782,978Z"/>
<path fill="#4D1F86" fill-rule="evenodd" d="M591,624 586,625 574,622 575,621 597,621 591,624ZM616,621 613,621 617,621 616,621ZM726,623 719,621 730,621 726,623ZM792,629 788,629 784,627 783,624 784,621 795,621 795,626 792,629ZM554,627 548,628 546,627 546,626 548,624 550,623 554,626 554,627ZM656,639 652,640 651,639 651,634 656,631 660,629 662,632 662,634 656,639ZM748,633 746,633 746,632 748,629 750,632 748,633ZM630,642 626,640 625,639 626,636 633,631 638,631 639,633 638,636 634,640 630,642ZM885,639 883,636 882,633 885,630 885,639ZM680,641 675,642 673,640 671,638 672,634 678,632 683,633 684,634 684,638 680,641ZM609,642 604,643 600,640 609,635 614,635 614,638 614,639 609,642ZM837,644 828,642 823,639 823,638 824,636 828,635 840,636 842,638 842,639 840,642 837,644ZM730,663 728,662 724,650 711,646 700,640 699,639 699,638 702,637 710,639 718,641 722,644 726,648 732,652 736,656 735,660 730,663ZM586,647 582,646 580,645 580,644 583,640 590,638 595,639 597,640 593,644 586,647ZM807,648 802,649 798,648 796,645 797,640 800,639 802,639 810,641 811,644 811,645 807,648ZM561,648 560,646 564,642 566,641 568,642 569,644 568,645 561,648ZM542,651 537,651 535,650 536,645 538,643 542,644 545,648 545,650 542,651ZM646,660 642,661 641,658 646,653 651,652 653,654 653,657 646,660ZM783,662 782,662 778,660 776,656 776,652 780,653 783,656 784,658 783,662ZM627,662 622,661 620,660 620,658 624,655 628,655 632,658 631,660 627,662ZM666,663 663,663 661,662 660,658 661,657 666,655 671,657 671,660 666,663ZM604,665 602,665 599,663 599,662 601,658 606,656 609,657 612,658 612,660 611,662 604,665ZM684,665 681,664 679,662 679,660 684,657 687,657 689,658 689,662 684,665ZM582,667 578,667 575,664 578,661 582,659 585,660 586,663 582,667ZM750,674 748,673 747,670 747,663 748,660 752,659 754,662 755,666 753,671 750,674ZM843,669 838,669 834,668 832,666 832,663 838,659 845,660 848,664 847,668 843,669ZM708,674 704,674 700,672 697,666 699,662 704,661 707,663 710,670 710,672 708,674ZM555,671 552,670 552,668 556,663 560,663 561,666 558,669 555,671ZM813,672 808,672 809,668 813,663 818,662 823,664 823,666 821,669 813,672ZM532,672 531,673 531,664 534,666 535,669 532,672ZM722,683 718,682 715,678 715,675 717,674 722,673 723,675 723,681 722,683ZM620,686 615,684 613,681 613,680 618,677 622,677 625,678 626,681 623,684 620,686ZM644,683 639,682 637,681 637,678 639,676 642,676 646,678 647,680 644,683ZM662,686 658,686 656,684 651,681 651,680 657,676 662,676 665,681 664,684 662,686ZM597,684 594,684 593,681 596,679 598,678 600,680 600,681 597,684ZM686,689 680,689 676,687 675,684 676,680 680,678 684,681 689,687 686,689ZM772,680 772,678 773,680 772,680ZM570,690 567,688 566,687 567,684 572,681 576,681 577,682 576,686 573,689 570,690ZM832,698 830,699 826,698 825,694 825,692 828,687 831,685 836,685 841,688 842,692 832,698ZM546,692 543,692 543,690 544,687 548,686 548,688 546,692ZM856,696 852,694 851,692 855,687 860,686 862,688 862,692 860,694 856,696ZM700,698 696,695 694,692 694,690 700,694 701,698 700,698ZM884,704 879,704 876,702 874,698 876,693 880,692 885,694 885,703 884,704ZM596,702 590,703 588,702 588,699 591,696 596,695 598,696 599,699 596,702ZM642,705 638,706 634,704 633,700 634,698 639,695 644,698 646,702 642,705ZM616,704 614,703 612,700 615,697 618,698 620,700 619,702 616,704ZM660,707 657,706 655,704 657,701 660,700 663,700 673,705 660,707ZM848,726 844,727 842,724 841,722 841,718 848,712 850,711 854,711 856,714 856,717 853,722 848,726ZM615,719 610,719 609,718 609,717 612,715 615,715 617,717 615,719ZM596,722 590,722 585,720 587,717 592,716 599,718 599,720 596,722ZM872,731 868,729 866,722 868,718 873,717 878,720 879,724 876,729 872,731ZM638,727 636,727 634,724 633,722 634,720 638,721 639,723 638,727ZM664,730 661,729 657,726 656,723 657,722 660,722 665,724 666,728 664,730ZM820,732 818,733 816,732 817,729 820,727 822,729 820,732ZM618,740 615,741 610,740 605,738 606,736 612,734 616,734 620,736 618,740ZM591,743 582,744 578,742 578,741 582,738 587,736 592,736 597,738 597,740 591,743ZM864,749 861,750 856,749 854,747 854,746 858,742 864,742 866,746 866,748 864,749ZM885,755 882,755 880,753 881,750 885,748 885,755ZM628,756 625,756 624,753 626,752 629,753 630,754 628,756ZM602,765 597,765 593,762 592,759 594,756 600,754 605,756 606,760 604,764 602,765ZM574,771 572,770 568,764 569,760 572,758 576,759 580,762 579,767 574,771ZM548,778 544,775 543,771 545,766 549,763 551,764 551,768 550,776 548,778ZM645,777 642,778 640,777 640,774 642,771 645,771 648,772 647,776 645,777ZM879,789 865,776 864,772 865,771 868,770 871,772 878,784 879,789ZM830,782 826,782 824,780 824,777 843,772 845,772 845,774 842,777 830,782ZM618,783 615,782 614,778 614,776 618,774 620,776 621,778 618,783ZM592,791 590,791 587,789 584,786 584,783 591,781 595,782 596,786 592,791ZM782,796 778,795 778,792 780,792 782,793 782,796ZM856,801 854,802 848,800 846,798 846,795 849,792 854,792 857,796 858,800 856,801ZM885,801 882,796 882,792 885,794 885,801ZM639,798 638,796 639,796 639,798ZM828,807 824,807 820,806 820,804 821,801 824,799 828,798 835,800 835,801 833,804 828,807ZM531,813 531,805 534,805 535,807 531,813ZM570,815 566,816 561,814 559,812 560,808 566,805 571,806 573,807 574,810 573,813 570,815ZM872,827 868,824 865,816 864,813 866,811 870,811 872,814 873,824 872,827ZM846,827 843,827 837,825 834,824 834,820 840,817 844,816 848,817 849,822 848,825 846,827ZM776,824 774,823 774,820 774,819 777,818 778,819 779,820 777,823 776,824ZM546,836 541,836 538,832 538,826 542,823 548,823 550,826 550,832 546,836ZM822,833 819,832 816,828 817,825 819,823 824,823 826,825 825,829 822,833ZM596,834 585,830 588,829 594,831 596,832 597,834 596,834ZM796,842 795,842 795,838 796,836 798,836 799,840 796,842ZM840,849 836,850 828,848 824,845 824,842 825,841 836,843 843,843 850,836 855,836 857,838 857,840 854,842 846,843 840,849ZM562,851 560,852 557,850 557,844 561,840 567,839 568,839 569,842 569,846 566,849 562,851ZM531,858 531,845 534,848 536,854 535,856 531,858ZM868,860 864,860 863,858 864,854 867,852 870,853 871,855 870,858 868,860ZM580,866 578,864 577,861 578,858 579,855 582,854 586,853 593,856 594,860 593,861 586,864 580,866ZM813,855 811,855 812,853 813,853 813,855ZM554,875 549,873 546,868 545,864 549,861 552,862 554,864 555,872 554,875ZM790,867 786,868 784,867 783,866 784,864 788,862 791,864 791,866 790,867ZM854,867 850,868 844,867 841,866 841,864 844,862 850,863 854,864 854,867ZM830,875 826,874 824,872 822,868 823,867 831,867 834,868 833,872 830,875ZM638,869 635,868 639,868 638,869ZM879,882 876,880 875,876 878,872 880,871 883,873 883,876 881,880 879,882ZM576,889 573,887 568,879 569,876 572,874 575,874 578,880 579,885 576,889ZM807,886 804,885 803,882 804,879 806,879 807,882 808,885 807,886ZM600,893 597,894 594,892 592,890 591,886 593,884 597,881 602,880 604,880 608,882 609,885 600,893ZM858,890 854,889 851,886 854,881 856,879 860,881 862,884 861,888 858,890ZM622,888 620,886 620,885 622,886 622,888ZM672,889 669,888 669,886 672,886 673,888 672,889ZM786,893 781,892 779,890 778,888 780,887 782,888 786,891 786,893ZM840,896 837,896 833,892 832,890 833,888 837,887 842,890 843,892 840,896ZM550,902 546,902 541,898 540,894 543,891 548,889 551,891 553,897 552,900 550,902ZM646,894 644,892 644,891 646,889 649,890 649,891 648,894 646,894ZM573,911 568,910 566,906 567,903 572,899 573,900 574,902 575,906 575,909 573,911ZM596,917 591,916 590,914 593,909 597,905 602,906 609,910 612,909 624,901 627,902 628,904 627,910 622,914 617,915 609,912 596,917ZM866,911 861,912 859,910 859,909 863,904 866,904 868,904 870,906 869,908 866,911ZM801,920 798,920 795,916 794,910 796,907 800,909 802,914 803,916 801,920ZM822,918 819,917 818,914 818,909 819,908 823,915 822,918ZM842,918 838,918 837,915 840,910 843,909 846,910 848,914 845,916 842,918ZM777,926 772,921 769,915 769,912 771,910 776,910 778,914 779,920 777,926ZM674,916 672,915 672,914 674,915 674,916ZM645,927 641,926 642,921 644,916 648,914 650,916 649,921 648,926 645,927ZM536,924 531,923 531,916 537,917 542,921 542,922 536,924ZM885,926 880,926 880,924 880,920 884,918 885,918 885,926ZM756,938 752,937 748,933 747,926 748,922 753,922 756,927 758,934 756,938ZM626,941 622,940 617,938 614,934 615,933 622,930 627,930 630,932 631,933 631,936 628,939 626,941ZM858,938 853,938 854,933 860,929 864,930 866,933 865,934 858,938ZM694,938 692,938 690,936 692,933 696,932 698,933 697,934 694,938ZM730,944 722,940 721,936 723,932 726,932 729,935 732,944 730,944ZM574,944 572,944 568,938 569,934 572,933 575,933 578,937 577,940 574,944ZM598,945 596,944 593,940 593,938 594,934 597,933 600,932 608,934 608,936 606,939 598,945ZM660,941 657,939 657,938 660,936 665,936 664,939 660,941ZM840,942 836,943 834,940 837,939 840,939 842,940 840,942ZM531,948 531,943 533,945 533,946 531,948ZM880,954 876,955 874,953 875,946 878,943 881,945 884,950 883,952 880,954ZM552,962 550,962 549,960 546,954 542,948 541,946 542,945 546,944 550,946 553,957 552,962ZM740,963 736,963 735,962 734,946 740,949 742,953 742,960 740,963ZM712,965 708,963 704,958 704,956 705,952 708,950 711,950 714,952 714,962 712,965ZM645,960 642,961 639,960 638,958 637,956 642,951 648,950 649,954 648,957 645,960ZM621,965 615,966 607,962 608,960 613,957 618,955 622,955 626,957 626,958 625,962 621,965ZM856,965 852,964 850,962 851,957 855,954 862,957 864,960 862,963 856,965ZM574,966 572,966 569,963 570,959 573,957 576,958 577,962 577,964 574,966ZM662,978 658,978 663,972 666,962 669,959 674,958 674,958 665,970 663,978 662,978ZM786,965 783,965 781,962 783,958 788,958 789,958 790,962 786,965ZM596,966 593,964 594,961 597,959 601,960 602,962 601,963 596,966ZM834,970 830,970 827,968 826,964 828,962 831,961 835,964 836,968 834,970ZM807,971 805,969 804,966 804,964 807,963 810,964 810,966 810,969 807,971ZM531,974 531,968 533,972 531,974ZM694,978 684,978 687,972 690,970 693,971 694,974 695,978 694,978ZM724,977 722,977 718,976 717,972 718,970 722,970 725,972 726,975 724,977ZM759,978 752,978 753,972 756,970 759,970 760,973 760,977 759,978ZM878,978 869,978 872,975 874,974 878,975 878,978 878,978ZM645,978 636,978 640,976 645,978Z"/>
<path fill="#35086A" fill-rule="evenodd" d="M592,623 586,624 581,622 579,621 595,621 592,623ZM792,627 789,628 786,627 785,626 785,622 786,621 793,621 794,624 792,627ZM632,641 628,640 627,638 631,633 636,632 638,633 637,636 632,641ZM656,638 652,638 653,634 657,631 660,631 660,634 656,638ZM678,641 674,640 672,636 676,633 681,633 683,634 683,636 681,639 678,641ZM837,642 831,642 826,639 826,638 831,636 838,637 840,639 837,642ZM609,641 604,640 608,637 610,636 612,637 612,639 609,641ZM588,645 584,646 582,644 588,639 591,639 593,640 593,642 588,645ZM807,647 802,648 800,647 798,645 798,642 801,640 807,641 809,644 807,647ZM718,647 712,645 710,644 710,642 716,642 719,644 721,645 718,647ZM542,650 538,650 537,650 537,646 538,645 540,645 543,646 543,648 542,650ZM730,662 729,661 727,658 728,653 729,652 732,653 735,657 734,660 730,662ZM648,659 645,659 643,658 645,655 650,653 651,656 648,659ZM627,660 623,660 622,658 626,656 628,657 630,658 627,660ZM668,662 663,662 661,658 664,656 669,657 669,660 668,662ZM606,663 602,663 600,662 603,658 608,657 610,658 610,660 606,663ZM686,663 682,663 681,660 684,658 687,658 687,662 686,663ZM844,668 840,669 836,668 834,666 834,663 838,660 843,660 845,662 847,664 844,668ZM580,666 578,666 577,663 580,660 584,661 585,663 580,666ZM705,674 700,672 699,669 698,664 700,662 705,662 709,668 709,672 705,674ZM752,669 750,670 748,668 748,663 750,662 752,662 753,664 752,669ZM813,671 811,669 813,664 818,663 821,664 820,668 813,671ZM558,668 555,669 554,668 556,664 558,664 559,666 558,668ZM532,671 531,671 531,665 533,668 532,671ZM720,681 717,678 717,676 718,675 720,675 722,676 722,679 720,681ZM621,684 618,685 616,684 614,681 615,680 620,677 623,678 625,681 621,684ZM644,681 640,682 639,680 640,678 642,678 645,680 644,681ZM662,685 658,685 656,684 653,681 653,680 658,677 662,677 664,681 662,685ZM686,687 681,688 678,687 676,684 677,681 680,679 682,680 686,684 686,686 686,687ZM597,682 596,682 595,681 597,680 598,681 597,682ZM570,689 568,687 568,684 572,682 574,682 575,684 575,686 570,689ZM830,698 826,696 826,694 826,692 828,688 834,686 839,688 840,690 839,693 834,696 830,698ZM858,694 855,694 854,692 855,690 858,688 860,690 858,694ZM884,703 880,703 877,702 875,698 876,694 880,693 885,696 885,702 884,703ZM594,702 591,702 589,700 590,698 594,696 597,697 598,699 594,702ZM639,705 635,704 634,700 636,698 639,696 643,699 644,702 642,704 639,705ZM616,702 615,702 614,700 615,699 617,699 618,700 616,702ZM662,705 658,705 657,704 658,702 663,702 664,704 662,705ZM848,725 844,726 843,724 842,720 846,714 852,712 855,714 855,717 852,722 848,725ZM592,722 588,721 587,720 587,718 591,717 596,718 596,720 592,722ZM874,729 870,730 867,726 867,722 870,718 874,718 878,722 877,726 874,729ZM663,727 660,727 658,724 662,724 663,727ZM616,740 611,740 608,738 608,736 612,735 616,735 618,736 618,738 616,740ZM588,743 582,742 580,741 585,738 590,737 593,738 594,740 592,741 588,743ZM861,749 858,748 857,746 860,743 862,743 864,744 864,747 861,749ZM884,752 884,751 885,752 884,752ZM603,764 600,765 596,763 593,760 593,758 597,755 603,755 606,759 603,764ZM574,770 572,768 569,764 570,760 573,759 577,760 579,764 578,768 574,770ZM548,775 546,774 545,772 545,770 546,767 549,765 550,770 548,775ZM644,775 643,774 645,774 644,775ZM870,777 867,774 868,773 869,774 870,777ZM830,780 827,778 830,777 835,777 834,778 830,780ZM618,779 616,779 616,777 618,777 618,779ZM592,789 590,790 587,788 586,784 587,783 591,781 594,782 595,786 592,789ZM855,800 852,800 849,799 847,796 847,795 850,793 854,794 856,796 855,800ZM830,806 824,806 822,806 821,802 824,800 826,799 832,799 834,801 833,802 830,806ZM531,811 531,807 532,808 531,811ZM567,815 562,814 561,812 562,807 567,806 571,807 572,810 571,813 567,815ZM872,823 870,823 867,819 866,814 867,812 870,813 872,816 872,823ZM844,827 837,824 835,822 835,820 840,817 843,817 847,818 848,820 848,824 844,827ZM548,834 543,835 540,834 538,830 541,825 544,824 549,826 550,831 548,834ZM822,831 819,830 818,828 819,825 822,824 824,826 822,831ZM854,840 849,840 849,838 852,837 854,838 854,840ZM564,849 560,850 558,846 561,842 566,840 568,842 568,844 566,848 564,849ZM837,849 827,846 826,844 826,843 841,844 841,846 840,848 837,849ZM532,857 531,857 531,845 533,848 535,852 534,855 532,857ZM584,864 580,864 579,863 578,860 579,856 582,855 585,854 591,856 592,860 591,861 584,864ZM867,858 865,858 865,856 867,854 868,854 869,856 867,858ZM552,872 549,871 547,868 547,866 549,863 551,864 553,867 554,871 552,872ZM850,866 846,866 846,864 849,864 851,866 850,866ZM828,873 826,872 825,868 831,868 832,870 831,872 828,873ZM879,880 878,880 877,878 877,874 879,873 880,873 881,874 880,879 879,880ZM576,886 573,885 570,880 570,878 572,876 574,876 576,878 577,884 576,886ZM598,893 596,892 593,890 593,885 596,882 600,880 603,880 606,882 607,884 607,886 602,891 598,893ZM858,889 855,889 853,886 854,883 856,881 860,882 861,884 860,886 858,889ZM840,894 836,893 834,891 834,890 837,889 840,890 841,892 840,894ZM550,900 546,901 542,898 541,896 543,892 548,890 550,892 552,897 550,900ZM572,909 568,908 568,906 569,903 572,901 573,903 574,906 573,909 572,909ZM622,914 616,914 613,912 613,910 621,904 626,903 627,906 627,909 622,914ZM864,909 862,909 862,908 864,906 866,906 866,908 864,909ZM598,915 594,915 592,914 594,909 598,906 602,908 606,910 606,912 603,914 598,915ZM800,919 797,918 796,915 796,910 800,910 801,914 801,916 800,919ZM843,917 840,917 838,915 840,912 843,910 845,912 846,914 843,917ZM776,923 772,920 770,915 771,912 772,911 776,912 778,915 778,920 777,922 776,923ZM536,923 531,922 531,918 534,918 538,920 539,921 536,923ZM646,924 645,925 644,925 643,922 644,920 646,917 648,920 646,924ZM885,925 882,925 881,924 882,921 884,919 885,919 885,925ZM754,937 752,936 748,932 748,926 750,923 753,924 756,928 756,934 754,937ZM627,939 624,940 620,938 617,936 617,933 622,930 628,932 630,934 627,939ZM860,936 856,936 855,934 858,931 861,930 863,932 864,933 860,936ZM600,944 597,944 596,943 594,940 594,938 597,933 603,933 606,934 606,938 600,944ZM574,942 572,942 570,939 570,936 572,934 574,935 576,937 576,940 574,942ZM729,941 726,941 723,939 723,936 724,934 726,934 728,936 729,941ZM549,954 545,950 544,946 548,946 549,948 550,952 549,954ZM880,953 878,954 876,952 876,948 878,945 880,946 882,948 882,951 880,953ZM740,962 736,961 735,958 735,951 736,949 740,950 742,954 742,958 740,962ZM712,962 710,962 705,958 705,954 708,951 711,951 713,952 714,958 712,962ZM645,959 640,959 639,958 639,956 642,952 646,951 648,954 645,959ZM620,965 613,964 610,962 610,960 616,956 622,956 624,957 625,960 622,963 620,965ZM860,963 855,964 852,963 851,960 852,957 855,955 860,957 862,960 860,963ZM574,963 572,963 572,960 575,960 574,963ZM786,962 784,962 786,960 787,962 786,962ZM834,968 832,968 830,968 828,966 828,964 830,963 832,963 834,966 834,968ZM694,978 684,978 687,973 690,971 694,974 694,978ZM758,978 754,978 753,976 754,974 756,971 758,972 759,974 759,976 758,978ZM876,978 870,978 874,975 876,976 877,978 876,978Z"/></g></g>
<path d="M815.3,926.5 L814.8,927.0 L813.8,928.1 L812.8,929.1 L811.8,930.1 L810.8,931.1 L809.7,932.1 L808.7,933.1 L807.6,934.1 L806.5,935.1 L805.5,936.1 L804.4,937.1 L803.3,938.0 L802.2,939.0 L801.1,939.9 L799.9,940.8 L798.8,941.7 L797.6,942.7 L796.5,943.6 L795.3,944.4 L794.1,945.3 L792.9,946.2 L791.7,947.0 L790.5,947.9 L789.3,948.7 L788.1,949.5 L786.9,950.3 L785.6,951.1 L784.4,951.9 L783.1,952.7 L781.8,953.5 L780.5,954.2 L779.2,955.0 L777.9,955.7 L776.6,956.4 L775.3,957.1 L774.0,957.8 L772.7,958.5 L771.3,959.1 L770.0,959.8 L768.6,960.4 L767.3,961.0 L765.9,961.6 L764.5,962.2 L763.1,962.8 L761.7,963.4 L760.3,963.9 L758.9,964.5 L757.5,965.0 L756.1,965.5 L754.7,966.0 L753.3,966.5 L751.8,967.0 L750.4,967.4 L748.9,967.9 L747.5,968.3 L746.0,968.7 L744.6,969.1 L743.1,969.5 L741.6,969.8 L740.1,970.2 L738.7,970.5 L737.2,970.8 L735.7,971.2 L734.2,971.4 L732.7,971.7 L731.2,972.0 L729.7,972.2 L728.2,972.5 L726.7,972.7 L725.2,972.9 L723.6,973.1 L722.1,973.2 L720.6,973.4 L719.1,973.6 L717.6,973.7 L716.0,973.8 L714.5,973.9 L713.0,974.0 L711.4,974.1 L709.9,974.1 L708.4,974.1 L706.8,974.2 L705.3,974.2 L703.8,974.2 L702.2,974.2 L700.7,974.1 L699.2,974.1 L697.6,974.0 L696.1,974.0 L694.5,973.9 L693.0,973.8 L691.5,973.7 L689.9,973.5 L688.4,973.4 L686.9,973.2 L685.3,973.0 L683.8,972.9 L682.3,972.7 L680.7,972.4 L679.2,972.2 L677.7,972.0 L676.1,971.7 L674.6,971.5 L673.1,971.2 L671.6,970.9 L670.0,970.6 L668.5,970.2 L667.0,969.9 L665.5,969.6 L664.0,969.2 L662.5,968.8 L661.0,968.4 L659.5,968.0 L658.0,967.6 L656.5,967.2 L655.0,966.8 L653.5,966.3 L652.0,965.8 L650.5,965.4 L649.0,964.9 L647.6,964.4 L646.1,963.9 L644.6,963.3 L643.1,962.8 L641.7,962.2 L640.2,961.7 L638.8,961.1 L637.3,960.5 L635.9,959.9 L634.4,959.3 L633.0,958.7 L631.5,958.0 L630.1,957.4 L628.7,956.7 L627.3,956.0 L625.9,955.3 L624.5,954.6 L623.0,953.9 L621.7,953.2 L620.3,952.5 L618.9,951.7 L617.5,950.9 L616.1,950.2 L614.7,949.4 L613.4,948.6 L612.0,947.8 L610.7,947.0 L609.3,946.1 L608.0,945.3 L606.6,944.4 L605.3,943.6 L604.0,942.7 L602.7,941.8 L601.4,940.9 L600.1,940.0 L598.8,939.0 L597.5,938.1 L596.2,937.1 L595.0,936.2 L593.7,935.2 L592.5,934.2 L591.2,933.2 L590.0,932.2 L588.8,931.2 L587.5,930.1 L586.3,929.1 L585.1,928.0 L583.9,927.0 L582.8,925.9 L581.6,924.8 L580.4,923.7 L580.1,923.4M567.5,909.8 L567.3,909.6 L566.3,908.3 L565.3,907.1 L564.3,905.8 L563.3,904.5 L562.4,903.2 L561.4,901.9 L560.5,900.6 L559.5,899.3 L558.6,898.0 L557.7,896.6 L556.8,895.3 L556.0,893.9 L555.1,892.5 L554.3,891.2 L553.4,889.8 L552.6,888.4 L551.8,887.0 L551.1,885.6 L550.3,884.1 L549.5,882.7 L548.8,881.3 L548.1,879.8 L547.4,878.4 L546.7,876.9 L546.0,875.4 L545.4,873.9 L544.8,872.5 L544.2,871.0 L543.6,869.5 L543.0,868.0 L542.4,866.4 L541.9,864.9 L541.3,863.4 L540.8,861.9 L540.3,860.3 L539.9,858.8 L539.4,857.2 L539.0,855.7 L538.6,854.1 L538.2,852.6 L537.8,851.0 L537.4,849.4 L537.1,847.9 L536.8,846.3 L536.5,844.7 L536.2,843.1 L535.9,841.5 L535.7,839.9 L535.5,838.4 L535.2,836.8 L535.1,835.2 L534.9,833.6 L534.8,832.0 L534.6,830.4 L534.5,828.8 L534.4,827.2 L534.4,825.6 L534.3,824.0 L534.3,822.4 L534.3,820.8 L534.3,819.2 L534.3,817.6 L534.4,816.0 L534.5,814.4 L534.6,812.8 L534.7,811.2 L534.8,809.6 L535.0,808.1 L535.1,806.5 L535.3,804.9 L535.5,803.3 L535.8,801.8 L536.0,800.2 L536.3,798.7 L536.6,797.1 L536.9,795.6 L537.2,794.0 L537.5,792.5 L537.9,790.9 L538.3,789.4 L538.7,787.9 L539.1,786.4 L539.5,784.9 L539.9,783.4 L540.4,781.9 L540.9,780.4 L541.4,778.9 L541.9,777.5 L542.4,776.0 L543.0,774.6 L543.5,773.1 L544.1,771.7 L544.7,770.2 L545.3,768.8 L546.0,767.4 L546.6,766.0 L547.2,764.6 L547.9,763.2 L548.6,761.9 L549.3,760.5 L550.0,759.2 L550.7,757.8 L551.5,756.5 L552.2,755.2 L553.0,753.9 L553.7,752.6 L554.5,751.3 L555.3,750.0 L556.1,748.7 L556.9,747.5 L557.8,746.2 L558.6,745.0 L559.4,743.8 L560.3,742.5 L561.2,741.3 L562.0,740.1 L562.9,739.0 L563.8,737.8 L564.7,736.6 L565.6,735.5 L566.6,734.3 L567.5,733.2 L568.4,732.1 L569.4,731.0 L570.3,729.9 L571.3,728.8 L572.2,727.7 L573.2,726.7 L574.2,725.6 L575.1,724.6 L576.1,723.5 L577.1,722.5 L578.1,721.5 L579.1,720.5 L580.1,719.5 L581.1,718.5 L582.1,717.5 L583.1,716.5 L584.1,715.6 L585.1,714.6 L586.1,713.7 L587.2,712.8 L588.2,711.8 L589.2,710.9 L590.2,710.0 L591.3,709.1 L592.3,708.2 L593.3,707.4 L594.4,706.5 L595.4,705.6 L596.4,704.8 L597.5,703.9 L598.5,703.1 L599.6,702.2 L600.6,701.4 L601.6,700.6 L602.7,699.7 L603.7,699.0M619.6,687.1 L620.4,686.5 L621.4,685.8 L622.5,685.0 L623.5,684.3 L624.6,683.5 L625.6,682.8 L626.6,682.1 L627.7,681.3 L628.7,680.6 L629.8,679.9 L630.8,679.1 L631.9,678.4 L632.9,677.7 L633.9,676.9 L635.0,676.2 L636.0,675.5 L637.1,674.8 L638.1,674.0 L639.2,673.3 L640.3,672.6 L641.3,671.9 L642.4,671.2 L643.4,670.4 L644.5,669.7 L645.6,669.0 L646.6,668.3 L647.7,667.6 L648.8,666.8 L649.9,666.1 L650.9,665.4 L652.0,664.7 L653.1,664.0 L654.2,663.2 L655.3,662.5 L656.4,661.8 L657.5,661.1 L658.6,660.4 L659.8,659.7 L660.9,658.9 L662.0,658.2 L663.1,657.5 L664.3,656.8 L665.4,656.1 L666.6,655.4 L667.7,654.7 L668.9,654.0 L670.1,653.3 L671.2,652.6 L672.4,651.9 L673.6,651.2 L674.8,650.5 L676.0,649.8 L677.2,649.1 L678.4,648.4 L679.7,647.7 L680.9,647.1 L682.1,646.4 L683.4,645.7 L684.6,645.1 L685.9,644.4 L687.2,643.7 L687.4,643.6M705.6,635.4 L705.9,635.3 L707.3,634.7 L708.8,634.2 L710.2,633.7 L711.6,633.1 L713.1,632.6 L714.5,632.2 L716.0,631.7 L717.4,631.2 L718.9,630.8 L720.4,630.3 L721.9,629.9 L723.4,629.5 L724.9,629.1 L726.4,628.7 L727.9,628.3 L729.4,627.9 L731.0,627.6 L732.5,627.3 L734.1,626.9 L735.6,626.6 L737.2,626.4 L738.8,626.1 L740.3,625.8 L741.9,625.6 L743.5,625.4 L745.1,625.2 L746.7,625.0 L748.3,624.8 L749.9,624.7 L751.5,624.6 L753.1,624.5 L754.7,624.4 L756.4,624.3 L758.0,624.3 L759.6,624.2 L761.2,624.2 L762.9,624.3 L764.5,624.3 L766.1,624.3 L767.8,624.4 L769.4,624.5 L771.0,624.6 L772.7,624.8 L774.3,624.9 L776.0,625.1 L777.6,625.3 L779.2,625.5 L780.9,625.8 L782.5,626.1 L784.1,626.4 L785.7,626.7 L787.4,627.0 L789.0,627.4 L790.6,627.8 L792.2,628.2 L793.8,628.6 L795.4,629.1 L797.0,629.5 L798.6,630.0 L800.2,630.5 L801.7,631.1 L803.3,631.7 L804.9,632.2 L806.4,632.9 L808.0,633.5 L809.5,634.1 L811.0,634.8 L812.5,635.5 L814.0,636.2 L815.5,637.0 L817.0,637.8 L818.5,638.5 L819.9,639.4 L821.4,640.2 L822.8,641.0 L824.3,641.9 L825.7,642.8 L827.1,643.7 L828.5,644.7 L829.8,645.6 L831.2,646.6 L832.5,647.6 L833.9,648.6 L835.2,649.6 L836.5,650.7 L837.8,651.8 L839.0,652.9 L840.3,654.0 L841.5,655.1 L842.7,656.3 L843.9,657.4 L845.1,658.6 L846.3,659.8 L847.4,661.0 L848.6,662.2 L849.7,663.5 L850.8,664.7 L851.8,666.0 L852.9,667.3 L853.6,668.2M864.2,684.0 L864.9,685.3 L865.7,686.8 L866.5,688.2 L867.2,689.7 L867.9,691.2 L868.6,692.7 L869.3,694.2 L870.0,695.7 L870.6,697.3 L871.3,698.8 L871.9,700.3 L872.5,701.9 L873.0,703.4 L873.6,705.0 L874.1,706.5 L874.6,708.1 L875.1,709.6 L875.6,711.2 L876.0,712.8 L876.5,714.4 L876.9,715.9 L877.3,717.5 L877.6,719.1 L878.0,720.7 L878.3,722.3 L878.6,723.9 L878.9,725.4 L879.2,727.0 L879.5,728.6 L879.7,730.2 L880.0,731.8 L880.2,733.4 L880.4,735.0 L880.6,736.6 L880.7,738.2 L880.9,739.7 L881.0,741.3 L881.1,742.9 L881.2,744.5 L881.3,746.1 L881.4,747.6 L881.4,749.2 L881.5,750.8 L881.5,752.3 L881.5,753.9 L881.5,755.5 L881.5,757.0 L881.5,758.6 L881.4,760.1 L881.4,761.7 L881.3,763.2 L881.2,764.7 L881.1,766.3 L881.0,767.8 L880.9,769.3 L880.8,770.8 L880.6,772.3 L880.5,773.9 L880.3,775.4 L880.1,776.9 L880.0,778.3 L879.8,779.8 L879.6,781.3 L879.4,782.8 L879.1,784.3 L878.9,785.7 L878.7,787.2 L878.4,788.6 L878.2,790.1 L877.9,791.5 L877.7,793.0 L877.4,794.4 L877.1,795.8 L876.8,797.2 L876.5,798.7 L876.2,800.1 L875.9,801.5 L875.6,802.9 L875.2,804.3 L874.9,805.7 L874.6,807.0 L874.2,808.4 L873.9,809.8 L873.5,811.2 L873.2,812.5 L872.8,813.9 L872.4,815.3 L872.0,816.6 L871.7,818.0 L871.3,819.3 L870.9,820.6 L870.5,822.0 L870.1,823.3 L869.7,824.6 L869.3,825.9 L868.9,827.3 L868.4,828.6 L868.0,829.9 L867.6,831.2 L867.1,832.5 L866.7,833.8 L866.3,835.1 L865.8,836.4 L865.4,837.7 L864.9,839.0 L864.5,840.2 L864.0,841.5 L863.5,842.8 L863.1,844.1 L862.6,845.4 L862.1,846.6 L861.6,847.9 L861.1,849.2 L860.7,850.4 L860.2,851.7 L859.7,852.9 L859.2,854.2 L858.6,855.4 L858.1,856.7 L857.6,857.9 L857.1,859.2 L856.6,860.4 L856.0,861.7 L855.5,862.9 L854.9,864.1 L854.4,865.4 L853.8,866.6 L853.3,867.9 L852.7,869.1 L852.1,870.3 L851.6,871.5 L851.0,872.8 L850.4,874.0 L849.8,875.2 L849.2,876.4 L848.6,877.6 L848.0,878.9 L847.4,880.1 L846.7,881.3 L846.1,882.5 L845.4,883.7 L844.8,884.9 L844.1,886.1 L843.5,887.3 L842.8,888.5 L842.1,889.7 L841.4,890.9 L840.8,892.1 L840.1,893.3 L839.3,894.5 L838.6,895.6 L837.9,896.8 L837.2,898.0 L836.4,899.2 L835.7,900.3 L834.9,901.5 L834.1,902.7 L833.4,903.8 L832.6,905.0 L831.8,906.1 L831.0,907.3 L830.2,908.4 L829.3,909.5 L828.5,910.7 L828.3,911.0M828.3,911.0 L886.6,957.8 Q888.8,959.6 887.0,961.7 L877.4,972.8 Q875.6,974.9 873.4,973.1 L815.3,926.5M567.5,909.8 L512.0,961.3 Q509.9,963.2 511.7,965.4 L519.9,975.4 Q521.7,977.6 523.8,975.7 L580.1,923.4M603.7,699.0 L558.2,639.1 Q556.5,636.9 558.8,635.3 L570.6,627.3 Q572.9,625.7 574.6,627.9 L619.6,687.1M687.4,643.6 L656.9,573.8 Q655.8,571.2 658.4,570.2 L671.9,565.0 Q674.5,564.0 675.6,566.6 L705.6,635.4M853.6,668.2 L917.7,628.4 Q920.1,626.9 921.7,629.2 L929.1,640.5 Q930.7,642.8 928.3,644.3 L864.2,684.0" fill="none" stroke="#000" stroke-width="2.0" stroke-linejoin="round"/>
<line x1="396.0" y1="995.6" x2="358.5" y2="965.7" stroke="#F84B2B" stroke-width="2.4"/><polygon points="344.3,954.4 370.1,958.9 359.3,966.4 354.4,978.6" fill="#F84B2B"/>
<line x1="18.2" y1="955.3" x2="52.8" y2="921.1" stroke="#F84B2B" stroke-width="2.4"/><polygon points="65.7,908.3 58.2,933.4 52.1,921.8 40.5,915.5" fill="#F84B2B"/>
<line x1="151.5" y1="665.6" x2="122.3" y2="628.0" stroke="#1F77B8" stroke-width="2.4"/><polygon points="111.1,613.6 135.2,624.0 122.9,628.8 115.3,639.5" fill="#1F77B8"/>
<line x1="249.5" y1="616.4" x2="229.1" y2="573.6" stroke="#1F77B8" stroke-width="2.4"/><polygon points="221.3,557.2 242.6,572.5 229.6,574.5 219.8,583.4" fill="#1F77B8"/>
<line x1="418.2" y1="688.8" x2="459.8" y2="665.3" stroke="#1F77B8" stroke-width="2.4"/><polygon points="475.6,656.4 461.8,678.7 458.9,665.8 449.4,656.7" fill="#1F77B8"/>
<line x1="870.1" y1="994.8" x2="832.3" y2="965.3" stroke="#F84B2B" stroke-width="2.4"/><polygon points="818.0,954.1 843.9,958.3 833.1,965.9 828.4,978.2" fill="#F84B2B"/>
<line x1="492.1" y1="955.0" x2="526.1" y2="920.9" stroke="#F84B2B" stroke-width="2.4"/><polygon points="538.9,908.0 531.6,933.2 525.4,921.6 513.7,915.4" fill="#F84B2B"/>
<line x1="626.0" y1="665.4" x2="596.0" y2="627.5" stroke="#1F77B8" stroke-width="2.4"/><polygon points="584.7,613.2 608.9,623.4 596.6,628.3 589.1,639.1" fill="#1F77B8"/>
<line x1="722.9" y1="616.3" x2="702.7" y2="573.0" stroke="#1F77B8" stroke-width="2.4"/><polygon points="695.0,556.5 716.1,572.0 703.1,573.9 693.3,582.7" fill="#1F77B8"/>
<line x1="891.7" y1="688.6" x2="933.1" y2="664.9" stroke="#1F77B8" stroke-width="2.4"/><polygon points="948.9,655.8 935.2,678.2 932.2,665.4 922.7,656.3" fill="#1F77B8"/>
<text x="325.5" y="989.8" font-size="31" font-style="italic" textLength="13" lengthAdjust="spacingAndGlyphs">1</text>
<text x="15.8" y="922.7" font-size="31" font-style="italic" textLength="18.2" lengthAdjust="spacingAndGlyphs">2</text>
<text x="146.5" y="644.5" font-size="33.5" font-style="italic" textLength="17.4" lengthAdjust="spacingAndGlyphs">3</text>
<text x="254.0" y="599.1" font-size="33.5" font-style="italic" textLength="17.8" lengthAdjust="spacingAndGlyphs">4</text>
<text x="473.2" y="689.5" font-size="33.5" font-style="italic" textLength="17.8" lengthAdjust="spacingAndGlyphs">5</text>
<text x="3" y="601" font-size="39" font-weight="bold" textLength="39" lengthAdjust="spacingAndGlyphs">(c)</text>
<text x="482" y="601" font-size="39" font-weight="bold" textLength="43" lengthAdjust="spacingAndGlyphs">(d)</text>
<text x="8" y="1033.3" font-size="36" textLength="431" lengthAdjust="spacingAndGlyphs">Isolated Resonances (Q~40000)</text>
<text x="478" y="1033.3" font-size="36" textLength="490" lengthAdjust="spacingAndGlyphs">Coupled Resonances (Q~500-1100)</text>
</svg>
</body></html>
